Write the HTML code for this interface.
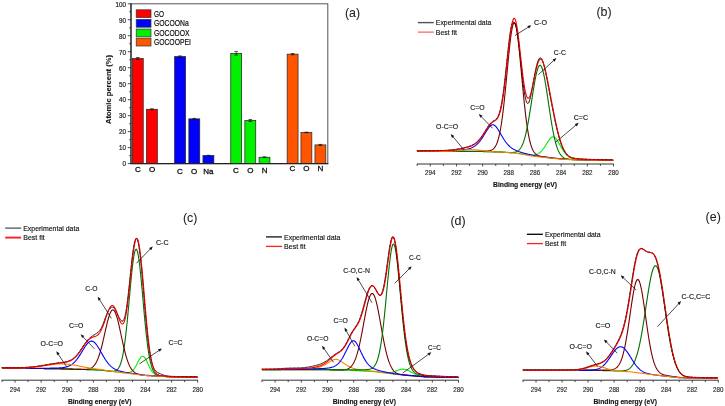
<!DOCTYPE html>
<html><head><meta charset="utf-8"><title>XPS figure</title>
<style>
html,body{margin:0;padding:0;background:#fff;}
body{width:725px;height:406px;overflow:hidden;}
svg{display:block;font-family:"Liberation Sans",sans-serif;will-change:transform;filter:blur(0.3px);}
</style></head>
<body>
<svg width="725" height="406" viewBox="0 0 725 406">
<rect x="0" y="0" width="725" height="406" fill="#fff"/>
<rect x="132.35" y="58.45" width="10.90" height="105.15" fill="#ff0000" stroke="#222" stroke-width="0.7"/>
<line x1="137.80" y1="57.49" x2="137.80" y2="59.41" stroke="#111" stroke-width="0.6"/>
<line x1="136.00" y1="57.49" x2="139.60" y2="57.49" stroke="#111" stroke-width="0.7"/>
<line x1="136.00" y1="59.41" x2="139.60" y2="59.41" stroke="#111" stroke-width="0.7"/>
<rect x="146.45" y="109.27" width="10.90" height="54.33" fill="#ff0000" stroke="#222" stroke-width="0.7"/>
<line x1="151.90" y1="108.79" x2="151.90" y2="109.75" stroke="#111" stroke-width="0.6"/>
<line x1="150.10" y1="108.79" x2="153.70" y2="108.79" stroke="#111" stroke-width="0.7"/>
<line x1="150.10" y1="109.75" x2="153.70" y2="109.75" stroke="#111" stroke-width="0.7"/>
<rect x="174.65" y="56.53" width="10.90" height="107.07" fill="#0000ff" stroke="#222" stroke-width="0.7"/>
<line x1="180.10" y1="55.89" x2="180.10" y2="57.17" stroke="#111" stroke-width="0.6"/>
<line x1="178.30" y1="55.89" x2="181.90" y2="55.89" stroke="#111" stroke-width="0.7"/>
<line x1="178.30" y1="57.17" x2="181.90" y2="57.17" stroke="#111" stroke-width="0.7"/>
<rect x="188.85" y="118.86" width="10.90" height="44.74" fill="#0000ff" stroke="#222" stroke-width="0.7"/>
<line x1="194.30" y1="118.38" x2="194.30" y2="119.34" stroke="#111" stroke-width="0.6"/>
<line x1="192.50" y1="118.38" x2="196.10" y2="118.38" stroke="#111" stroke-width="0.7"/>
<line x1="192.50" y1="119.34" x2="196.10" y2="119.34" stroke="#111" stroke-width="0.7"/>
<rect x="202.95" y="155.61" width="10.90" height="7.99" fill="#0000ff" stroke="#222" stroke-width="0.7"/>
<line x1="208.40" y1="155.29" x2="208.40" y2="155.93" stroke="#111" stroke-width="0.6"/>
<line x1="206.60" y1="155.29" x2="210.20" y2="155.29" stroke="#111" stroke-width="0.7"/>
<line x1="206.60" y1="155.93" x2="210.20" y2="155.93" stroke="#111" stroke-width="0.7"/>
<rect x="230.75" y="53.34" width="10.90" height="110.26" fill="#00f000" stroke="#222" stroke-width="0.7"/>
<line x1="236.20" y1="51.58" x2="236.20" y2="55.10" stroke="#111" stroke-width="0.6"/>
<line x1="234.40" y1="51.58" x2="238.00" y2="51.58" stroke="#111" stroke-width="0.7"/>
<line x1="234.40" y1="55.10" x2="238.00" y2="55.10" stroke="#111" stroke-width="0.7"/>
<rect x="244.85" y="120.45" width="10.90" height="43.15" fill="#00f000" stroke="#222" stroke-width="0.7"/>
<line x1="250.30" y1="119.50" x2="250.30" y2="121.41" stroke="#111" stroke-width="0.6"/>
<line x1="248.50" y1="119.50" x2="252.10" y2="119.50" stroke="#111" stroke-width="0.7"/>
<line x1="248.50" y1="121.41" x2="252.10" y2="121.41" stroke="#111" stroke-width="0.7"/>
<rect x="259.05" y="157.21" width="10.90" height="6.39" fill="#00f000" stroke="#222" stroke-width="0.7"/>
<line x1="264.50" y1="156.89" x2="264.50" y2="157.53" stroke="#111" stroke-width="0.6"/>
<line x1="262.70" y1="156.89" x2="266.30" y2="156.89" stroke="#111" stroke-width="0.7"/>
<line x1="262.70" y1="157.53" x2="266.30" y2="157.53" stroke="#111" stroke-width="0.7"/>
<rect x="287.15" y="54.14" width="10.90" height="109.46" fill="#ff5500" stroke="#222" stroke-width="0.7"/>
<line x1="292.60" y1="53.50" x2="292.60" y2="54.78" stroke="#111" stroke-width="0.6"/>
<line x1="290.80" y1="53.50" x2="294.40" y2="53.50" stroke="#111" stroke-width="0.7"/>
<line x1="290.80" y1="54.78" x2="294.40" y2="54.78" stroke="#111" stroke-width="0.7"/>
<rect x="300.95" y="132.44" width="10.90" height="31.16" fill="#ff5500" stroke="#222" stroke-width="0.7"/>
<line x1="306.40" y1="132.12" x2="306.40" y2="132.76" stroke="#111" stroke-width="0.6"/>
<line x1="304.60" y1="132.12" x2="308.20" y2="132.12" stroke="#111" stroke-width="0.7"/>
<line x1="304.60" y1="132.76" x2="308.20" y2="132.76" stroke="#111" stroke-width="0.7"/>
<rect x="314.95" y="144.90" width="10.90" height="18.70" fill="#ff5500" stroke="#222" stroke-width="0.7"/>
<line x1="320.40" y1="144.42" x2="320.40" y2="145.38" stroke="#111" stroke-width="0.6"/>
<line x1="318.60" y1="144.42" x2="322.20" y2="144.42" stroke="#111" stroke-width="0.7"/>
<line x1="318.60" y1="145.38" x2="322.20" y2="145.38" stroke="#111" stroke-width="0.7"/>
<rect x="131.00" y="3.80" width="196.80" height="159.80" fill="none" stroke="#555" stroke-width="1"/>
<line x1="131.00" y1="3.30" x2="131.00" y2="164.10" stroke="#222" stroke-width="1.2"/>
<line x1="130.50" y1="163.60" x2="328.30" y2="163.60" stroke="#222" stroke-width="1.2"/>
<line x1="127.80" y1="163.60" x2="131.00" y2="163.60" stroke="#222" stroke-width="0.8"/>
<line x1="129.20" y1="155.61" x2="131.00" y2="155.61" stroke="#222" stroke-width="0.8"/>
<line x1="127.80" y1="147.62" x2="131.00" y2="147.62" stroke="#222" stroke-width="0.8"/>
<line x1="129.20" y1="139.63" x2="131.00" y2="139.63" stroke="#222" stroke-width="0.8"/>
<line x1="127.80" y1="131.64" x2="131.00" y2="131.64" stroke="#222" stroke-width="0.8"/>
<line x1="129.20" y1="123.65" x2="131.00" y2="123.65" stroke="#222" stroke-width="0.8"/>
<line x1="127.80" y1="115.66" x2="131.00" y2="115.66" stroke="#222" stroke-width="0.8"/>
<line x1="129.20" y1="107.67" x2="131.00" y2="107.67" stroke="#222" stroke-width="0.8"/>
<line x1="127.80" y1="99.68" x2="131.00" y2="99.68" stroke="#222" stroke-width="0.8"/>
<line x1="129.20" y1="91.69" x2="131.00" y2="91.69" stroke="#222" stroke-width="0.8"/>
<line x1="127.80" y1="83.70" x2="131.00" y2="83.70" stroke="#222" stroke-width="0.8"/>
<line x1="129.20" y1="75.71" x2="131.00" y2="75.71" stroke="#222" stroke-width="0.8"/>
<line x1="127.80" y1="67.72" x2="131.00" y2="67.72" stroke="#222" stroke-width="0.8"/>
<line x1="129.20" y1="59.73" x2="131.00" y2="59.73" stroke="#222" stroke-width="0.8"/>
<line x1="127.80" y1="51.74" x2="131.00" y2="51.74" stroke="#222" stroke-width="0.8"/>
<line x1="129.20" y1="43.75" x2="131.00" y2="43.75" stroke="#222" stroke-width="0.8"/>
<line x1="127.80" y1="35.76" x2="131.00" y2="35.76" stroke="#222" stroke-width="0.8"/>
<line x1="129.20" y1="27.77" x2="131.00" y2="27.77" stroke="#222" stroke-width="0.8"/>
<line x1="127.80" y1="19.78" x2="131.00" y2="19.78" stroke="#222" stroke-width="0.8"/>
<line x1="129.20" y1="11.79" x2="131.00" y2="11.79" stroke="#222" stroke-width="0.8"/>
<line x1="127.80" y1="3.80" x2="131.00" y2="3.80" stroke="#222" stroke-width="0.8"/>
<text x="126.00" y="166.40" font-size="7.8" text-anchor="end" textLength="3.50" lengthAdjust="spacingAndGlyphs" fill="#222" stroke="#222" stroke-width="0.22">0</text>
<text x="126.00" y="150.42" font-size="7.8" text-anchor="end" textLength="7.00" lengthAdjust="spacingAndGlyphs" fill="#222" stroke="#222" stroke-width="0.22">10</text>
<text x="126.00" y="134.44" font-size="7.8" text-anchor="end" textLength="7.00" lengthAdjust="spacingAndGlyphs" fill="#222" stroke="#222" stroke-width="0.22">20</text>
<text x="126.00" y="118.46" font-size="7.8" text-anchor="end" textLength="7.00" lengthAdjust="spacingAndGlyphs" fill="#222" stroke="#222" stroke-width="0.22">30</text>
<text x="126.00" y="102.48" font-size="7.8" text-anchor="end" textLength="7.00" lengthAdjust="spacingAndGlyphs" fill="#222" stroke="#222" stroke-width="0.22">40</text>
<text x="126.00" y="86.50" font-size="7.8" text-anchor="end" textLength="7.00" lengthAdjust="spacingAndGlyphs" fill="#222" stroke="#222" stroke-width="0.22">50</text>
<text x="126.00" y="70.52" font-size="7.8" text-anchor="end" textLength="7.00" lengthAdjust="spacingAndGlyphs" fill="#222" stroke="#222" stroke-width="0.22">60</text>
<text x="126.00" y="54.54" font-size="7.8" text-anchor="end" textLength="7.00" lengthAdjust="spacingAndGlyphs" fill="#222" stroke="#222" stroke-width="0.22">70</text>
<text x="126.00" y="38.56" font-size="7.8" text-anchor="end" textLength="7.00" lengthAdjust="spacingAndGlyphs" fill="#222" stroke="#222" stroke-width="0.22">80</text>
<text x="126.00" y="22.58" font-size="7.8" text-anchor="end" textLength="7.00" lengthAdjust="spacingAndGlyphs" fill="#222" stroke="#222" stroke-width="0.22">90</text>
<text x="126.00" y="6.60" font-size="7.8" text-anchor="end" textLength="10.50" lengthAdjust="spacingAndGlyphs" fill="#222" stroke="#222" stroke-width="0.22">100</text>
<text x="110.80" y="89.50" font-size="7.2" text-anchor="middle" font-weight="bold" textLength="69.00" lengthAdjust="spacingAndGlyphs" transform="rotate(-90 110.80 89.50)" fill="#1a1a1a" stroke="#1a1a1a" stroke-width="0.14">Atomic percent (%)</text>
<rect x="136.20" y="9.80" width="14.80" height="7.80" fill="#ff0000" stroke="#333" stroke-width="0.7"/>
<rect x="136.20" y="19.40" width="14.80" height="7.80" fill="#0000ff" stroke="#333" stroke-width="0.7"/>
<rect x="136.20" y="29.05" width="14.80" height="7.80" fill="#00f000" stroke="#333" stroke-width="0.7"/>
<rect x="136.20" y="38.20" width="14.80" height="7.80" fill="#ff5500" stroke="#333" stroke-width="0.7"/>
<text x="153.90" y="16.80" font-size="8.7" textLength="10.00" lengthAdjust="spacingAndGlyphs" fill="#111" stroke="#111" stroke-width="0.2">GO</text>
<text x="153.90" y="26.40" font-size="8.7" textLength="34.80" lengthAdjust="spacingAndGlyphs" fill="#111" stroke="#111" stroke-width="0.2">GOCOONa</text>
<text x="153.90" y="36.05" font-size="8.7" textLength="35.80" lengthAdjust="spacingAndGlyphs" fill="#111" stroke="#111" stroke-width="0.2">GOCODOX</text>
<text x="153.90" y="45.20" font-size="8.7" textLength="37.00" lengthAdjust="spacingAndGlyphs" fill="#111" stroke="#111" stroke-width="0.2">GOCOOPEI</text>
<text x="137.80" y="172.20" font-size="8.0" text-anchor="middle" fill="#111" stroke="#111" stroke-width="0.3">C</text>
<text x="152.00" y="172.20" font-size="8.0" text-anchor="middle" fill="#111" stroke="#111" stroke-width="0.3">O</text>
<text x="180.00" y="173.50" font-size="8.0" text-anchor="middle" fill="#111" stroke="#111" stroke-width="0.3">C</text>
<text x="194.20" y="173.50" font-size="8.0" text-anchor="middle" fill="#111" stroke="#111" stroke-width="0.3">O</text>
<text x="208.40" y="173.50" font-size="8.0" text-anchor="middle" fill="#111" stroke="#111" stroke-width="0.3">Na</text>
<text x="236.00" y="172.60" font-size="8.0" text-anchor="middle" fill="#111" stroke="#111" stroke-width="0.3">C</text>
<text x="250.30" y="172.60" font-size="8.0" text-anchor="middle" fill="#111" stroke="#111" stroke-width="0.3">O</text>
<text x="264.60" y="172.60" font-size="8.0" text-anchor="middle" fill="#111" stroke="#111" stroke-width="0.3">N</text>
<text x="292.50" y="171.10" font-size="8.0" text-anchor="middle" fill="#111" stroke="#111" stroke-width="0.3">C</text>
<text x="306.40" y="171.10" font-size="8.0" text-anchor="middle" fill="#111" stroke="#111" stroke-width="0.3">O</text>
<text x="320.50" y="171.10" font-size="8.0" text-anchor="middle" fill="#111" stroke="#111" stroke-width="0.3">N</text>
<text x="352.50" y="16.70" font-size="12.4" text-anchor="middle" fill="#222" stroke="#222" stroke-width="0.05">(a)</text>
<line x1="416.90" y1="164.00" x2="613.80" y2="164.00" stroke="#333" stroke-width="1.0"/>
<line x1="417.20" y1="164.00" x2="417.20" y2="165.90" stroke="#333" stroke-width="0.9"/>
<line x1="430.29" y1="164.00" x2="430.29" y2="166.40" stroke="#333" stroke-width="0.9"/>
<line x1="443.37" y1="164.00" x2="443.37" y2="165.90" stroke="#333" stroke-width="0.9"/>
<line x1="456.46" y1="164.00" x2="456.46" y2="166.40" stroke="#333" stroke-width="0.9"/>
<line x1="469.55" y1="164.00" x2="469.55" y2="165.90" stroke="#333" stroke-width="0.9"/>
<line x1="482.63" y1="164.00" x2="482.63" y2="166.40" stroke="#333" stroke-width="0.9"/>
<line x1="495.72" y1="164.00" x2="495.72" y2="165.90" stroke="#333" stroke-width="0.9"/>
<line x1="508.81" y1="164.00" x2="508.81" y2="166.40" stroke="#333" stroke-width="0.9"/>
<line x1="521.89" y1="164.00" x2="521.89" y2="165.90" stroke="#333" stroke-width="0.9"/>
<line x1="534.98" y1="164.00" x2="534.98" y2="166.40" stroke="#333" stroke-width="0.9"/>
<line x1="548.07" y1="164.00" x2="548.07" y2="165.90" stroke="#333" stroke-width="0.9"/>
<line x1="561.15" y1="164.00" x2="561.15" y2="166.40" stroke="#333" stroke-width="0.9"/>
<line x1="574.24" y1="164.00" x2="574.24" y2="165.90" stroke="#333" stroke-width="0.9"/>
<line x1="587.33" y1="164.00" x2="587.33" y2="166.40" stroke="#333" stroke-width="0.9"/>
<line x1="600.41" y1="164.00" x2="600.41" y2="165.90" stroke="#333" stroke-width="0.9"/>
<line x1="613.50" y1="164.00" x2="613.50" y2="166.40" stroke="#333" stroke-width="0.9"/>
<text x="430.29" y="174.80" font-size="7.2" text-anchor="middle" textLength="10.40" lengthAdjust="spacingAndGlyphs" fill="#222" stroke="#222" stroke-width="0.14">294</text>
<text x="456.46" y="174.80" font-size="7.2" text-anchor="middle" textLength="10.40" lengthAdjust="spacingAndGlyphs" fill="#222" stroke="#222" stroke-width="0.14">292</text>
<text x="482.63" y="174.80" font-size="7.2" text-anchor="middle" textLength="10.40" lengthAdjust="spacingAndGlyphs" fill="#222" stroke="#222" stroke-width="0.14">290</text>
<text x="508.81" y="174.80" font-size="7.2" text-anchor="middle" textLength="10.40" lengthAdjust="spacingAndGlyphs" fill="#222" stroke="#222" stroke-width="0.14">288</text>
<text x="534.98" y="174.80" font-size="7.2" text-anchor="middle" textLength="10.40" lengthAdjust="spacingAndGlyphs" fill="#222" stroke="#222" stroke-width="0.14">286</text>
<text x="561.15" y="174.80" font-size="7.2" text-anchor="middle" textLength="10.40" lengthAdjust="spacingAndGlyphs" fill="#222" stroke="#222" stroke-width="0.14">284</text>
<text x="587.33" y="174.80" font-size="7.2" text-anchor="middle" textLength="10.40" lengthAdjust="spacingAndGlyphs" fill="#222" stroke="#222" stroke-width="0.14">282</text>
<text x="613.50" y="174.80" font-size="7.2" text-anchor="middle" textLength="10.40" lengthAdjust="spacingAndGlyphs" fill="#222" stroke="#222" stroke-width="0.14">280</text>
<text x="493.00" y="186.60" font-size="7.4" font-weight="bold" textLength="64.00" lengthAdjust="spacingAndGlyphs" fill="#111" stroke="#111" stroke-width="0.14">Binding energy (eV)</text>
<path d="M417.2,151.38 L417.7,151.38 L418.2,151.38 L418.7,151.38 L419.2,151.38 L419.7,151.38 L420.2,151.38 L420.7,151.38 L421.2,151.38 L421.7,151.38 L422.2,151.39 L422.7,151.39 L423.2,151.39 L423.7,151.39 L424.2,151.39 L424.7,151.39 L425.2,151.39 L425.7,151.39 L426.2,151.39 L426.7,151.39 L427.2,151.39 L427.7,151.39 L428.2,151.39 L428.7,151.39 L429.2,151.39 L429.7,151.39 L430.2,151.40 L430.7,151.40 L431.2,151.40 L431.7,151.40 L432.2,151.40 L432.7,151.40 L433.2,151.40 L433.7,151.40 L434.2,151.40 L434.7,151.40 L435.2,151.40 L435.7,151.40 L436.2,151.40 L436.7,151.40 L437.2,151.40 L437.7,151.40 L438.2,151.40 L438.7,151.40 L439.2,151.41 L439.7,151.41 L440.2,151.41 L440.7,151.41 L441.2,151.41 L441.7,151.41 L442.2,151.41 L442.7,151.41 L443.2,151.41 L443.7,151.41 L444.2,151.41 L444.7,151.41 L445.2,151.41 L445.7,151.41 L446.2,151.41 L446.7,151.41 L447.2,151.41 L447.7,151.41 L448.2,151.41 L448.7,151.41 L449.2,151.42 L449.7,151.42 L450.2,151.42 L450.7,151.42 L451.2,151.42 L451.7,151.42 L452.2,151.42 L452.7,151.42 L453.2,151.42 L453.7,151.42 L454.2,151.42 L454.7,151.42 L455.2,151.42 L455.7,151.42 L456.2,151.42 L456.7,151.42 L457.2,151.42 L457.7,151.42 L458.2,151.42 L458.7,151.42 L459.2,151.42 L459.7,151.42 L460.2,151.42 L460.7,151.42 L461.2,151.42 L461.7,151.42 L462.2,151.42 L462.7,151.43 L463.2,151.43 L463.7,151.43 L464.2,151.43 L464.7,151.43 L465.2,151.43 L465.7,151.43 L466.2,151.43 L466.7,151.43 L467.2,151.43 L467.7,151.43 L468.2,151.43 L468.7,151.43 L469.2,151.43 L469.7,151.43 L470.2,151.43 L470.7,151.43 L471.2,151.43 L471.7,151.43 L472.2,151.43 L472.7,151.43 L473.2,151.43 L473.7,151.43 L474.2,151.43 L474.7,151.43 L475.2,151.43 L475.7,151.43 L476.2,151.43 L476.7,151.43 L477.2,151.43 L477.7,151.43 L478.2,151.43 L478.7,151.43 L479.2,151.43 L479.7,151.43 L480.2,151.43 L480.7,151.44 L481.2,151.46 L481.7,151.47 L482.2,151.48 L482.7,151.49 L483.2,151.50 L483.7,151.51 L484.2,151.52 L484.7,151.54 L485.2,151.55 L485.7,151.56 L486.2,151.57 L486.7,151.58 L487.2,151.59 L487.7,151.60 L488.2,151.61 L488.7,151.62 L489.2,151.64 L489.7,151.65 L490.2,151.66 L490.7,151.67 L491.2,151.68 L491.7,151.69 L492.2,151.70 L492.7,151.71 L493.2,151.72 L493.7,151.73 L494.2,151.74 L494.7,151.76 L495.2,151.77 L495.7,151.78 L496.2,151.79 L496.7,151.80 L497.2,151.81 L497.7,151.82 L498.2,151.83 L498.7,151.84 L499.2,151.85 L499.7,151.86 L500.2,151.88 L500.7,151.91 L501.2,151.95 L501.7,151.98 L502.2,152.01 L502.7,152.05 L503.2,152.08 L503.7,152.12 L504.2,152.15 L504.7,152.18 L505.2,152.22 L505.7,152.25 L506.2,152.28 L506.7,152.32 L507.2,152.35 L507.7,152.38 L508.2,152.41 L508.7,152.45 L509.2,152.48 L509.7,152.51 L510.2,152.54 L510.7,152.58 L511.2,152.61 L511.7,152.64 L512.2,152.67 L512.7,152.70 L513.2,152.73 L513.7,152.76 L514.2,152.80 L514.7,152.83 L515.2,152.88 L515.7,152.95 L516.2,153.03 L516.7,153.11 L517.2,153.19 L517.7,153.27 L518.2,153.34 L518.7,153.42 L519.2,153.50 L519.7,153.57 L520.2,153.65 L520.7,153.72 L521.2,153.80 L521.7,153.87 L522.2,153.94 L522.7,154.02 L523.2,154.09 L523.7,154.16 L524.2,154.23 L524.7,154.30 L525.2,154.37 L525.7,154.44 L526.2,154.50 L526.7,154.57 L527.2,154.63 L527.7,154.69 L528.2,154.74 L528.7,154.80 L529.2,154.85 L529.7,154.90 L530.2,154.94 L530.7,154.97 L531.2,155.00 L531.7,155.02 L532.2,155.03 L532.7,155.04 L533.2,155.03 L533.7,155.01 L534.2,154.97 L534.7,154.92 L535.2,154.83 L535.7,154.71 L536.2,154.56 L536.7,154.39 L537.2,154.19 L537.7,153.96 L538.2,153.70 L538.7,153.40 L539.2,153.07 L539.7,152.70 L540.2,152.30 L540.7,151.85 L541.2,151.36 L541.7,150.83 L542.2,150.26 L542.7,149.65 L543.2,149.00 L543.7,148.32 L544.2,147.60 L544.7,146.85 L545.2,146.08 L545.7,145.29 L546.2,144.49 L546.7,143.67 L547.2,142.87 L547.7,142.07 L548.2,141.29 L548.7,140.54 L549.2,139.83 L549.7,139.17 L550.2,138.57 L550.7,138.05 L551.2,137.61 L551.7,137.27 L552.2,137.03 L552.7,136.89 L553.2,136.87 L553.7,136.97 L554.2,137.17 L554.7,137.49 L555.2,137.91 L555.7,138.41 L556.2,138.99 L556.7,139.66 L557.2,140.39 L557.7,141.17 L558.2,142.00 L558.7,142.86 L559.2,143.74 L559.7,144.64 L560.2,145.54 L560.7,146.44 L561.2,147.32 L561.7,148.19 L562.2,149.03 L562.7,149.84 L563.2,150.63 L563.7,151.37 L564.2,152.08 L564.7,152.75 L565.2,153.38 L565.7,153.97 L566.2,154.51 L566.7,155.02 L567.2,155.49 L567.7,155.92 L568.2,156.31 L568.7,156.67 L569.2,156.98 L569.7,157.26 L570.2,157.50 L570.7,157.72 L571.2,157.92 L571.7,158.09 L572.2,158.25 L572.7,158.39 L573.2,158.51 L573.7,158.62 L574.2,158.72 L574.7,158.81 L575.2,158.88 L575.7,158.96 L576.2,159.02 L576.7,159.08 L577.2,159.13 L577.7,159.18 L578.2,159.22 L578.7,159.26 L579.2,159.30 L579.7,159.34 L580.2,159.37 L580.7,159.40 L581.2,159.44 L581.7,159.46 L582.2,159.49 L582.7,159.52 L583.2,159.55 L583.7,159.57 L584.2,159.60 L584.7,159.62 L585.2,159.64 L585.7,159.66 L586.2,159.68 L586.7,159.69 L587.2,159.71 L587.7,159.72 L588.2,159.74 L588.7,159.76 L589.2,159.77 L589.7,159.78 L590.2,159.80 L590.7,159.81 L591.2,159.83 L591.7,159.84 L592.2,159.85 L592.7,159.86 L593.2,159.88 L593.7,159.89 L594.2,159.90 L594.7,159.91 L595.2,159.93 L595.7,159.94 L596.2,159.95 L596.7,159.96 L597.2,159.97 L597.7,159.98 L598.2,159.99 L598.7,160.01 L599.2,160.02 L599.7,160.03 L600.2,160.04 L600.7,160.05 L601.2,160.06 L601.7,160.07 L602.2,160.08 L602.7,160.09 L603.2,160.10 L603.7,160.11 L604.2,160.12 L604.7,160.13 L605.2,160.14 L605.7,160.15 L606.2,160.16 L606.7,160.17 L607.2,160.17 L607.7,160.18 L608.2,160.19 L608.7,160.20 L609.2,160.21 L609.7,160.22 L610.2,160.23 L610.7,160.24 L611.2,160.25 L611.7,160.26 L612.2,160.26 L612.7,160.27 L613.2,160.28" fill="none" stroke="#00ee00" stroke-width="1.1" stroke-linejoin="round" stroke-opacity="1.0"/>
<path d="M417.2,151.14 L417.7,151.13 L418.2,151.13 L418.7,151.13 L419.2,151.13 L419.7,151.12 L420.2,151.12 L420.7,151.12 L421.2,151.11 L421.7,151.11 L422.2,151.11 L422.7,151.10 L423.2,151.10 L423.7,151.10 L424.2,151.09 L424.7,151.09 L425.2,151.09 L425.7,151.08 L426.2,151.08 L426.7,151.07 L427.2,151.07 L427.7,151.06 L428.2,151.06 L428.7,151.06 L429.2,151.05 L429.7,151.05 L430.2,151.04 L430.7,151.04 L431.2,151.03 L431.7,151.02 L432.2,151.02 L432.7,151.01 L433.2,151.01 L433.7,151.00 L434.2,151.00 L434.7,150.99 L435.2,150.98 L435.7,150.98 L436.2,150.97 L436.7,150.96 L437.2,150.95 L437.7,150.95 L438.2,150.94 L438.7,150.93 L439.2,150.92 L439.7,150.91 L440.2,150.90 L440.7,150.90 L441.2,150.89 L441.7,150.88 L442.2,150.87 L442.7,150.86 L443.2,150.85 L443.7,150.84 L444.2,150.82 L444.7,150.81 L445.2,150.80 L445.7,150.79 L446.2,150.78 L446.7,150.76 L447.2,150.75 L447.7,150.73 L448.2,150.72 L448.7,150.71 L449.2,150.69 L449.7,150.67 L450.2,150.66 L450.7,150.64 L451.2,150.62 L451.7,150.60 L452.2,150.59 L452.7,150.57 L453.2,150.55 L453.7,150.52 L454.2,150.50 L454.7,150.48 L455.2,150.45 L455.7,150.43 L456.2,150.40 L456.7,150.38 L457.2,150.35 L457.7,150.32 L458.2,150.29 L458.7,150.25 L459.2,150.22 L459.7,150.18 L460.2,150.14 L460.7,150.10 L461.2,150.06 L461.7,150.02 L462.2,149.97 L462.7,149.91 L463.2,149.86 L463.7,149.80 L464.2,149.74 L464.7,149.67 L465.2,149.59 L465.7,149.51 L466.2,149.43 L466.7,149.33 L467.2,149.23 L467.7,149.12 L468.2,149.01 L468.7,148.88 L469.2,148.74 L469.7,148.59 L470.2,148.42 L470.7,148.24 L471.2,148.05 L471.7,147.84 L472.2,147.61 L472.7,147.36 L473.2,147.09 L473.7,146.80 L474.2,146.49 L474.7,146.16 L475.2,145.80 L475.7,145.42 L476.2,145.01 L476.7,144.57 L477.2,144.10 L477.7,143.60 L478.2,143.08 L478.7,142.53 L479.2,141.94 L479.7,141.33 L480.2,140.69 L480.7,140.03 L481.2,139.34 L481.7,138.63 L482.2,137.89 L482.7,137.13 L483.2,136.35 L483.7,135.56 L484.2,134.75 L484.7,133.93 L485.2,133.10 L485.7,132.28 L486.2,131.46 L486.7,130.65 L487.2,129.86 L487.7,129.09 L488.2,128.36 L488.7,127.67 L489.2,127.04 L489.7,126.46 L490.2,125.96 L490.7,125.53 L491.2,125.18 L491.7,124.93 L492.2,124.77 L492.7,124.71 L493.2,124.75 L493.7,124.89 L494.2,125.13 L494.7,125.46 L495.2,125.88 L495.7,126.38 L496.2,126.95 L496.7,127.58 L497.2,128.27 L497.7,129.01 L498.2,129.79 L498.7,130.59 L499.2,131.42 L499.7,132.26 L500.2,133.12 L500.7,133.99 L501.2,134.86 L501.7,135.73 L502.2,136.58 L502.7,137.42 L503.2,138.24 L503.7,139.03 L504.2,139.81 L504.7,140.55 L505.2,141.27 L505.7,141.97 L506.2,142.63 L506.7,143.26 L507.2,143.87 L507.7,144.45 L508.2,144.99 L508.7,145.51 L509.2,146.00 L509.7,146.46 L510.2,146.89 L510.7,147.30 L511.2,147.68 L511.7,148.04 L512.2,148.37 L512.7,148.69 L513.2,148.98 L513.7,149.25 L514.2,149.51 L514.7,149.75 L515.2,149.99 L515.7,150.25 L516.2,150.49 L516.7,150.72 L517.2,150.94 L517.7,151.15 L518.2,151.35 L518.7,151.54 L519.2,151.72 L519.7,151.90 L520.2,152.07 L520.7,152.23 L521.2,152.39 L521.7,152.54 L522.2,152.68 L522.7,152.83 L523.2,152.97 L523.7,153.10 L524.2,153.23 L524.7,153.36 L525.2,153.49 L525.7,153.62 L526.2,153.74 L526.7,153.86 L527.2,153.98 L527.7,154.10 L528.2,154.21 L528.7,154.33 L529.2,154.44 L529.7,154.56 L530.2,154.67 L530.7,154.78 L531.2,154.89 L531.7,154.99 L532.2,155.10 L532.7,155.21 L533.2,155.31 L533.7,155.42 L534.2,155.52 L534.7,155.63 L535.2,155.72 L535.7,155.79 L536.2,155.86 L536.7,155.93 L537.2,156.00 L537.7,156.06 L538.2,156.13 L538.7,156.20 L539.2,156.26 L539.7,156.33 L540.2,156.40 L540.7,156.46 L541.2,156.53 L541.7,156.59 L542.2,156.66 L542.7,156.72 L543.2,156.78 L543.7,156.85 L544.2,156.91 L544.7,156.97 L545.2,157.03 L545.7,157.10 L546.2,157.16 L546.7,157.22 L547.2,157.28 L547.7,157.34 L548.2,157.40 L548.7,157.46 L549.2,157.53 L549.7,157.59 L550.2,157.65 L550.7,157.71 L551.2,157.77 L551.7,157.83 L552.2,157.88 L552.7,157.94 L553.2,158.00 L553.7,158.06 L554.2,158.12 L554.7,158.18 L555.2,158.23 L555.7,158.27 L556.2,158.31 L556.7,158.36 L557.2,158.40 L557.7,158.44 L558.2,158.48 L558.7,158.52 L559.2,158.56 L559.7,158.60 L560.2,158.64 L560.7,158.68 L561.2,158.72 L561.7,158.76 L562.2,158.80 L562.7,158.84 L563.2,158.88 L563.7,158.92 L564.2,158.96 L564.7,159.00 L565.2,159.04 L565.7,159.08 L566.2,159.12 L566.7,159.16 L567.2,159.20 L567.7,159.24 L568.2,159.28 L568.7,159.32 L569.2,159.35 L569.7,159.36 L570.2,159.38 L570.7,159.39 L571.2,159.41 L571.7,159.43 L572.2,159.44 L572.7,159.46 L573.2,159.47 L573.7,159.49 L574.2,159.50 L574.7,159.52 L575.2,159.53 L575.7,159.55 L576.2,159.56 L576.7,159.58 L577.2,159.59 L577.7,159.61 L578.2,159.62 L578.7,159.64 L579.2,159.65 L579.7,159.67 L580.2,159.68 L580.7,159.70 L581.2,159.71 L581.7,159.73 L582.2,159.74 L582.7,159.76 L583.2,159.77 L583.7,159.78 L584.2,159.80 L584.7,159.81 L585.2,159.83 L585.7,159.83 L586.2,159.84 L586.7,159.85 L587.2,159.86 L587.7,159.87 L588.2,159.88 L588.7,159.89 L589.2,159.89 L589.7,159.90 L590.2,159.91 L590.7,159.92 L591.2,159.93 L591.7,159.94 L592.2,159.95 L592.7,159.95 L593.2,159.96 L593.7,159.97 L594.2,159.98 L594.7,159.99 L595.2,160.00 L595.7,160.00 L596.2,160.01 L596.7,160.02 L597.2,160.03 L597.7,160.04 L598.2,160.05 L598.7,160.05 L599.2,160.06 L599.7,160.07 L600.2,160.08 L600.7,160.09 L601.2,160.09 L601.7,160.10 L602.2,160.11 L602.7,160.12 L603.2,160.13 L603.7,160.13 L604.2,160.14 L604.7,160.15 L605.2,160.16 L605.7,160.17 L606.2,160.17 L606.7,160.18 L607.2,160.19 L607.7,160.20 L608.2,160.21 L608.7,160.21 L609.2,160.22 L609.7,160.23 L610.2,160.24 L610.7,160.25 L611.2,160.25 L611.7,160.26 L612.2,160.27 L612.7,160.28 L613.2,160.28" fill="none" stroke="#0000ff" stroke-width="1.1" stroke-linejoin="round" stroke-opacity="1.0"/>
<path d="M417.2,151.36 L417.7,151.36 L418.2,151.36 L418.7,151.36 L419.2,151.36 L419.7,151.36 L420.2,151.36 L420.7,151.36 L421.2,151.36 L421.7,151.36 L422.2,151.36 L422.7,151.36 L423.2,151.36 L423.7,151.36 L424.2,151.36 L424.7,151.36 L425.2,151.36 L425.7,151.36 L426.2,151.36 L426.7,151.36 L427.2,151.36 L427.7,151.36 L428.2,151.36 L428.7,151.36 L429.2,151.36 L429.7,151.36 L430.2,151.36 L430.7,151.36 L431.2,151.36 L431.7,151.36 L432.2,151.36 L432.7,151.36 L433.2,151.36 L433.7,151.36 L434.2,151.36 L434.7,151.36 L435.2,151.36 L435.7,151.36 L436.2,151.36 L436.7,151.36 L437.2,151.36 L437.7,151.36 L438.2,151.36 L438.7,151.36 L439.2,151.36 L439.7,151.36 L440.2,151.36 L440.7,151.36 L441.2,151.36 L441.7,151.36 L442.2,151.36 L442.7,151.36 L443.2,151.36 L443.7,151.36 L444.2,151.36 L444.7,151.36 L445.2,151.36 L445.7,151.36 L446.2,151.36 L446.7,151.36 L447.2,151.35 L447.7,151.35 L448.2,151.35 L448.7,151.35 L449.2,151.35 L449.7,151.35 L450.2,151.35 L450.7,151.35 L451.2,151.35 L451.7,151.35 L452.2,151.35 L452.7,151.35 L453.2,151.35 L453.7,151.34 L454.2,151.34 L454.7,151.34 L455.2,151.34 L455.7,151.34 L456.2,151.34 L456.7,151.34 L457.2,151.34 L457.7,151.33 L458.2,151.33 L458.7,151.33 L459.2,151.33 L459.7,151.33 L460.2,151.33 L460.7,151.32 L461.2,151.32 L461.7,151.32 L462.2,151.32 L462.7,151.32 L463.2,151.31 L463.7,151.31 L464.2,151.31 L464.7,151.31 L465.2,151.30 L465.7,151.30 L466.2,151.30 L466.7,151.30 L467.2,151.29 L467.7,151.29 L468.2,151.29 L468.7,151.28 L469.2,151.28 L469.7,151.28 L470.2,151.27 L470.7,151.27 L471.2,151.26 L471.7,151.26 L472.2,151.26 L472.7,151.25 L473.2,151.25 L473.7,151.24 L474.2,151.24 L474.7,151.23 L475.2,151.23 L475.7,151.22 L476.2,151.21 L476.7,151.21 L477.2,151.20 L477.7,151.19 L478.2,151.19 L478.7,151.18 L479.2,151.17 L479.7,151.16 L480.2,151.16 L480.7,151.16 L481.2,151.16 L481.7,151.16 L482.2,151.16 L482.7,151.16 L483.2,151.15 L483.7,151.15 L484.2,151.14 L484.7,151.13 L485.2,151.12 L485.7,151.10 L486.2,151.08 L486.7,151.05 L487.2,151.01 L487.7,150.97 L488.2,150.91 L488.7,150.85 L489.2,150.76 L489.7,150.66 L490.2,150.53 L490.7,150.38 L491.2,150.19 L491.7,149.97 L492.2,149.70 L492.7,149.38 L493.2,149.00 L493.7,148.55 L494.2,148.02 L494.7,147.40 L495.2,146.68 L495.7,145.84 L496.2,144.88 L496.7,143.76 L497.2,142.49 L497.7,141.05 L498.2,139.42 L498.7,137.58 L499.2,135.53 L499.7,133.25 L500.2,130.74 L500.7,127.99 L501.2,124.98 L501.7,121.71 L502.2,118.18 L502.7,114.38 L503.2,110.32 L503.7,106.03 L504.2,101.50 L504.7,96.77 L505.2,91.85 L505.7,86.78 L506.2,81.59 L506.7,76.32 L507.2,71.03 L507.7,65.74 L508.2,60.53 L508.7,55.44 L509.2,50.53 L509.7,45.85 L510.2,41.46 L510.7,37.42 L511.2,33.79 L511.7,30.60 L512.2,27.91 L512.7,25.76 L513.2,24.17 L513.7,23.18 L514.2,22.80 L514.7,23.04 L515.2,23.90 L515.7,25.40 L516.2,27.47 L516.7,30.09 L517.2,33.22 L517.7,36.83 L518.2,40.85 L518.7,45.24 L519.2,49.94 L519.7,54.89 L520.2,60.05 L520.7,65.35 L521.2,70.73 L521.7,76.15 L522.2,81.55 L522.7,86.90 L523.2,92.14 L523.7,97.24 L524.2,102.16 L524.7,106.89 L525.2,111.39 L525.7,115.66 L526.2,119.67 L526.7,123.42 L527.2,126.91 L527.7,130.13 L528.2,133.09 L528.7,135.80 L529.2,138.27 L529.7,140.50 L530.2,142.51 L530.7,144.31 L531.2,145.91 L531.7,147.34 L532.2,148.61 L532.7,149.72 L533.2,150.70 L533.7,151.56 L534.2,152.32 L534.7,152.98 L535.2,153.54 L535.7,154.01 L536.2,154.41 L536.7,154.76 L537.2,155.07 L537.7,155.33 L538.2,155.56 L538.7,155.76 L539.2,155.93 L539.7,156.09 L540.2,156.23 L540.7,156.35 L541.2,156.47 L541.7,156.57 L542.2,156.66 L542.7,156.75 L543.2,156.84 L543.7,156.92 L544.2,156.99 L544.7,157.07 L545.2,157.14 L545.7,157.21 L546.2,157.27 L546.7,157.34 L547.2,157.41 L547.7,157.47 L548.2,157.53 L548.7,157.60 L549.2,157.66 L549.7,157.72 L550.2,157.78 L550.7,157.84 L551.2,157.90 L551.7,157.96 L552.2,158.02 L552.7,158.08 L553.2,158.14 L553.7,158.20 L554.2,158.26 L554.7,158.32 L555.2,158.37 L555.7,158.41 L556.2,158.45 L556.7,158.49 L557.2,158.53 L557.7,158.57 L558.2,158.61 L558.7,158.66 L559.2,158.70 L559.7,158.74 L560.2,158.78 L560.7,158.82 L561.2,158.85 L561.7,158.89 L562.2,158.93 L562.7,158.97 L563.2,159.01 L563.7,159.05 L564.2,159.09 L564.7,159.13 L565.2,159.17 L565.7,159.21 L566.2,159.25 L566.7,159.28 L567.2,159.32 L567.7,159.36 L568.2,159.40 L568.7,159.44 L569.2,159.47 L569.7,159.48 L570.2,159.50 L570.7,159.51 L571.2,159.53 L571.7,159.54 L572.2,159.56 L572.7,159.57 L573.2,159.58 L573.7,159.60 L574.2,159.61 L574.7,159.63 L575.2,159.64 L575.7,159.66 L576.2,159.67 L576.7,159.68 L577.2,159.70 L577.7,159.71 L578.2,159.73 L578.7,159.74 L579.2,159.76 L579.7,159.77 L580.2,159.78 L580.7,159.80 L581.2,159.81 L581.7,159.82 L582.2,159.84 L582.7,159.85 L583.2,159.87 L583.7,159.88 L584.2,159.89 L584.7,159.91 L585.2,159.92 L585.7,159.93 L586.2,159.93 L586.7,159.94 L587.2,159.95 L587.7,159.96 L588.2,159.97 L588.7,159.97 L589.2,159.98 L589.7,159.99 L590.2,160.00 L590.7,160.01 L591.2,160.01 L591.7,160.02 L592.2,160.03 L592.7,160.04 L593.2,160.05 L593.7,160.05 L594.2,160.06 L594.7,160.07 L595.2,160.08 L595.7,160.08 L596.2,160.09 L596.7,160.10 L597.2,160.11 L597.7,160.11 L598.2,160.12 L598.7,160.13 L599.2,160.14 L599.7,160.14 L600.2,160.15 L600.7,160.16 L601.2,160.17 L601.7,160.17 L602.2,160.18 L602.7,160.19 L603.2,160.20 L603.7,160.20 L604.2,160.21 L604.7,160.22 L605.2,160.23 L605.7,160.23 L606.2,160.24 L606.7,160.25 L607.2,160.26 L607.7,160.26 L608.2,160.27 L608.7,160.28 L609.2,160.29 L609.7,160.29 L610.2,160.30 L610.7,160.31 L611.2,160.32 L611.7,160.32 L612.2,160.33 L612.7,160.34 L613.2,160.35" fill="none" stroke="#750000" stroke-width="1.1" stroke-linejoin="round" stroke-opacity="1.0"/>
<path d="M417.2,151.40 L417.7,151.40 L418.2,151.40 L418.7,151.40 L419.2,151.40 L419.7,151.40 L420.2,151.41 L420.7,151.41 L421.2,151.41 L421.7,151.41 L422.2,151.41 L422.7,151.41 L423.2,151.41 L423.7,151.41 L424.2,151.41 L424.7,151.41 L425.2,151.41 L425.7,151.41 L426.2,151.41 L426.7,151.42 L427.2,151.42 L427.7,151.42 L428.2,151.42 L428.7,151.42 L429.2,151.42 L429.7,151.42 L430.2,151.42 L430.7,151.42 L431.2,151.42 L431.7,151.42 L432.2,151.42 L432.7,151.42 L433.2,151.43 L433.7,151.43 L434.2,151.43 L434.7,151.43 L435.2,151.43 L435.7,151.43 L436.2,151.43 L436.7,151.43 L437.2,151.43 L437.7,151.43 L438.2,151.43 L438.7,151.43 L439.2,151.44 L439.7,151.44 L440.2,151.44 L440.7,151.44 L441.2,151.44 L441.7,151.44 L442.2,151.44 L442.7,151.44 L443.2,151.44 L443.7,151.44 L444.2,151.44 L444.7,151.44 L445.2,151.44 L445.7,151.45 L446.2,151.45 L446.7,151.45 L447.2,151.45 L447.7,151.45 L448.2,151.45 L448.7,151.45 L449.2,151.45 L449.7,151.45 L450.2,151.45 L450.7,151.45 L451.2,151.45 L451.7,151.46 L452.2,151.46 L452.7,151.46 L453.2,151.46 L453.7,151.46 L454.2,151.46 L454.7,151.46 L455.2,151.46 L455.7,151.46 L456.2,151.46 L456.7,151.46 L457.2,151.46 L457.7,151.46 L458.2,151.47 L458.7,151.47 L459.2,151.47 L459.7,151.47 L460.2,151.47 L460.7,151.47 L461.2,151.47 L461.7,151.47 L462.2,151.47 L462.7,151.47 L463.2,151.47 L463.7,151.47 L464.2,151.47 L464.7,151.48 L465.2,151.48 L465.7,151.48 L466.2,151.48 L466.7,151.48 L467.2,151.48 L467.7,151.48 L468.2,151.48 L468.7,151.48 L469.2,151.48 L469.7,151.48 L470.2,151.48 L470.7,151.49 L471.2,151.49 L471.7,151.49 L472.2,151.49 L472.7,151.49 L473.2,151.49 L473.7,151.49 L474.2,151.49 L474.7,151.49 L475.2,151.49 L475.7,151.49 L476.2,151.49 L476.7,151.49 L477.2,151.50 L477.7,151.50 L478.2,151.50 L478.7,151.50 L479.2,151.50 L479.7,151.50 L480.2,151.50 L480.7,151.52 L481.2,151.53 L481.7,151.54 L482.2,151.55 L482.7,151.57 L483.2,151.58 L483.7,151.59 L484.2,151.60 L484.7,151.62 L485.2,151.63 L485.7,151.64 L486.2,151.65 L486.7,151.67 L487.2,151.68 L487.7,151.69 L488.2,151.70 L488.7,151.72 L489.2,151.73 L489.7,151.74 L490.2,151.75 L490.7,151.77 L491.2,151.78 L491.7,151.79 L492.2,151.80 L492.7,151.82 L493.2,151.83 L493.7,151.84 L494.2,151.85 L494.7,151.87 L495.2,151.88 L495.7,151.89 L496.2,151.90 L496.7,151.92 L497.2,151.93 L497.7,151.94 L498.2,151.95 L498.7,151.97 L499.2,151.98 L499.7,151.99 L500.2,152.01 L500.7,152.05 L501.2,152.09 L501.7,152.12 L502.2,152.16 L502.7,152.19 L503.2,152.23 L503.7,152.26 L504.2,152.30 L504.7,152.33 L505.2,152.37 L505.7,152.40 L506.2,152.43 L506.7,152.46 L507.2,152.49 L507.7,152.52 L508.2,152.54 L508.7,152.56 L509.2,152.58 L509.7,152.60 L510.2,152.60 L510.7,152.61 L511.2,152.60 L511.7,152.59 L512.2,152.56 L512.7,152.52 L513.2,152.47 L513.7,152.40 L514.2,152.32 L514.7,152.21 L515.2,152.09 L515.7,151.97 L516.2,151.82 L516.7,151.62 L517.2,151.39 L517.7,151.10 L518.2,150.76 L518.7,150.36 L519.2,149.88 L519.7,149.34 L520.2,148.71 L520.7,147.99 L521.2,147.17 L521.7,146.25 L522.2,145.21 L522.7,144.06 L523.2,142.78 L523.7,141.37 L524.2,139.82 L524.7,138.12 L525.2,136.29 L525.7,134.30 L526.2,132.17 L526.7,129.89 L527.2,127.47 L527.7,124.91 L528.2,122.21 L528.7,119.39 L529.2,116.46 L529.7,113.42 L530.2,110.31 L530.7,107.12 L531.2,103.89 L531.7,100.63 L532.2,97.37 L532.7,94.14 L533.2,90.95 L533.7,87.83 L534.2,84.82 L534.7,81.94 L535.2,79.21 L535.7,76.64 L536.2,74.28 L536.7,72.15 L537.2,70.28 L537.7,68.68 L538.2,67.37 L538.7,66.38 L539.2,65.70 L539.7,65.35 L540.2,65.33 L540.7,65.64 L541.2,66.28 L541.7,67.24 L542.2,68.52 L542.7,70.09 L543.2,71.95 L543.7,74.07 L544.2,76.44 L544.7,79.03 L545.2,81.81 L545.7,84.76 L546.2,87.86 L546.7,91.06 L547.2,94.36 L547.7,97.72 L548.2,101.11 L548.7,104.50 L549.2,107.89 L549.7,111.23 L550.2,114.52 L550.7,117.73 L551.2,120.85 L551.7,123.86 L552.2,126.74 L552.7,129.51 L553.2,132.13 L553.7,134.61 L554.2,136.94 L554.7,139.13 L555.2,141.16 L555.7,143.04 L556.2,144.77 L556.7,146.36 L557.2,147.82 L557.7,149.15 L558.2,150.36 L558.7,151.45 L559.2,152.43 L559.7,153.32 L560.2,154.10 L560.7,154.81 L561.2,155.43 L561.7,155.99 L562.2,156.48 L562.7,156.91 L563.2,157.28 L563.7,157.62 L564.2,157.91 L564.7,158.16 L565.2,158.38 L565.7,158.58 L566.2,158.75 L566.7,158.90 L567.2,159.03 L567.7,159.14 L568.2,159.25 L568.7,159.34 L569.2,159.41 L569.7,159.46 L570.2,159.50 L570.7,159.54 L571.2,159.57 L571.7,159.60 L572.2,159.63 L572.7,159.65 L573.2,159.67 L573.7,159.69 L574.2,159.71 L574.7,159.73 L575.2,159.74 L575.7,159.76 L576.2,159.77 L576.7,159.79 L577.2,159.80 L577.7,159.81 L578.2,159.83 L578.7,159.84 L579.2,159.85 L579.7,159.87 L580.2,159.88 L580.7,159.89 L581.2,159.90 L581.7,159.92 L582.2,159.93 L582.7,159.94 L583.2,159.95 L583.7,159.97 L584.2,159.98 L584.7,159.99 L585.2,160.00 L585.7,160.01 L586.2,160.02 L586.7,160.02 L587.2,160.03 L587.7,160.04 L588.2,160.04 L588.7,160.05 L589.2,160.06 L589.7,160.06 L590.2,160.07 L590.7,160.08 L591.2,160.09 L591.7,160.09 L592.2,160.10 L592.7,160.11 L593.2,160.11 L593.7,160.12 L594.2,160.13 L594.7,160.13 L595.2,160.14 L595.7,160.15 L596.2,160.15 L596.7,160.16 L597.2,160.17 L597.7,160.18 L598.2,160.18 L598.7,160.19 L599.2,160.20 L599.7,160.20 L600.2,160.21 L600.7,160.22 L601.2,160.22 L601.7,160.23 L602.2,160.24 L602.7,160.24 L603.2,160.25 L603.7,160.26 L604.2,160.26 L604.7,160.27 L605.2,160.28 L605.7,160.29 L606.2,160.29 L606.7,160.30 L607.2,160.31 L607.7,160.31 L608.2,160.32 L608.7,160.33 L609.2,160.33 L609.7,160.34 L610.2,160.35 L610.7,160.35 L611.2,160.36 L611.7,160.37 L612.2,160.38 L612.7,160.38 L613.2,160.39" fill="none" stroke="#007000" stroke-width="1.1" stroke-linejoin="round" stroke-opacity="1.0"/>
<path d="M417.2,151.40 L417.7,151.40 L418.2,151.40 L418.7,151.40 L419.2,151.40 L419.7,151.40 L420.2,151.41 L420.7,151.41 L421.2,151.41 L421.7,151.41 L422.2,151.41 L422.7,151.41 L423.2,151.41 L423.7,151.41 L424.2,151.41 L424.7,151.41 L425.2,151.41 L425.7,151.41 L426.2,151.41 L426.7,151.42 L427.2,151.42 L427.7,151.42 L428.2,151.42 L428.7,151.42 L429.2,151.42 L429.7,151.42 L430.2,151.42 L430.7,151.42 L431.2,151.42 L431.7,151.42 L432.2,151.42 L432.7,151.42 L433.2,151.42 L433.7,151.42 L434.2,151.42 L434.7,151.42 L435.2,151.42 L435.7,151.42 L436.2,151.42 L436.7,151.42 L437.2,151.42 L437.7,151.42 L438.2,151.42 L438.7,151.42 L439.2,151.42 L439.7,151.42 L440.2,151.42 L440.7,151.41 L441.2,151.41 L441.7,151.41 L442.2,151.40 L442.7,151.40 L443.2,151.39 L443.7,151.39 L444.2,151.38 L444.7,151.37 L445.2,151.36 L445.7,151.35 L446.2,151.34 L446.7,151.33 L447.2,151.32 L447.7,151.30 L448.2,151.29 L448.7,151.27 L449.2,151.25 L449.7,151.23 L450.2,151.21 L450.7,151.19 L451.2,151.16 L451.7,151.13 L452.2,151.10 L452.7,151.07 L453.2,151.04 L453.7,151.01 L454.2,150.97 L454.7,150.93 L455.2,150.89 L455.7,150.85 L456.2,150.80 L456.7,150.76 L457.2,150.71 L457.7,150.66 L458.2,150.61 L458.7,150.56 L459.2,150.51 L459.7,150.46 L460.2,150.41 L460.7,150.35 L461.2,150.30 L461.7,150.25 L462.2,150.20 L462.7,150.15 L463.2,150.10 L463.7,150.05 L464.2,150.00 L464.7,149.96 L465.2,149.92 L465.7,149.88 L466.2,149.84 L466.7,149.80 L467.2,149.77 L467.7,149.75 L468.2,149.72 L468.7,149.70 L469.2,149.69 L469.7,149.68 L470.2,149.67 L470.7,149.67 L471.2,149.67 L471.7,149.67 L472.2,149.68 L472.7,149.70 L473.2,149.71 L473.7,149.74 L474.2,149.76 L474.7,149.79 L475.2,149.82 L475.7,149.86 L476.2,149.90 L476.7,149.94 L477.2,149.98 L477.7,150.03 L478.2,150.08 L478.7,150.13 L479.2,150.18 L479.7,150.23 L480.2,150.29 L480.7,150.36 L481.2,150.42 L481.7,150.49 L482.2,150.56 L482.7,150.62 L483.2,150.69 L483.7,150.75 L484.2,150.81 L484.7,150.87 L485.2,150.93 L485.7,150.99 L486.2,151.05 L486.7,151.10 L487.2,151.16 L487.7,151.21 L488.2,151.26 L488.7,151.31 L489.2,151.35 L489.7,151.40 L490.2,151.44 L490.7,151.48 L491.2,151.52 L491.7,151.55 L492.2,151.59 L492.7,151.62 L493.2,151.65 L493.7,151.68 L494.2,151.71 L494.7,151.74 L495.2,151.77 L495.7,151.79 L496.2,151.81 L496.7,151.84 L497.2,151.86 L497.7,151.88 L498.2,151.90 L498.7,151.92 L499.2,151.94 L499.7,151.96 L500.2,151.98 L500.7,152.02 L501.2,152.06 L501.7,152.10 L502.2,152.14 L502.7,152.18 L503.2,152.22 L503.7,152.26 L504.2,152.30 L504.7,152.34 L505.2,152.37 L505.7,152.41 L506.2,152.45 L506.7,152.49 L507.2,152.52 L507.7,152.56 L508.2,152.60 L508.7,152.64 L509.2,152.67 L509.7,152.71 L510.2,152.75 L510.7,152.78 L511.2,152.82 L511.7,152.86 L512.2,152.89 L512.7,152.93 L513.2,152.97 L513.7,153.00 L514.2,153.04 L514.7,153.08 L515.2,153.13 L515.7,153.22 L516.2,153.30 L516.7,153.39 L517.2,153.47 L517.7,153.56 L518.2,153.64 L518.7,153.73 L519.2,153.81 L519.7,153.90 L520.2,153.98 L520.7,154.07 L521.2,154.15 L521.7,154.24 L522.2,154.32 L522.7,154.41 L523.2,154.49 L523.7,154.58 L524.2,154.66 L524.7,154.75 L525.2,154.83 L525.7,154.92 L526.2,155.00 L526.7,155.09 L527.2,155.17 L527.7,155.26 L528.2,155.34 L528.7,155.43 L529.2,155.51 L529.7,155.60 L530.2,155.68 L530.7,155.77 L531.2,155.85 L531.7,155.94 L532.2,156.02 L532.7,156.11 L533.2,156.19 L533.7,156.28 L534.2,156.36 L534.7,156.45 L535.2,156.52 L535.7,156.57 L536.2,156.63 L536.7,156.68 L537.2,156.73 L537.7,156.78 L538.2,156.84 L538.7,156.89 L539.2,156.94 L539.7,156.99 L540.2,157.05 L540.7,157.10 L541.2,157.15 L541.7,157.20 L542.2,157.26 L542.7,157.31 L543.2,157.36 L543.7,157.41 L544.2,157.47 L544.7,157.52 L545.2,157.57 L545.7,157.62 L546.2,157.68 L546.7,157.73 L547.2,157.78 L547.7,157.83 L548.2,157.89 L548.7,157.94 L549.2,157.99 L549.7,158.04 L550.2,158.10 L550.7,158.15 L551.2,158.20 L551.7,158.25 L552.2,158.31 L552.7,158.36 L553.2,158.41 L553.7,158.46 L554.2,158.52 L554.7,158.57 L555.2,158.61 L555.7,158.65 L556.2,158.69 L556.7,158.72 L557.2,158.76 L557.7,158.79 L558.2,158.83 L558.7,158.86 L559.2,158.90 L559.7,158.94 L560.2,158.97 L560.7,159.01 L561.2,159.04 L561.7,159.08 L562.2,159.11 L562.7,159.15 L563.2,159.19 L563.7,159.22 L564.2,159.26 L564.7,159.29 L565.2,159.33 L565.7,159.36 L566.2,159.40 L566.7,159.44 L567.2,159.47 L567.7,159.51 L568.2,159.54 L568.7,159.58 L569.2,159.60 L569.7,159.62 L570.2,159.63 L570.7,159.64 L571.2,159.66 L571.7,159.67 L572.2,159.68 L572.7,159.69 L573.2,159.70 L573.7,159.72 L574.2,159.73 L574.7,159.74 L575.2,159.75 L575.7,159.77 L576.2,159.78 L576.7,159.79 L577.2,159.81 L577.7,159.82 L578.2,159.83 L578.7,159.84 L579.2,159.85 L579.7,159.87 L580.2,159.88 L580.7,159.89 L581.2,159.91 L581.7,159.92 L582.2,159.93 L582.7,159.94 L583.2,159.96 L583.7,159.97 L584.2,159.98 L584.7,159.99 L585.2,160.00 L585.7,160.01 L586.2,160.02 L586.7,160.02 L587.2,160.03 L587.7,160.04 L588.2,160.04 L588.7,160.05 L589.2,160.06 L589.7,160.06 L590.2,160.07 L590.7,160.08 L591.2,160.09 L591.7,160.09 L592.2,160.10 L592.7,160.11 L593.2,160.11 L593.7,160.12 L594.2,160.13 L594.7,160.13 L595.2,160.14 L595.7,160.15 L596.2,160.15 L596.7,160.16 L597.2,160.17 L597.7,160.18 L598.2,160.18 L598.7,160.19 L599.2,160.20 L599.7,160.20 L600.2,160.21 L600.7,160.22 L601.2,160.22 L601.7,160.23 L602.2,160.24 L602.7,160.24 L603.2,160.25 L603.7,160.26 L604.2,160.26 L604.7,160.27 L605.2,160.28 L605.7,160.29 L606.2,160.29 L606.7,160.30 L607.2,160.31 L607.7,160.31 L608.2,160.32 L608.7,160.33 L609.2,160.33 L609.7,160.34 L610.2,160.35 L610.7,160.35 L611.2,160.36 L611.7,160.37 L612.2,160.38 L612.7,160.38 L613.2,160.39" fill="none" stroke="#ff8000" stroke-width="1.1" stroke-linejoin="round" stroke-opacity="1.0"/>
<path d="M416.8,150.87 L417.3,150.87 L417.8,150.86 L418.3,150.86 L418.8,150.86 L419.3,150.85 L419.8,150.85 L420.3,150.85 L420.8,150.84 L421.3,150.84 L421.8,150.83 L422.3,150.83 L422.8,150.83 L423.3,150.82 L423.8,150.82 L424.3,150.81 L424.8,150.81 L425.3,150.80 L425.8,150.80 L426.3,150.79 L426.8,150.79 L427.3,150.78 L427.8,150.78 L428.3,150.77 L428.8,150.77 L429.3,150.76 L429.8,150.75 L430.3,150.75 L430.8,150.74 L431.3,150.73 L431.8,150.73 L432.3,150.72 L432.8,150.71 L433.3,150.71 L433.8,150.70 L434.3,150.69 L434.8,150.68 L435.3,150.67 L435.8,150.66 L436.3,150.65 L436.8,150.64 L437.3,150.63 L437.8,150.62 L438.3,150.61 L438.8,150.60 L439.3,150.59 L439.8,150.58 L440.3,150.56 L440.8,150.55 L441.3,150.53 L441.8,150.52 L442.3,150.50 L442.8,150.48 L443.3,150.46 L443.8,150.44 L444.3,150.42 L444.8,150.40 L445.3,150.37 L445.8,150.35 L446.3,150.32 L446.8,150.29 L447.3,150.26 L447.8,150.23 L448.3,150.19 L448.8,150.16 L449.3,150.12 L449.8,150.08 L450.3,150.03 L450.8,149.99 L451.3,149.94 L451.8,149.89 L452.3,149.83 L452.8,149.78 L453.3,149.72 L453.8,149.66 L454.3,149.59 L454.8,149.52 L455.3,149.45 L455.8,149.38 L456.3,149.30 L456.8,149.22 L457.3,149.14 L457.8,149.06 L458.3,148.97 L458.8,148.88 L459.3,148.79 L459.8,148.70 L460.3,148.60 L460.8,148.50 L461.3,148.40 L461.8,148.29 L462.3,148.18 L462.8,148.08 L463.3,147.96 L463.8,147.85 L464.3,147.73 L464.8,147.61 L465.3,147.49 L465.8,147.36 L466.3,147.23 L466.8,147.09 L467.3,146.95 L467.8,146.80 L468.3,146.65 L468.8,146.48 L469.3,146.31 L469.8,146.14 L470.3,145.95 L470.8,145.75 L471.3,145.54 L471.8,145.31 L472.3,145.07 L472.8,144.81 L473.3,144.54 L473.8,144.25 L474.3,143.94 L474.8,143.60 L475.3,143.24 L475.8,142.86 L476.3,142.46 L476.8,142.03 L477.3,141.57 L477.8,141.08 L478.3,140.57 L478.8,140.02 L479.3,139.45 L479.8,138.86 L480.3,138.24 L480.8,137.59 L481.3,136.92 L481.8,136.22 L482.3,135.50 L482.8,134.75 L483.3,133.99 L483.8,133.21 L484.3,132.41 L484.8,131.61 L485.3,130.80 L485.8,129.99 L486.3,129.18 L486.8,128.38 L487.3,127.60 L487.8,126.83 L488.3,126.10 L488.8,125.40 L489.3,124.74 L489.8,124.12 L490.3,123.55 L490.8,123.03 L491.3,122.57 L491.8,122.15 L492.3,121.78 L492.8,121.44 L493.3,121.14 L493.8,120.85 L494.3,120.56 L494.8,120.25 L495.3,119.91 L495.8,119.51 L496.3,119.03 L496.8,118.44 L497.3,117.73 L497.8,116.87 L498.3,115.83 L498.8,114.60 L499.3,113.15 L499.8,111.47 L500.3,109.56 L500.8,107.39 L501.3,104.95 L501.8,102.23 L502.3,99.23 L502.8,95.96 L503.3,92.42 L503.8,88.62 L504.3,84.59 L504.8,80.35 L505.3,75.93 L505.8,71.37 L506.3,66.69 L506.8,61.96 L507.3,57.22 L507.8,52.52 L508.3,47.94 L508.8,43.53 L509.3,39.39 L509.8,35.57 L510.3,32.15 L510.8,29.20 L511.3,26.77 L511.8,24.86 L512.3,23.47 L512.8,22.57 L513.3,22.12 L513.8,22.06 L514.3,22.37 L514.8,23.05 L515.3,24.13 L515.8,25.61 L516.3,27.54 L516.8,29.94 L517.3,32.81 L517.8,36.13 L518.3,39.86 L518.8,43.93 L519.3,48.28 L519.8,52.82 L520.3,57.48 L520.8,62.19 L521.3,66.89 L521.8,71.51 L522.3,76.00 L522.8,80.31 L523.3,84.39 L523.8,88.19 L524.3,91.66 L524.8,94.75 L525.3,97.43 L525.8,99.65 L526.3,101.38 L526.8,102.61 L527.3,103.32 L527.8,103.52 L528.3,103.22 L528.8,102.44 L529.3,101.23 L529.8,99.62 L530.3,97.68 L530.8,95.46 L531.3,93.01 L531.8,90.40 L532.3,87.68 L532.8,84.91 L533.3,82.12 L533.8,79.35 L534.3,76.66 L534.8,74.04 L535.3,71.52 L535.8,69.15 L536.3,66.95 L536.8,64.94 L537.3,63.14 L537.8,61.57 L538.3,60.24 L538.8,59.19 L539.3,58.43 L539.8,57.97 L540.3,57.82 L540.8,57.99 L541.3,58.46 L541.8,59.24 L542.3,60.29 L542.8,61.60 L543.3,63.15 L543.8,64.89 L544.3,66.82 L544.8,68.89 L545.3,71.10 L545.8,73.42 L546.3,75.83 L546.8,78.32 L547.3,80.86 L547.8,83.45 L548.3,86.08 L548.8,88.72 L549.3,91.37 L549.8,94.03 L550.3,96.68 L550.8,99.32 L551.3,101.95 L551.8,104.56 L552.3,107.15 L552.8,109.71 L553.3,112.25 L553.8,114.75 L554.3,117.21 L554.8,119.63 L555.3,121.98 L555.8,124.27 L556.3,126.51 L556.8,128.67 L557.3,130.76 L557.8,132.77 L558.3,134.69 L558.8,136.53 L559.3,138.29 L559.8,139.95 L560.3,141.52 L560.8,143.00 L561.3,144.39 L561.8,145.70 L562.3,146.92 L562.8,148.05 L563.3,149.10 L563.8,150.07 L564.3,150.97 L564.8,151.79 L565.3,152.54 L565.8,153.23 L566.3,153.86 L566.8,154.42 L567.3,154.94 L567.8,155.40 L568.3,155.82 L568.8,156.19 L569.3,156.51 L569.8,156.79 L570.3,157.04 L570.8,157.26 L571.3,157.46 L571.8,157.63 L572.3,157.79 L572.8,157.92 L573.3,158.05 L573.8,158.15 L574.3,158.25 L574.8,158.34 L575.3,158.42 L575.8,158.49 L576.3,158.55 L576.8,158.61 L577.3,158.66 L577.8,158.71 L578.3,158.76 L578.8,158.80 L579.3,158.84 L579.8,158.88 L580.3,158.91 L580.8,158.95 L581.3,158.98 L581.8,159.01 L582.3,159.04 L582.8,159.07 L583.3,159.10 L583.8,159.13 L584.3,159.16 L584.8,159.18 L585.3,159.20 L585.8,159.22 L586.3,159.24 L586.8,159.26 L587.3,159.28 L587.8,159.30 L588.3,159.31 L588.8,159.33 L589.3,159.35 L589.8,159.37 L590.3,159.38 L590.8,159.40 L591.3,159.41 L591.8,159.43 L592.3,159.44 L592.8,159.46 L593.3,159.47 L593.8,159.49 L594.3,159.50 L594.8,159.52 L595.3,159.53 L595.8,159.54 L596.3,159.56 L596.8,159.57 L597.3,159.58 L597.8,159.60 L598.3,159.61 L598.8,159.62 L599.3,159.64 L599.8,159.65 L600.3,159.66 L600.8,159.67 L601.3,159.68 L601.8,159.70 L602.3,159.71 L602.8,159.72 L603.3,159.73 L603.8,159.74 L604.3,159.75 L604.8,159.77 L605.3,159.78 L605.8,159.79 L606.3,159.80 L606.8,159.81 L607.3,159.82 L607.8,159.83 L608.3,159.84 L608.8,159.85 L609.3,159.86 L609.8,159.87 L610.3,159.88 L610.8,159.89 L611.3,159.90 L611.8,159.91 L612.3,159.92 L612.8,159.93" fill="none" stroke="#111" stroke-width="0.9" stroke-linejoin="round" stroke-opacity="1.0"/>
<path d="M417.2,151.07 L417.7,151.07 L418.2,151.06 L418.7,151.06 L419.2,151.06 L419.7,151.05 L420.2,151.05 L420.7,151.05 L421.2,151.04 L421.7,151.04 L422.2,151.03 L422.7,151.03 L423.2,151.03 L423.7,151.02 L424.2,151.02 L424.7,151.01 L425.2,151.01 L425.7,151.00 L426.2,151.00 L426.7,150.99 L427.2,150.99 L427.7,150.98 L428.2,150.98 L428.7,150.97 L429.2,150.97 L429.7,150.96 L430.2,150.95 L430.7,150.95 L431.2,150.94 L431.7,150.93 L432.2,150.93 L432.7,150.92 L433.2,150.91 L433.7,150.91 L434.2,150.90 L434.7,150.89 L435.2,150.88 L435.7,150.87 L436.2,150.86 L436.7,150.85 L437.2,150.84 L437.7,150.83 L438.2,150.82 L438.7,150.81 L439.2,150.80 L439.7,150.79 L440.2,150.78 L440.7,150.76 L441.2,150.75 L441.7,150.73 L442.2,150.72 L442.7,150.70 L443.2,150.68 L443.7,150.66 L444.2,150.64 L444.7,150.62 L445.2,150.60 L445.7,150.57 L446.2,150.55 L446.7,150.52 L447.2,150.49 L447.7,150.46 L448.2,150.43 L448.7,150.39 L449.2,150.36 L449.7,150.32 L450.2,150.28 L450.7,150.23 L451.2,150.19 L451.7,150.14 L452.2,150.09 L452.7,150.03 L453.2,149.98 L453.7,149.92 L454.2,149.86 L454.7,149.79 L455.2,149.72 L455.7,149.65 L456.2,149.58 L456.7,149.50 L457.2,149.42 L457.7,149.34 L458.2,149.26 L458.7,149.17 L459.2,149.08 L459.7,148.99 L460.2,148.90 L460.7,148.80 L461.2,148.70 L461.7,148.60 L462.2,148.49 L462.7,148.38 L463.2,148.28 L463.7,148.16 L464.2,148.05 L464.7,147.93 L465.2,147.81 L465.7,147.69 L466.2,147.56 L466.7,147.43 L467.2,147.29 L467.7,147.15 L468.2,147.00 L468.7,146.85 L469.2,146.68 L469.7,146.51 L470.2,146.34 L470.7,146.15 L471.2,145.95 L471.7,145.74 L472.2,145.51 L472.7,145.27 L473.2,145.01 L473.7,144.74 L474.2,144.45 L474.7,144.14 L475.2,143.80 L475.7,143.44 L476.2,143.06 L476.7,142.66 L477.2,142.23 L477.7,141.77 L478.2,141.28 L478.7,140.77 L479.2,140.22 L479.7,139.65 L480.2,139.06 L480.7,138.44 L481.2,137.79 L481.7,137.12 L482.2,136.42 L482.7,135.70 L483.2,134.95 L483.7,134.19 L484.2,133.41 L484.7,132.61 L485.2,131.81 L485.7,131.00 L486.2,130.19 L486.7,129.38 L487.2,128.58 L487.7,127.80 L488.2,127.03 L488.7,126.30 L489.2,125.60 L489.7,124.94 L490.2,124.32 L490.7,123.75 L491.2,123.23 L491.7,122.77 L492.2,122.35 L492.7,121.98 L493.2,121.64 L493.7,121.34 L494.2,121.05 L494.7,120.76 L495.2,120.45 L495.7,120.11 L496.2,119.71 L496.7,119.23 L497.2,118.64 L497.7,117.93 L498.2,117.07 L498.7,116.03 L499.2,114.80 L499.7,113.35 L500.2,111.67 L500.7,109.76 L501.2,107.59 L501.7,105.15 L502.2,102.43 L502.7,99.43 L503.2,96.16 L503.7,92.62 L504.2,88.82 L504.7,84.79 L505.2,80.55 L505.7,76.13 L506.2,71.56 L506.7,66.89 L507.2,62.15 L507.7,57.39 L508.2,52.67 L508.7,48.04 L509.2,43.56 L509.7,39.28 L510.2,35.25 L510.7,31.55 L511.2,28.21 L511.7,25.29 L512.2,22.83 L512.7,20.88 L513.2,19.46 L513.7,18.59 L514.2,18.30 L514.7,18.58 L515.2,19.45 L515.7,20.91 L516.2,22.90 L516.7,25.38 L517.2,28.32 L517.7,31.67 L518.2,35.37 L518.7,39.36 L519.2,43.60 L519.7,48.00 L520.2,52.52 L520.7,57.08 L521.2,61.62 L521.7,66.09 L522.2,70.42 L522.7,74.57 L523.2,78.49 L523.7,82.13 L524.2,85.45 L524.7,88.43 L525.2,91.04 L525.7,93.26 L526.2,95.07 L526.7,96.47 L527.2,97.46 L527.7,98.05 L528.2,98.23 L528.7,98.04 L529.2,97.48 L529.7,96.58 L530.2,95.36 L530.7,93.87 L531.2,92.13 L531.7,90.17 L532.2,88.04 L532.7,85.78 L533.2,83.41 L533.7,80.99 L534.2,78.54 L534.7,76.12 L535.2,73.73 L535.7,71.42 L536.2,69.23 L536.7,67.19 L537.2,65.33 L537.7,63.68 L538.2,62.25 L538.7,61.07 L539.2,60.15 L539.7,59.49 L540.2,59.11 L540.7,59.01 L541.2,59.18 L541.7,59.62 L542.2,60.33 L542.7,61.29 L543.2,62.49 L543.7,63.92 L544.2,65.55 L544.7,67.37 L545.2,69.35 L545.7,71.49 L546.2,73.75 L546.7,76.11 L547.2,78.57 L547.7,81.10 L548.2,83.67 L548.7,86.29 L549.2,88.93 L549.7,91.58 L550.2,94.23 L550.7,96.88 L551.2,99.52 L551.7,102.15 L552.2,104.76 L552.7,107.35 L553.2,109.91 L553.7,112.45 L554.2,114.95 L554.7,117.41 L555.2,119.83 L555.7,122.18 L556.2,124.47 L556.7,126.71 L557.2,128.87 L557.7,130.96 L558.2,132.97 L558.7,134.89 L559.2,136.73 L559.7,138.49 L560.2,140.15 L560.7,141.72 L561.2,143.20 L561.7,144.59 L562.2,145.90 L562.7,147.12 L563.2,148.25 L563.7,149.30 L564.2,150.27 L564.7,151.17 L565.2,151.99 L565.7,152.74 L566.2,153.43 L566.7,154.06 L567.2,154.62 L567.7,155.14 L568.2,155.60 L568.7,156.02 L569.2,156.39 L569.7,156.71 L570.2,156.99 L570.7,157.24 L571.2,157.46 L571.7,157.66 L572.2,157.83 L572.7,157.99 L573.2,158.12 L573.7,158.25 L574.2,158.35 L574.7,158.45 L575.2,158.54 L575.7,158.62 L576.2,158.69 L576.7,158.75 L577.2,158.81 L577.7,158.86 L578.2,158.91 L578.7,158.96 L579.2,159.00 L579.7,159.04 L580.2,159.08 L580.7,159.11 L581.2,159.15 L581.7,159.18 L582.2,159.21 L582.7,159.24 L583.2,159.27 L583.7,159.30 L584.2,159.33 L584.7,159.36 L585.2,159.38 L585.7,159.40 L586.2,159.42 L586.7,159.44 L587.2,159.46 L587.7,159.48 L588.2,159.50 L588.7,159.51 L589.2,159.53 L589.7,159.55 L590.2,159.57 L590.7,159.58 L591.2,159.60 L591.7,159.61 L592.2,159.63 L592.7,159.64 L593.2,159.66 L593.7,159.67 L594.2,159.69 L594.7,159.70 L595.2,159.72 L595.7,159.73 L596.2,159.74 L596.7,159.76 L597.2,159.77 L597.7,159.78 L598.2,159.80 L598.7,159.81 L599.2,159.82 L599.7,159.84 L600.2,159.85 L600.7,159.86 L601.2,159.87 L601.7,159.88 L602.2,159.90 L602.7,159.91 L603.2,159.92 L603.7,159.93 L604.2,159.94 L604.7,159.95 L605.2,159.97 L605.7,159.98 L606.2,159.99 L606.7,160.00 L607.2,160.01 L607.7,160.02 L608.2,160.03 L608.7,160.04 L609.2,160.05 L609.7,160.06 L610.2,160.07 L610.7,160.08 L611.2,160.09 L611.7,160.10 L612.2,160.11 L612.7,160.12 L613.2,160.13" fill="none" stroke="#ff0000" stroke-width="1.15" stroke-linejoin="round" stroke-opacity="1.0"/>
<path d="M416.8,150.87 L417.3,150.87 L417.8,150.86 L418.3,150.86 L418.8,150.86 L419.3,150.85 L419.8,150.85 L420.3,150.85 L420.8,150.84 L421.3,150.84 L421.8,150.83 L422.3,150.83 L422.8,150.83 L423.3,150.82 L423.8,150.82 L424.3,150.81 L424.8,150.81 L425.3,150.80 L425.8,150.80 L426.3,150.79 L426.8,150.79 L427.3,150.78 L427.8,150.78 L428.3,150.77 L428.8,150.77 L429.3,150.76 L429.8,150.75 L430.3,150.75 L430.8,150.74 L431.3,150.73 L431.8,150.73 L432.3,150.72 L432.8,150.71 L433.3,150.71 L433.8,150.70 L434.3,150.69 L434.8,150.68 L435.3,150.67 L435.8,150.66 L436.3,150.65 L436.8,150.64 L437.3,150.63 L437.8,150.62 L438.3,150.61 L438.8,150.60 L439.3,150.59 L439.8,150.58 L440.3,150.56 L440.8,150.55 L441.3,150.53 L441.8,150.52 L442.3,150.50 L442.8,150.48 L443.3,150.46 L443.8,150.44 L444.3,150.42 L444.8,150.40 L445.3,150.37 L445.8,150.35 L446.3,150.32 L446.8,150.29 L447.3,150.26 L447.8,150.23 L448.3,150.19 L448.8,150.16 L449.3,150.12 L449.8,150.08 L450.3,150.03 L450.8,149.99 L451.3,149.94 L451.8,149.89 L452.3,149.83 L452.8,149.78 L453.3,149.72 L453.8,149.66 L454.3,149.59 L454.8,149.52 L455.3,149.45 L455.8,149.38 L456.3,149.30 L456.8,149.22 L457.3,149.14 L457.8,149.06 L458.3,148.97 L458.8,148.88 L459.3,148.79 L459.8,148.70 L460.3,148.60 L460.8,148.50 L461.3,148.40 L461.8,148.29 L462.3,148.18 L462.8,148.08 L463.3,147.96 L463.8,147.85 L464.3,147.73 L464.8,147.61 L465.3,147.49 L465.8,147.36 L466.3,147.23 L466.8,147.09 L467.3,146.95 L467.8,146.80 L468.3,146.65 L468.8,146.48 L469.3,146.31 L469.8,146.14 L470.3,145.95 L470.8,145.75 L471.3,145.54 L471.8,145.31 L472.3,145.07 L472.8,144.81 L473.3,144.54 L473.8,144.25 L474.3,143.94 L474.8,143.60 L475.3,143.24 L475.8,142.86 L476.3,142.46 L476.8,142.03 L477.3,141.57 L477.8,141.08 L478.3,140.57 L478.8,140.02 L479.3,139.45 L479.8,138.86 L480.3,138.24 L480.8,137.59 L481.3,136.92 L481.8,136.22 L482.3,135.50 L482.8,134.75 L483.3,133.99 L483.8,133.21 L484.3,132.41 L484.8,131.61 L485.3,130.80 L485.8,129.99 L486.3,129.18 L486.8,128.38 L487.3,127.60 L487.8,126.83 L488.3,126.10 L488.8,125.40 L489.3,124.74 L489.8,124.12 L490.3,123.55 L490.8,123.03 L491.3,122.57 L491.8,122.15 L492.3,121.78 L492.8,121.44 L493.3,121.14 L493.8,120.85 L494.3,120.56 L494.8,120.25 L495.3,119.91 L495.8,119.51 L496.3,119.03 L496.8,118.44 L497.3,117.73 L497.8,116.87 L498.3,115.83 L498.8,114.60 L499.3,113.15 L499.8,111.47 L500.3,109.56 L500.8,107.39 L501.3,104.95 L501.8,102.23 L502.3,99.23 L502.8,95.96 L503.3,92.42 L503.8,88.62 L504.3,84.59 L504.8,80.35 L505.3,75.93 L505.8,71.37 L506.3,66.69 L506.8,61.96 L507.3,57.22 L507.8,52.52 L508.3,47.94 L508.8,43.53 L509.3,39.39 L509.8,35.57 L510.3,32.15 L510.8,29.20 L511.3,26.77 L511.8,24.86 L512.3,23.47 L512.8,22.57 L513.3,22.12 L513.8,22.06 L514.3,22.37 L514.8,23.05 L515.3,24.13 L515.8,25.61 L516.3,27.54 L516.8,29.94 L517.3,32.81 L517.8,36.13 L518.3,39.86 L518.8,43.93 L519.3,48.28 L519.8,52.82 L520.3,57.48 L520.8,62.19 L521.3,66.89 L521.8,71.51 L522.3,76.00 L522.8,80.31 L523.3,84.39 L523.8,88.19 L524.3,91.66 L524.8,94.75 L525.3,97.43 L525.8,99.65 L526.3,101.38 L526.8,102.61 L527.3,103.32 L527.8,103.52 L528.3,103.22 L528.8,102.44 L529.3,101.23 L529.8,99.62 L530.3,97.68 L530.8,95.46 L531.3,93.01 L531.8,90.40 L532.3,87.68 L532.8,84.91 L533.3,82.12 L533.8,79.35 L534.3,76.66 L534.8,74.04 L535.3,71.52 L535.8,69.15 L536.3,66.95 L536.8,64.94 L537.3,63.14 L537.8,61.57 L538.3,60.24 L538.8,59.19 L539.3,58.43 L539.8,57.97 L540.3,57.82 L540.8,57.99 L541.3,58.46 L541.8,59.24 L542.3,60.29 L542.8,61.60 L543.3,63.15 L543.8,64.89 L544.3,66.82 L544.8,68.89 L545.3,71.10 L545.8,73.42 L546.3,75.83 L546.8,78.32 L547.3,80.86 L547.8,83.45 L548.3,86.08 L548.8,88.72 L549.3,91.37 L549.8,94.03 L550.3,96.68 L550.8,99.32 L551.3,101.95 L551.8,104.56 L552.3,107.15 L552.8,109.71 L553.3,112.25 L553.8,114.75 L554.3,117.21 L554.8,119.63 L555.3,121.98 L555.8,124.27 L556.3,126.51 L556.8,128.67 L557.3,130.76 L557.8,132.77 L558.3,134.69 L558.8,136.53 L559.3,138.29 L559.8,139.95 L560.3,141.52 L560.8,143.00 L561.3,144.39 L561.8,145.70 L562.3,146.92 L562.8,148.05 L563.3,149.10 L563.8,150.07 L564.3,150.97 L564.8,151.79 L565.3,152.54 L565.8,153.23 L566.3,153.86 L566.8,154.42 L567.3,154.94 L567.8,155.40 L568.3,155.82 L568.8,156.19 L569.3,156.51 L569.8,156.79 L570.3,157.04 L570.8,157.26 L571.3,157.46 L571.8,157.63 L572.3,157.79 L572.8,157.92 L573.3,158.05 L573.8,158.15 L574.3,158.25 L574.8,158.34 L575.3,158.42 L575.8,158.49 L576.3,158.55 L576.8,158.61 L577.3,158.66 L577.8,158.71 L578.3,158.76 L578.8,158.80 L579.3,158.84 L579.8,158.88 L580.3,158.91 L580.8,158.95 L581.3,158.98 L581.8,159.01 L582.3,159.04 L582.8,159.07 L583.3,159.10 L583.8,159.13 L584.3,159.16 L584.8,159.18 L585.3,159.20 L585.8,159.22 L586.3,159.24 L586.8,159.26 L587.3,159.28 L587.8,159.30 L588.3,159.31 L588.8,159.33 L589.3,159.35 L589.8,159.37 L590.3,159.38 L590.8,159.40 L591.3,159.41 L591.8,159.43 L592.3,159.44 L592.8,159.46 L593.3,159.47 L593.8,159.49 L594.3,159.50 L594.8,159.52 L595.3,159.53 L595.8,159.54 L596.3,159.56 L596.8,159.57 L597.3,159.58 L597.8,159.60 L598.3,159.61 L598.8,159.62 L599.3,159.64 L599.8,159.65 L600.3,159.66 L600.8,159.67 L601.3,159.68 L601.8,159.70 L602.3,159.71 L602.8,159.72 L603.3,159.73 L603.8,159.74 L604.3,159.75 L604.8,159.77 L605.3,159.78 L605.8,159.79 L606.3,159.80 L606.8,159.81 L607.3,159.82 L607.8,159.83 L608.3,159.84 L608.8,159.85 L609.3,159.86 L609.8,159.87 L610.3,159.88 L610.8,159.89 L611.3,159.90 L611.8,159.91 L612.3,159.92 L612.8,159.93" fill="none" stroke="#000" stroke-width="0.75" stroke-dasharray="1.6 2.4" stroke-opacity="0.55"/>
<line x1="417.80" y1="22.60" x2="433.80" y2="22.60" stroke="#555" stroke-width="1.4"/>
<line x1="417.80" y1="32.10" x2="433.80" y2="32.10" stroke="#ff2020" stroke-width="0.9"/>
<text x="435.80" y="25.40" font-size="7.5" textLength="55.60" lengthAdjust="spacingAndGlyphs" fill="#111" stroke="#111" stroke-width="0.14">Experimental data</text>
<text x="435.80" y="34.90" font-size="7.5" textLength="21.20" lengthAdjust="spacingAndGlyphs" fill="#111" stroke="#111" stroke-width="0.14">Best fit</text>
<text x="534.00" y="25.40" font-size="7.5" textLength="13.00" lengthAdjust="spacingAndGlyphs" fill="#111" stroke="#111" stroke-width="0.14">C-O</text>
<line x1="515.00" y1="35.50" x2="528.61" y2="26.96" stroke="#111" stroke-width="0.75"/>
<path d="M531.40,25.20 L528.98,28.49 L527.38,25.95 Z" fill="#111"/>
<text x="553.80" y="55.00" font-size="7.5" textLength="12.10" lengthAdjust="spacingAndGlyphs" fill="#111" stroke="#111" stroke-width="0.14">C-C</text>
<line x1="538.30" y1="74.70" x2="553.97" y2="60.24" stroke="#111" stroke-width="0.75"/>
<path d="M556.40,58.00 L554.62,61.68 L552.59,59.47 Z" fill="#111"/>
<text x="573.70" y="119.50" font-size="7.5" textLength="14.30" lengthAdjust="spacingAndGlyphs" fill="#111" stroke="#111" stroke-width="0.14">C=C</text>
<line x1="555.30" y1="142.50" x2="576.18" y2="124.93" stroke="#111" stroke-width="0.75"/>
<path d="M578.70,122.80 L576.76,126.39 L574.83,124.10 Z" fill="#111"/>
<text x="470.20" y="109.50" font-size="7.5" textLength="14.30" lengthAdjust="spacingAndGlyphs" fill="#111" stroke="#111" stroke-width="0.14">C=O</text>
<line x1="492.60" y1="128.30" x2="481.10" y2="116.47" stroke="#111" stroke-width="0.75"/>
<path d="M478.80,114.10 L482.52,115.78 L480.37,117.87 Z" fill="#111"/>
<text x="436.00" y="129.00" font-size="7.5" textLength="22.10" lengthAdjust="spacingAndGlyphs" fill="#111" stroke="#111" stroke-width="0.14">O-C=O</text>
<line x1="464.10" y1="150.00" x2="452.82" y2="136.53" stroke="#111" stroke-width="0.75"/>
<path d="M450.70,134.00 L454.29,135.95 L451.99,137.88 Z" fill="#111"/>
<text x="604.00" y="16.00" font-size="12.4" text-anchor="middle" fill="#222" stroke="#222" stroke-width="0.05">(b)</text>
<line x1="1.70" y1="380.20" x2="198.00" y2="380.20" stroke="#333" stroke-width="1.0"/>
<line x1="2.00" y1="380.20" x2="2.00" y2="382.10" stroke="#333" stroke-width="0.9"/>
<line x1="15.05" y1="380.20" x2="15.05" y2="382.60" stroke="#333" stroke-width="0.9"/>
<line x1="28.09" y1="380.20" x2="28.09" y2="382.10" stroke="#333" stroke-width="0.9"/>
<line x1="41.14" y1="380.20" x2="41.14" y2="382.60" stroke="#333" stroke-width="0.9"/>
<line x1="54.19" y1="380.20" x2="54.19" y2="382.10" stroke="#333" stroke-width="0.9"/>
<line x1="67.23" y1="380.20" x2="67.23" y2="382.60" stroke="#333" stroke-width="0.9"/>
<line x1="80.28" y1="380.20" x2="80.28" y2="382.10" stroke="#333" stroke-width="0.9"/>
<line x1="93.33" y1="380.20" x2="93.33" y2="382.60" stroke="#333" stroke-width="0.9"/>
<line x1="106.37" y1="380.20" x2="106.37" y2="382.10" stroke="#333" stroke-width="0.9"/>
<line x1="119.42" y1="380.20" x2="119.42" y2="382.60" stroke="#333" stroke-width="0.9"/>
<line x1="132.47" y1="380.20" x2="132.47" y2="382.10" stroke="#333" stroke-width="0.9"/>
<line x1="145.51" y1="380.20" x2="145.51" y2="382.60" stroke="#333" stroke-width="0.9"/>
<line x1="158.56" y1="380.20" x2="158.56" y2="382.10" stroke="#333" stroke-width="0.9"/>
<line x1="171.61" y1="380.20" x2="171.61" y2="382.60" stroke="#333" stroke-width="0.9"/>
<line x1="184.65" y1="380.20" x2="184.65" y2="382.10" stroke="#333" stroke-width="0.9"/>
<line x1="197.70" y1="380.20" x2="197.70" y2="382.60" stroke="#333" stroke-width="0.9"/>
<text x="15.05" y="391.70" font-size="7.2" text-anchor="middle" textLength="10.40" lengthAdjust="spacingAndGlyphs" fill="#222" stroke="#222" stroke-width="0.14">294</text>
<text x="41.14" y="391.70" font-size="7.2" text-anchor="middle" textLength="10.40" lengthAdjust="spacingAndGlyphs" fill="#222" stroke="#222" stroke-width="0.14">292</text>
<text x="67.23" y="391.70" font-size="7.2" text-anchor="middle" textLength="10.40" lengthAdjust="spacingAndGlyphs" fill="#222" stroke="#222" stroke-width="0.14">290</text>
<text x="93.33" y="391.70" font-size="7.2" text-anchor="middle" textLength="10.40" lengthAdjust="spacingAndGlyphs" fill="#222" stroke="#222" stroke-width="0.14">288</text>
<text x="119.42" y="391.70" font-size="7.2" text-anchor="middle" textLength="10.40" lengthAdjust="spacingAndGlyphs" fill="#222" stroke="#222" stroke-width="0.14">286</text>
<text x="145.51" y="391.70" font-size="7.2" text-anchor="middle" textLength="10.40" lengthAdjust="spacingAndGlyphs" fill="#222" stroke="#222" stroke-width="0.14">284</text>
<text x="171.61" y="391.70" font-size="7.2" text-anchor="middle" textLength="10.40" lengthAdjust="spacingAndGlyphs" fill="#222" stroke="#222" stroke-width="0.14">282</text>
<text x="197.70" y="391.70" font-size="7.2" text-anchor="middle" textLength="10.40" lengthAdjust="spacingAndGlyphs" fill="#222" stroke="#222" stroke-width="0.14">280</text>
<text x="67.90" y="404.10" font-size="7.4" font-weight="bold" textLength="63.60" lengthAdjust="spacingAndGlyphs" fill="#111" stroke="#111" stroke-width="0.14">Binding energy (eV)</text>
<path d="M2.0,367.99 L2.5,368.00 L3.0,368.01 L3.5,368.02 L4.0,368.02 L4.5,368.03 L5.0,368.04 L5.5,368.04 L6.0,368.05 L6.5,368.06 L7.0,368.06 L7.5,368.07 L8.0,368.08 L8.5,368.08 L9.0,368.09 L9.5,368.10 L10.0,368.10 L10.5,368.11 L11.0,368.12 L11.5,368.12 L12.0,368.13 L12.5,368.14 L13.0,368.15 L13.5,368.15 L14.0,368.16 L14.5,368.17 L15.0,368.17 L15.5,368.18 L16.0,368.19 L16.5,368.19 L17.0,368.20 L17.5,368.21 L18.0,368.21 L18.5,368.22 L19.0,368.23 L19.5,368.23 L20.0,368.24 L20.5,368.25 L21.0,368.25 L21.5,368.26 L22.0,368.27 L22.5,368.28 L23.0,368.28 L23.5,368.29 L24.0,368.30 L24.5,368.30 L25.0,368.31 L25.5,368.32 L26.0,368.32 L26.5,368.33 L27.0,368.34 L27.5,368.34 L28.0,368.35 L28.5,368.36 L29.0,368.36 L29.5,368.37 L30.0,368.38 L30.5,368.38 L31.0,368.39 L31.5,368.40 L32.0,368.41 L32.5,368.41 L33.0,368.42 L33.5,368.43 L34.0,368.43 L34.5,368.44 L35.0,368.45 L35.5,368.45 L36.0,368.46 L36.5,368.47 L37.0,368.47 L37.5,368.48 L38.0,368.49 L38.5,368.49 L39.0,368.50 L39.5,368.51 L40.0,368.51 L40.5,368.52 L41.0,368.53 L41.5,368.53 L42.0,368.54 L42.5,368.55 L43.0,368.55 L43.5,368.56 L44.0,368.57 L44.5,368.58 L45.0,368.58 L45.5,368.59 L46.0,368.60 L46.5,368.60 L47.0,368.61 L47.5,368.62 L48.0,368.62 L48.5,368.63 L49.0,368.64 L49.5,368.64 L50.0,368.65 L50.5,368.66 L51.0,368.66 L51.5,368.67 L52.0,368.68 L52.5,368.68 L53.0,368.69 L53.5,368.70 L54.0,368.70 L54.5,368.71 L55.0,368.72 L55.5,368.72 L56.0,368.73 L56.5,368.74 L57.0,368.74 L57.5,368.75 L58.0,368.76 L58.5,368.76 L59.0,368.77 L59.5,368.78 L60.0,368.78 L60.5,368.80 L61.0,368.81 L61.5,368.83 L62.0,368.84 L62.5,368.86 L63.0,368.87 L63.5,368.89 L64.0,368.90 L64.5,368.92 L65.0,368.93 L65.5,368.95 L66.0,368.96 L66.5,368.98 L67.0,368.99 L67.5,369.01 L68.0,369.02 L68.5,369.04 L69.0,369.05 L69.5,369.07 L70.0,369.08 L70.5,369.09 L71.0,369.11 L71.5,369.12 L72.0,369.14 L72.5,369.15 L73.0,369.17 L73.5,369.18 L74.0,369.20 L74.5,369.21 L75.0,369.23 L75.5,369.24 L76.0,369.26 L76.5,369.27 L77.0,369.29 L77.5,369.30 L78.0,369.32 L78.5,369.33 L79.0,369.34 L79.5,369.36 L80.0,369.37 L80.5,369.39 L81.0,369.40 L81.5,369.42 L82.0,369.43 L82.5,369.45 L83.0,369.46 L83.5,369.48 L84.0,369.49 L84.5,369.50 L85.0,369.52 L85.5,369.53 L86.0,369.55 L86.5,369.56 L87.0,369.58 L87.5,369.59 L88.0,369.61 L88.5,369.62 L89.0,369.63 L89.5,369.65 L90.0,369.66 L90.5,369.68 L91.0,369.69 L91.5,369.71 L92.0,369.72 L92.5,369.73 L93.0,369.75 L93.5,369.76 L94.0,369.78 L94.5,369.79 L95.0,369.80 L95.5,369.82 L96.0,369.83 L96.5,369.85 L97.0,369.86 L97.5,369.87 L98.0,369.89 L98.5,369.90 L99.0,369.92 L99.5,369.93 L100.0,369.94 L100.5,370.00 L101.0,370.06 L101.5,370.12 L102.0,370.18 L102.5,370.24 L103.0,370.30 L103.5,370.36 L104.0,370.42 L104.5,370.48 L105.0,370.54 L105.5,370.60 L106.0,370.66 L106.5,370.72 L107.0,370.78 L107.5,370.83 L108.0,370.89 L108.5,370.95 L109.0,371.01 L109.5,371.07 L110.0,371.13 L110.5,371.19 L111.0,371.24 L111.5,371.30 L112.0,371.36 L112.5,371.42 L113.0,371.47 L113.5,371.53 L114.0,371.59 L114.5,371.65 L115.0,371.70 L115.5,371.76 L116.0,371.82 L116.5,371.87 L117.0,371.93 L117.5,371.98 L118.0,372.04 L118.5,372.09 L119.0,372.15 L119.5,372.20 L120.0,372.25 L120.5,372.31 L121.0,372.36 L121.5,372.41 L122.0,372.46 L122.5,372.50 L123.0,372.55 L123.5,372.59 L124.0,372.63 L124.5,372.67 L125.0,372.70 L125.5,372.72 L126.0,372.73 L126.5,372.74 L127.0,372.73 L127.5,372.71 L128.0,372.67 L128.5,372.60 L129.0,372.51 L129.5,372.39 L130.0,372.23 L130.5,372.03 L131.0,371.78 L131.5,371.48 L132.0,371.13 L132.5,370.71 L133.0,370.23 L133.5,369.68 L134.0,369.05 L134.5,368.36 L135.0,367.60 L135.5,366.78 L136.0,365.90 L136.5,364.98 L137.0,364.01 L137.5,363.03 L138.0,362.03 L138.5,361.05 L139.0,360.11 L139.5,359.21 L140.0,358.40 L140.5,357.68 L141.0,357.08 L141.5,356.62 L142.0,356.32 L142.5,356.19 L143.0,356.24 L143.5,356.46 L144.0,356.86 L144.5,357.41 L145.0,358.11 L145.5,358.90 L146.0,359.79 L146.5,360.76 L147.0,361.79 L147.5,362.85 L148.0,363.93 L148.5,365.01 L149.0,366.06 L149.5,367.08 L150.0,368.06 L150.5,368.98 L151.0,369.83 L151.5,370.62 L152.0,371.34 L152.5,371.99 L153.0,372.57 L153.5,373.09 L154.0,373.54 L154.5,373.93 L155.0,374.27 L155.5,374.57 L156.0,374.82 L156.5,375.04 L157.0,375.22 L157.5,375.37 L158.0,375.51 L158.5,375.62 L159.0,375.72 L159.5,375.80 L160.0,375.88 L160.5,375.94 L161.0,376.00 L161.5,376.05 L162.0,376.10 L162.5,376.15 L163.0,376.19 L163.5,376.23 L164.0,376.27 L164.5,376.30 L165.0,376.34 L165.5,376.37 L166.0,376.41 L166.5,376.44 L167.0,376.47 L167.5,376.51 L168.0,376.54 L168.5,376.57 L169.0,376.60 L169.5,376.63 L170.0,376.66 L170.5,376.68 L171.0,376.69 L171.5,376.70 L172.0,376.71 L172.5,376.72 L173.0,376.73 L173.5,376.74 L174.0,376.75 L174.5,376.76 L175.0,376.77 L175.5,376.78 L176.0,376.79 L176.5,376.80 L177.0,376.81 L177.5,376.82 L178.0,376.83 L178.5,376.84 L179.0,376.85 L179.5,376.86 L180.0,376.87 L180.5,376.88 L181.0,376.89 L181.5,376.90 L182.0,376.90 L182.5,376.91 L183.0,376.92 L183.5,376.93 L184.0,376.94 L184.5,376.95 L185.0,376.96 L185.5,376.96 L186.0,376.97 L186.5,376.98 L187.0,376.99 L187.5,377.00 L188.0,377.01 L188.5,377.01 L189.0,377.02 L189.5,377.03 L190.0,377.04 L190.5,377.05 L191.0,377.06 L191.5,377.06 L192.0,377.07 L192.5,377.08 L193.0,377.09 L193.5,377.10 L194.0,377.10 L194.5,377.11 L195.0,377.12 L195.5,377.13 L196.0,377.13 L196.5,377.14 L197.0,377.15 L197.5,377.16" fill="none" stroke="#00ee00" stroke-width="1.1" stroke-linejoin="round" stroke-opacity="1.0"/>
<path d="M2.0,368.00 L2.5,368.01 L3.0,368.01 L3.5,368.02 L4.0,368.03 L4.5,368.03 L5.0,368.04 L5.5,368.05 L6.0,368.06 L6.5,368.06 L7.0,368.07 L7.5,368.08 L8.0,368.08 L8.5,368.09 L9.0,368.10 L9.5,368.10 L10.0,368.11 L10.5,368.12 L11.0,368.12 L11.5,368.13 L12.0,368.14 L12.5,368.14 L13.0,368.15 L13.5,368.16 L14.0,368.17 L14.5,368.17 L15.0,368.18 L15.5,368.19 L16.0,368.19 L16.5,368.20 L17.0,368.21 L17.5,368.21 L18.0,368.22 L18.5,368.23 L19.0,368.23 L19.5,368.24 L20.0,368.25 L20.5,368.26 L21.0,368.26 L21.5,368.27 L22.0,368.28 L22.5,368.28 L23.0,368.29 L23.5,368.30 L24.0,368.30 L24.5,368.31 L25.0,368.32 L25.5,368.32 L26.0,368.33 L26.5,368.34 L27.0,368.34 L27.5,368.35 L28.0,368.36 L28.5,368.37 L29.0,368.37 L29.5,368.38 L30.0,368.39 L30.5,368.39 L31.0,368.40 L31.5,368.41 L32.0,368.41 L32.5,368.42 L33.0,368.43 L33.5,368.43 L34.0,368.44 L34.5,368.45 L35.0,368.46 L35.5,368.46 L36.0,368.47 L36.5,368.48 L37.0,368.48 L37.5,368.49 L38.0,368.50 L38.5,368.50 L39.0,368.51 L39.5,368.52 L40.0,368.52 L40.5,368.53 L41.0,368.54 L41.5,368.54 L42.0,368.55 L42.5,368.56 L43.0,368.57 L43.5,368.57 L44.0,368.58 L44.5,368.59 L45.0,368.59 L45.5,368.60 L46.0,368.61 L46.5,368.61 L47.0,368.62 L47.5,368.63 L48.0,368.63 L48.5,368.64 L49.0,368.65 L49.5,368.66 L50.0,368.66 L50.5,368.67 L51.0,368.68 L51.5,368.68 L52.0,368.69 L52.5,368.70 L53.0,368.70 L53.5,368.71 L54.0,368.72 L54.5,368.72 L55.0,368.73 L55.5,368.74 L56.0,368.74 L56.5,368.75 L57.0,368.76 L57.5,368.77 L58.0,368.77 L58.5,368.78 L59.0,368.79 L59.5,368.79 L60.0,368.80 L60.5,368.81 L61.0,368.83 L61.5,368.85 L62.0,368.86 L62.5,368.88 L63.0,368.89 L63.5,368.91 L64.0,368.92 L64.5,368.94 L65.0,368.95 L65.5,368.97 L66.0,368.98 L66.5,369.00 L67.0,369.01 L67.5,369.03 L68.0,369.04 L68.5,369.06 L69.0,369.07 L69.5,369.09 L70.0,369.10 L70.5,369.12 L71.0,369.13 L71.5,369.14 L72.0,369.16 L72.5,369.18 L73.0,369.19 L73.5,369.20 L74.0,369.22 L74.5,369.24 L75.0,369.25 L75.5,369.26 L76.0,369.28 L76.5,369.30 L77.0,369.31 L77.5,369.32 L78.0,369.34 L78.5,369.36 L79.0,369.37 L79.5,369.38 L80.0,369.40 L80.5,369.41 L81.0,369.43 L81.5,369.44 L82.0,369.46 L82.5,369.47 L83.0,369.49 L83.5,369.50 L84.0,369.52 L84.5,369.53 L85.0,369.55 L85.5,369.56 L86.0,369.58 L86.5,369.59 L87.0,369.61 L87.5,369.62 L88.0,369.64 L88.5,369.65 L89.0,369.67 L89.5,369.68 L90.0,369.70 L90.5,369.71 L91.0,369.73 L91.5,369.74 L92.0,369.76 L92.5,369.77 L93.0,369.79 L93.5,369.80 L94.0,369.82 L94.5,369.83 L95.0,369.85 L95.5,369.86 L96.0,369.88 L96.5,369.89 L97.0,369.91 L97.5,369.92 L98.0,369.94 L98.5,369.95 L99.0,369.97 L99.5,369.98 L100.0,370.00 L100.5,370.06 L101.0,370.12 L101.5,370.18 L102.0,370.24 L102.5,370.31 L103.0,370.37 L103.5,370.43 L104.0,370.49 L104.5,370.55 L105.0,370.61 L105.5,370.67 L106.0,370.73 L106.5,370.79 L107.0,370.84 L107.5,370.90 L108.0,370.96 L108.5,371.01 L109.0,371.06 L109.5,371.11 L110.0,371.15 L110.5,371.19 L111.0,371.22 L111.5,371.24 L112.0,371.26 L112.5,371.25 L113.0,371.24 L113.5,371.20 L114.0,371.13 L114.5,371.04 L115.0,370.90 L115.5,370.72 L116.0,370.49 L116.5,370.20 L117.0,369.83 L117.5,369.37 L118.0,368.82 L118.5,368.15 L119.0,367.34 L119.5,366.39 L120.0,365.28 L120.5,363.97 L121.0,362.47 L121.5,360.74 L122.0,358.77 L122.5,356.54 L123.0,354.04 L123.5,351.26 L124.0,348.18 L124.5,344.79 L125.0,341.10 L125.5,337.11 L126.0,332.82 L126.5,328.26 L127.0,323.44 L127.5,318.39 L128.0,313.15 L128.5,307.75 L129.0,302.25 L129.5,296.71 L130.0,291.17 L130.5,285.71 L131.0,280.39 L131.5,275.29 L132.0,270.46 L132.5,265.98 L133.0,261.92 L133.5,258.33 L134.0,255.28 L134.5,252.81 L135.0,250.96 L135.5,249.76 L136.0,249.23 L136.5,249.39 L137.0,250.23 L137.5,251.73 L138.0,253.88 L138.5,256.65 L139.0,259.98 L139.5,263.82 L140.0,268.13 L140.5,272.84 L141.0,277.87 L141.5,283.17 L142.0,288.65 L142.5,294.26 L143.0,299.93 L143.5,305.59 L144.0,311.19 L144.5,316.67 L145.0,321.98 L145.5,327.05 L146.0,331.89 L146.5,336.47 L147.0,340.76 L147.5,344.75 L148.0,348.45 L148.5,351.83 L149.0,354.92 L149.5,357.71 L150.0,360.22 L150.5,362.46 L151.0,364.45 L151.5,366.20 L152.0,367.73 L152.5,369.07 L153.0,370.22 L153.5,371.22 L154.0,372.07 L154.5,372.79 L155.0,373.41 L155.5,373.93 L156.0,374.36 L156.5,374.72 L157.0,375.03 L157.5,375.28 L158.0,375.49 L158.5,375.66 L159.0,375.80 L159.5,375.92 L160.0,376.03 L160.5,376.11 L161.0,376.18 L161.5,376.24 L162.0,376.30 L162.5,376.35 L163.0,376.39 L163.5,376.43 L164.0,376.46 L164.5,376.49 L165.0,376.53 L165.5,376.56 L166.0,376.58 L166.5,376.61 L167.0,376.64 L167.5,376.67 L168.0,376.69 L168.5,376.72 L169.0,376.75 L169.5,376.77 L170.0,376.80 L170.5,376.81 L171.0,376.81 L171.5,376.82 L172.0,376.83 L172.5,376.84 L173.0,376.84 L173.5,376.85 L174.0,376.86 L174.5,376.86 L175.0,376.87 L175.5,376.88 L176.0,376.89 L176.5,376.89 L177.0,376.90 L177.5,376.91 L178.0,376.91 L178.5,376.92 L179.0,376.93 L179.5,376.94 L180.0,376.94 L180.5,376.95 L181.0,376.96 L181.5,376.96 L182.0,376.97 L182.5,376.98 L183.0,376.99 L183.5,376.99 L184.0,377.00 L184.5,377.01 L185.0,377.01 L185.5,377.02 L186.0,377.03 L186.5,377.04 L187.0,377.04 L187.5,377.05 L188.0,377.06 L188.5,377.06 L189.0,377.07 L189.5,377.08 L190.0,377.09 L190.5,377.09 L191.0,377.10 L191.5,377.11 L192.0,377.11 L192.5,377.12 L193.0,377.13 L193.5,377.14 L194.0,377.14 L194.5,377.15 L195.0,377.16 L195.5,377.16 L196.0,377.17 L196.5,377.18 L197.0,377.19 L197.5,377.19" fill="none" stroke="#007000" stroke-width="1.1" stroke-linejoin="round" stroke-opacity="1.0"/>
<path d="M2.0,368.00 L2.5,368.01 L3.0,368.01 L3.5,368.02 L4.0,368.03 L4.5,368.03 L5.0,368.04 L5.5,368.05 L6.0,368.06 L6.5,368.06 L7.0,368.07 L7.5,368.08 L8.0,368.08 L8.5,368.09 L9.0,368.10 L9.5,368.10 L10.0,368.11 L10.5,368.12 L11.0,368.12 L11.5,368.13 L12.0,368.14 L12.5,368.14 L13.0,368.15 L13.5,368.16 L14.0,368.17 L14.5,368.17 L15.0,368.18 L15.5,368.19 L16.0,368.19 L16.5,368.20 L17.0,368.21 L17.5,368.21 L18.0,368.22 L18.5,368.23 L19.0,368.23 L19.5,368.24 L20.0,368.25 L20.5,368.26 L21.0,368.26 L21.5,368.27 L22.0,368.28 L22.5,368.28 L23.0,368.29 L23.5,368.30 L24.0,368.30 L24.5,368.31 L25.0,368.32 L25.5,368.32 L26.0,368.33 L26.5,368.34 L27.0,368.34 L27.5,368.35 L28.0,368.36 L28.5,368.37 L29.0,368.37 L29.5,368.38 L30.0,368.39 L30.5,368.39 L31.0,368.40 L31.5,368.41 L32.0,368.41 L32.5,368.42 L33.0,368.43 L33.5,368.43 L34.0,368.44 L34.5,368.45 L35.0,368.46 L35.5,368.46 L36.0,368.47 L36.5,368.48 L37.0,368.48 L37.5,368.49 L38.0,368.50 L38.5,368.50 L39.0,368.51 L39.5,368.52 L40.0,368.52 L40.5,368.53 L41.0,368.54 L41.5,368.54 L42.0,368.55 L42.5,368.56 L43.0,368.57 L43.5,368.57 L44.0,368.58 L44.5,368.59 L45.0,368.59 L45.5,368.60 L46.0,368.61 L46.5,368.61 L47.0,368.62 L47.5,368.63 L48.0,368.63 L48.5,368.64 L49.0,368.65 L49.5,368.66 L50.0,368.66 L50.5,368.67 L51.0,368.68 L51.5,368.68 L52.0,368.69 L52.5,368.70 L53.0,368.70 L53.5,368.71 L54.0,368.72 L54.5,368.72 L55.0,368.73 L55.5,368.74 L56.0,368.74 L56.5,368.75 L57.0,368.76 L57.5,368.77 L58.0,368.77 L58.5,368.78 L59.0,368.79 L59.5,368.79 L60.0,368.80 L60.5,368.81 L61.0,368.83 L61.5,368.84 L62.0,368.86 L62.5,368.87 L63.0,368.89 L63.5,368.90 L64.0,368.92 L64.5,368.93 L65.0,368.95 L65.5,368.96 L66.0,368.98 L66.5,368.99 L67.0,369.01 L67.5,369.02 L68.0,369.04 L68.5,369.05 L69.0,369.07 L69.5,369.08 L70.0,369.10 L70.5,369.11 L71.0,369.13 L71.5,369.14 L72.0,369.16 L72.5,369.17 L73.0,369.19 L73.5,369.20 L74.0,369.22 L74.5,369.23 L75.0,369.25 L75.5,369.26 L76.0,369.28 L76.5,369.29 L77.0,369.31 L77.5,369.32 L78.0,369.33 L78.5,369.35 L79.0,369.36 L79.5,369.37 L80.0,369.38 L80.5,369.39 L81.0,369.40 L81.5,369.41 L82.0,369.41 L82.5,369.42 L83.0,369.42 L83.5,369.41 L84.0,369.41 L84.5,369.39 L85.0,369.38 L85.5,369.35 L86.0,369.32 L86.5,369.28 L87.0,369.22 L87.5,369.15 L88.0,369.07 L88.5,368.97 L89.0,368.85 L89.5,368.70 L90.0,368.53 L90.5,368.33 L91.0,368.09 L91.5,367.81 L92.0,367.49 L92.5,367.13 L93.0,366.71 L93.5,366.23 L94.0,365.69 L94.5,365.08 L95.0,364.40 L95.5,363.64 L96.0,362.79 L96.5,361.86 L97.0,360.83 L97.5,359.71 L98.0,358.49 L98.5,357.17 L99.0,355.74 L99.5,354.21 L100.0,352.58 L100.5,350.89 L101.0,349.11 L101.5,347.24 L102.0,345.28 L102.5,343.25 L103.0,341.15 L103.5,339.00 L104.0,336.81 L104.5,334.59 L105.0,332.36 L105.5,330.14 L106.0,327.94 L106.5,325.78 L107.0,323.69 L107.5,321.68 L108.0,319.77 L108.5,317.98 L109.0,316.32 L109.5,314.83 L110.0,313.51 L110.5,312.38 L111.0,311.44 L111.5,310.72 L112.0,310.22 L112.5,309.94 L113.0,309.90 L113.5,310.09 L114.0,310.50 L114.5,311.14 L115.0,312.00 L115.5,313.08 L116.0,314.35 L116.5,315.80 L117.0,317.43 L117.5,319.22 L118.0,321.14 L118.5,323.18 L119.0,325.32 L119.5,327.54 L120.0,329.83 L120.5,332.15 L121.0,334.50 L121.5,336.85 L122.0,339.19 L122.5,341.50 L123.0,343.77 L123.5,345.99 L124.0,348.14 L124.5,350.21 L125.0,352.20 L125.5,354.09 L126.0,355.89 L126.5,357.59 L127.0,359.19 L127.5,360.68 L128.0,362.08 L128.5,363.37 L129.0,364.56 L129.5,365.65 L130.0,366.65 L130.5,367.57 L131.0,368.40 L131.5,369.15 L132.0,369.83 L132.5,370.44 L133.0,370.99 L133.5,371.48 L134.0,371.92 L134.5,372.31 L135.0,372.66 L135.5,372.97 L136.0,373.24 L136.5,373.49 L137.0,373.71 L137.5,373.91 L138.0,374.08 L138.5,374.24 L139.0,374.38 L139.5,374.51 L140.0,374.63 L140.5,374.74 L141.0,374.84 L141.5,374.93 L142.0,375.02 L142.5,375.11 L143.0,375.18 L143.5,375.26 L144.0,375.33 L144.5,375.40 L145.0,375.47 L145.5,375.50 L146.0,375.53 L146.5,375.56 L147.0,375.59 L147.5,375.62 L148.0,375.65 L148.5,375.68 L149.0,375.70 L149.5,375.73 L150.0,375.76 L150.5,375.78 L151.0,375.81 L151.5,375.84 L152.0,375.86 L152.5,375.89 L153.0,375.92 L153.5,375.94 L154.0,375.97 L154.5,375.99 L155.0,376.02 L155.5,376.05 L156.0,376.07 L156.5,376.10 L157.0,376.12 L157.5,376.15 L158.0,376.18 L158.5,376.20 L159.0,376.23 L159.5,376.25 L160.0,376.28 L160.5,376.31 L161.0,376.33 L161.5,376.36 L162.0,376.38 L162.5,376.41 L163.0,376.44 L163.5,376.46 L164.0,376.49 L164.5,376.51 L165.0,376.54 L165.5,376.57 L166.0,376.59 L166.5,376.62 L167.0,376.64 L167.5,376.67 L168.0,376.70 L168.5,376.72 L169.0,376.75 L169.5,376.77 L170.0,376.80 L170.5,376.81 L171.0,376.81 L171.5,376.82 L172.0,376.83 L172.5,376.84 L173.0,376.84 L173.5,376.85 L174.0,376.86 L174.5,376.86 L175.0,376.87 L175.5,376.88 L176.0,376.89 L176.5,376.89 L177.0,376.90 L177.5,376.91 L178.0,376.91 L178.5,376.92 L179.0,376.93 L179.5,376.94 L180.0,376.94 L180.5,376.95 L181.0,376.96 L181.5,376.96 L182.0,376.97 L182.5,376.98 L183.0,376.99 L183.5,376.99 L184.0,377.00 L184.5,377.01 L185.0,377.01 L185.5,377.02 L186.0,377.03 L186.5,377.04 L187.0,377.04 L187.5,377.05 L188.0,377.06 L188.5,377.06 L189.0,377.07 L189.5,377.08 L190.0,377.09 L190.5,377.09 L191.0,377.10 L191.5,377.11 L192.0,377.11 L192.5,377.12 L193.0,377.13 L193.5,377.14 L194.0,377.14 L194.5,377.15 L195.0,377.16 L195.5,377.16 L196.0,377.17 L196.5,377.18 L197.0,377.19 L197.5,377.19" fill="none" stroke="#750000" stroke-width="1.1" stroke-linejoin="round" stroke-opacity="1.0"/>
<path d="M2.0,367.89 L2.5,367.90 L3.0,367.90 L3.5,367.91 L4.0,367.91 L4.5,367.92 L5.0,367.92 L5.5,367.93 L6.0,367.93 L6.5,367.94 L7.0,367.95 L7.5,367.95 L8.0,367.96 L8.5,367.96 L9.0,367.97 L9.5,367.97 L10.0,367.98 L10.5,367.98 L11.0,367.99 L11.5,367.99 L12.0,368.00 L12.5,368.00 L13.0,368.01 L13.5,368.01 L14.0,368.02 L14.5,368.02 L15.0,368.03 L15.5,368.03 L16.0,368.04 L16.5,368.04 L17.0,368.05 L17.5,368.05 L18.0,368.06 L18.5,368.06 L19.0,368.07 L19.5,368.07 L20.0,368.08 L20.5,368.08 L21.0,368.09 L21.5,368.09 L22.0,368.09 L22.5,368.10 L23.0,368.10 L23.5,368.11 L24.0,368.11 L24.5,368.12 L25.0,368.12 L25.5,368.12 L26.0,368.13 L26.5,368.13 L27.0,368.14 L27.5,368.14 L28.0,368.14 L28.5,368.15 L29.0,368.15 L29.5,368.15 L30.0,368.16 L30.5,368.16 L31.0,368.16 L31.5,368.17 L32.0,368.17 L32.5,368.17 L33.0,368.18 L33.5,368.18 L34.0,368.18 L34.5,368.18 L35.0,368.19 L35.5,368.19 L36.0,368.19 L36.5,368.19 L37.0,368.19 L37.5,368.20 L38.0,368.20 L38.5,368.20 L39.0,368.20 L39.5,368.20 L40.0,368.20 L40.5,368.20 L41.0,368.20 L41.5,368.20 L42.0,368.20 L42.5,368.20 L43.0,368.20 L43.5,368.20 L44.0,368.20 L44.5,368.20 L45.0,368.20 L45.5,368.20 L46.0,368.20 L46.5,368.20 L47.0,368.20 L47.5,368.19 L48.0,368.19 L48.5,368.19 L49.0,368.18 L49.5,368.18 L50.0,368.18 L50.5,368.17 L51.0,368.17 L51.5,368.16 L52.0,368.15 L52.5,368.15 L53.0,368.14 L53.5,368.13 L54.0,368.12 L54.5,368.11 L55.0,368.10 L55.5,368.08 L56.0,368.07 L56.5,368.05 L57.0,368.03 L57.5,368.01 L58.0,367.99 L58.5,367.96 L59.0,367.93 L59.5,367.90 L60.0,367.87 L60.5,367.83 L61.0,367.80 L61.5,367.76 L62.0,367.71 L62.5,367.66 L63.0,367.60 L63.5,367.53 L64.0,367.45 L64.5,367.37 L65.0,367.27 L65.5,367.16 L66.0,367.04 L66.5,366.91 L67.0,366.77 L67.5,366.60 L68.0,366.43 L68.5,366.23 L69.0,366.02 L69.5,365.78 L70.0,365.53 L70.5,365.25 L71.0,364.95 L71.5,364.62 L72.0,364.27 L72.5,363.89 L73.0,363.49 L73.5,363.06 L74.0,362.59 L74.5,362.10 L75.0,361.58 L75.5,361.04 L76.0,360.46 L76.5,359.85 L77.0,359.22 L77.5,358.55 L78.0,357.86 L78.5,357.15 L79.0,356.41 L79.5,355.66 L80.0,354.88 L80.5,354.09 L81.0,353.28 L81.5,352.46 L82.0,351.64 L82.5,350.81 L83.0,349.99 L83.5,349.17 L84.0,348.36 L84.5,347.57 L85.0,346.80 L85.5,346.05 L86.0,345.33 L86.5,344.66 L87.0,344.02 L87.5,343.43 L88.0,342.90 L88.5,342.42 L89.0,342.01 L89.5,341.67 L90.0,341.40 L90.5,341.21 L91.0,341.09 L91.5,341.06 L92.0,341.10 L92.5,341.22 L93.0,341.43 L93.5,341.70 L94.0,342.06 L94.5,342.48 L95.0,342.97 L95.5,343.51 L96.0,344.12 L96.5,344.77 L97.0,345.47 L97.5,346.20 L98.0,346.97 L98.5,347.77 L99.0,348.58 L99.5,349.42 L100.0,350.27 L100.5,351.16 L101.0,352.07 L101.5,352.97 L102.0,353.86 L102.5,354.75 L103.0,355.62 L103.5,356.48 L104.0,357.32 L104.5,358.14 L105.0,358.93 L105.5,359.71 L106.0,360.45 L106.5,361.17 L107.0,361.86 L107.5,362.52 L108.0,363.16 L108.5,363.76 L109.0,364.34 L109.5,364.88 L110.0,365.40 L110.5,365.89 L111.0,366.35 L111.5,366.78 L112.0,367.19 L112.5,367.58 L113.0,367.94 L113.5,368.27 L114.0,368.59 L114.5,368.89 L115.0,369.16 L115.5,369.42 L116.0,369.66 L116.5,369.89 L117.0,370.10 L117.5,370.30 L118.0,370.49 L118.5,370.66 L119.0,370.83 L119.5,370.98 L120.0,371.13 L120.5,371.27 L121.0,371.40 L121.5,371.52 L122.0,371.64 L122.5,371.76 L123.0,371.86 L123.5,371.97 L124.0,372.07 L124.5,372.17 L125.0,372.26 L125.5,372.35 L126.0,372.44 L126.5,372.53 L127.0,372.62 L127.5,372.70 L128.0,372.78 L128.5,372.86 L129.0,372.94 L129.5,373.02 L130.0,373.10 L130.5,373.17 L131.0,373.25 L131.5,373.32 L132.0,373.40 L132.5,373.47 L133.0,373.54 L133.5,373.62 L134.0,373.69 L134.5,373.76 L135.0,373.83 L135.5,373.90 L136.0,373.97 L136.5,374.04 L137.0,374.11 L137.5,374.18 L138.0,374.25 L138.5,374.32 L139.0,374.39 L139.5,374.46 L140.0,374.53 L140.5,374.59 L141.0,374.66 L141.5,374.73 L142.0,374.80 L142.5,374.86 L143.0,374.93 L143.5,375.00 L144.0,375.07 L144.5,375.13 L145.0,375.20 L145.5,375.23 L146.0,375.26 L146.5,375.29 L147.0,375.32 L147.5,375.35 L148.0,375.38 L148.5,375.42 L149.0,375.45 L149.5,375.48 L150.0,375.51 L150.5,375.54 L151.0,375.57 L151.5,375.60 L152.0,375.63 L152.5,375.66 L153.0,375.69 L153.5,375.72 L154.0,375.74 L154.5,375.77 L155.0,375.80 L155.5,375.83 L156.0,375.86 L156.5,375.89 L157.0,375.92 L157.5,375.95 L158.0,375.98 L158.5,376.01 L159.0,376.04 L159.5,376.06 L160.0,376.09 L160.5,376.12 L161.0,376.15 L161.5,376.18 L162.0,376.21 L162.5,376.24 L163.0,376.26 L163.5,376.29 L164.0,376.32 L164.5,376.35 L165.0,376.38 L165.5,376.41 L166.0,376.43 L166.5,376.46 L167.0,376.49 L167.5,376.52 L168.0,376.55 L168.5,376.57 L169.0,376.60 L169.5,376.63 L170.0,376.66 L170.5,376.67 L171.0,376.67 L171.5,376.68 L172.0,376.69 L172.5,376.70 L173.0,376.71 L173.5,376.72 L174.0,376.73 L174.5,376.74 L175.0,376.74 L175.5,376.75 L176.0,376.76 L176.5,376.77 L177.0,376.78 L177.5,376.79 L178.0,376.80 L178.5,376.80 L179.0,376.81 L179.5,376.82 L180.0,376.83 L180.5,376.84 L181.0,376.85 L181.5,376.85 L182.0,376.86 L182.5,376.87 L183.0,376.88 L183.5,376.89 L184.0,376.90 L184.5,376.90 L185.0,376.91 L185.5,376.92 L186.0,376.93 L186.5,376.94 L187.0,376.95 L187.5,376.95 L188.0,376.96 L188.5,376.97 L189.0,376.98 L189.5,376.99 L190.0,376.99 L190.5,377.00 L191.0,377.01 L191.5,377.02 L192.0,377.03 L192.5,377.03 L193.0,377.04 L193.5,377.05 L194.0,377.06 L194.5,377.07 L195.0,377.07 L195.5,377.08 L196.0,377.09 L196.5,377.10 L197.0,377.11 L197.5,377.11" fill="none" stroke="#0000ff" stroke-width="1.1" stroke-linejoin="round" stroke-opacity="1.0"/>
<path d="M2.0,367.99 L2.5,367.99 L3.0,368.00 L3.5,368.00 L4.0,368.01 L4.5,368.01 L5.0,368.02 L5.5,368.02 L6.0,368.03 L6.5,368.03 L7.0,368.04 L7.5,368.04 L8.0,368.05 L8.5,368.05 L9.0,368.05 L9.5,368.06 L10.0,368.06 L10.5,368.06 L11.0,368.06 L11.5,368.06 L12.0,368.06 L12.5,368.07 L13.0,368.07 L13.5,368.06 L14.0,368.06 L14.5,368.06 L15.0,368.06 L15.5,368.06 L16.0,368.05 L16.5,368.05 L17.0,368.05 L17.5,368.04 L18.0,368.03 L18.5,368.03 L19.0,368.02 L19.5,368.01 L20.0,368.00 L20.5,367.99 L21.0,367.98 L21.5,367.97 L22.0,367.95 L22.5,367.94 L23.0,367.92 L23.5,367.90 L24.0,367.88 L24.5,367.86 L25.0,367.84 L25.5,367.82 L26.0,367.80 L26.5,367.77 L27.0,367.74 L27.5,367.71 L28.0,367.68 L28.5,367.65 L29.0,367.62 L29.5,367.58 L30.0,367.55 L30.5,367.51 L31.0,367.47 L31.5,367.42 L32.0,367.38 L32.5,367.33 L33.0,367.29 L33.5,367.24 L34.0,367.19 L34.5,367.13 L35.0,367.08 L35.5,367.02 L36.0,366.96 L36.5,366.90 L37.0,366.84 L37.5,366.78 L38.0,366.72 L38.5,366.65 L39.0,366.58 L39.5,366.51 L40.0,366.44 L40.5,366.37 L41.0,366.30 L41.5,366.23 L42.0,366.15 L42.5,366.08 L43.0,366.00 L43.5,365.92 L44.0,365.85 L44.5,365.77 L45.0,365.69 L45.5,365.61 L46.0,365.53 L46.5,365.45 L47.0,365.38 L47.5,365.30 L48.0,365.22 L48.5,365.14 L49.0,365.07 L49.5,364.99 L50.0,364.92 L50.5,364.85 L51.0,364.78 L51.5,364.71 L52.0,364.64 L52.5,364.57 L53.0,364.51 L53.5,364.45 L54.0,364.39 L54.5,364.33 L55.0,364.28 L55.5,364.23 L56.0,364.18 L56.5,364.13 L57.0,364.09 L57.5,364.05 L58.0,364.02 L58.5,363.99 L59.0,363.96 L59.5,363.93 L60.0,363.91 L60.5,363.90 L61.0,363.89 L61.5,363.89 L62.0,363.90 L62.5,363.90 L63.0,363.91 L63.5,363.93 L64.0,363.94 L64.5,363.96 L65.0,363.99 L65.5,364.02 L66.0,364.05 L66.5,364.09 L67.0,364.13 L67.5,364.18 L68.0,364.23 L68.5,364.28 L69.0,364.33 L69.5,364.39 L70.0,364.46 L70.5,364.52 L71.0,364.59 L71.5,364.66 L72.0,364.74 L72.5,364.81 L73.0,364.89 L73.5,364.98 L74.0,365.06 L74.5,365.15 L75.0,365.24 L75.5,365.33 L76.0,365.42 L76.5,365.51 L77.0,365.61 L77.5,365.70 L78.0,365.80 L78.5,365.90 L79.0,366.00 L79.5,366.10 L80.0,366.20 L80.5,366.30 L81.0,366.40 L81.5,366.50 L82.0,366.60 L82.5,366.70 L83.0,366.80 L83.5,366.90 L84.0,366.99 L84.5,367.09 L85.0,367.19 L85.5,367.29 L86.0,367.38 L86.5,367.47 L87.0,367.57 L87.5,367.66 L88.0,367.75 L88.5,367.84 L89.0,367.92 L89.5,368.01 L90.0,368.09 L90.5,368.18 L91.0,368.26 L91.5,368.34 L92.0,368.41 L92.5,368.49 L93.0,368.56 L93.5,368.64 L94.0,368.71 L94.5,368.77 L95.0,368.84 L95.5,368.91 L96.0,368.97 L96.5,369.03 L97.0,369.09 L97.5,369.15 L98.0,369.21 L98.5,369.26 L99.0,369.31 L99.5,369.36 L100.0,369.41 L100.5,369.51 L101.0,369.60 L101.5,369.69 L102.0,369.78 L102.5,369.87 L103.0,369.96 L103.5,370.05 L104.0,370.13 L104.5,370.22 L105.0,370.30 L105.5,370.38 L106.0,370.46 L106.5,370.54 L107.0,370.62 L107.5,370.69 L108.0,370.77 L108.5,370.85 L109.0,370.92 L109.5,370.99 L110.0,371.07 L110.5,371.14 L111.0,371.21 L111.5,371.28 L112.0,371.35 L112.5,371.42 L113.0,371.49 L113.5,371.56 L114.0,371.63 L114.5,371.70 L115.0,371.76 L115.5,371.83 L116.0,371.90 L116.5,371.96 L117.0,372.03 L117.5,372.09 L118.0,372.16 L118.5,372.22 L119.0,372.29 L119.5,372.35 L120.0,372.41 L120.5,372.48 L121.0,372.54 L121.5,372.61 L122.0,372.67 L122.5,372.73 L123.0,372.79 L123.5,372.86 L124.0,372.92 L124.5,372.98 L125.0,373.04 L125.5,373.11 L126.0,373.17 L126.5,373.23 L127.0,373.29 L127.5,373.35 L128.0,373.42 L128.5,373.48 L129.0,373.54 L129.5,373.60 L130.0,373.66 L130.5,373.72 L131.0,373.79 L131.5,373.85 L132.0,373.91 L132.5,373.97 L133.0,374.03 L133.5,374.09 L134.0,374.15 L134.5,374.22 L135.0,374.28 L135.5,374.34 L136.0,374.40 L136.5,374.46 L137.0,374.52 L137.5,374.58 L138.0,374.64 L138.5,374.70 L139.0,374.77 L139.5,374.83 L140.0,374.89 L140.5,374.95 L141.0,375.01 L141.5,375.07 L142.0,375.13 L142.5,375.19 L143.0,375.26 L143.5,375.32 L144.0,375.38 L144.5,375.44 L145.0,375.50 L145.5,375.53 L146.0,375.55 L146.5,375.58 L147.0,375.60 L147.5,375.63 L148.0,375.66 L148.5,375.68 L149.0,375.71 L149.5,375.73 L150.0,375.76 L150.5,375.79 L151.0,375.81 L151.5,375.84 L152.0,375.86 L152.5,375.89 L153.0,375.92 L153.5,375.94 L154.0,375.97 L154.5,375.99 L155.0,376.02 L155.5,376.05 L156.0,376.07 L156.5,376.10 L157.0,376.12 L157.5,376.15 L158.0,376.18 L158.5,376.20 L159.0,376.23 L159.5,376.25 L160.0,376.28 L160.5,376.31 L161.0,376.33 L161.5,376.36 L162.0,376.38 L162.5,376.41 L163.0,376.44 L163.5,376.46 L164.0,376.49 L164.5,376.51 L165.0,376.54 L165.5,376.57 L166.0,376.59 L166.5,376.62 L167.0,376.64 L167.5,376.67 L168.0,376.70 L168.5,376.72 L169.0,376.75 L169.5,376.77 L170.0,376.80 L170.5,376.81 L171.0,376.81 L171.5,376.82 L172.0,376.83 L172.5,376.84 L173.0,376.84 L173.5,376.85 L174.0,376.86 L174.5,376.86 L175.0,376.87 L175.5,376.88 L176.0,376.89 L176.5,376.89 L177.0,376.90 L177.5,376.91 L178.0,376.91 L178.5,376.92 L179.0,376.93 L179.5,376.94 L180.0,376.94 L180.5,376.95 L181.0,376.96 L181.5,376.96 L182.0,376.97 L182.5,376.98 L183.0,376.99 L183.5,376.99 L184.0,377.00 L184.5,377.01 L185.0,377.01 L185.5,377.02 L186.0,377.03 L186.5,377.04 L187.0,377.04 L187.5,377.05 L188.0,377.06 L188.5,377.06 L189.0,377.07 L189.5,377.08 L190.0,377.09 L190.5,377.09 L191.0,377.10 L191.5,377.11 L192.0,377.11 L192.5,377.12 L193.0,377.13 L193.5,377.14 L194.0,377.14 L194.5,377.15 L195.0,377.16 L195.5,377.16 L196.0,377.17 L196.5,377.18 L197.0,377.19 L197.5,377.19" fill="none" stroke="#ff8000" stroke-width="1.1" stroke-linejoin="round" stroke-opacity="1.0"/>
<path d="M1.6,367.67 L2.1,367.68 L2.6,367.68 L3.1,367.68 L3.6,367.69 L4.1,367.69 L4.6,367.70 L5.1,367.70 L5.6,367.70 L6.1,367.71 L6.6,367.71 L7.1,367.71 L7.6,367.71 L8.1,367.72 L8.6,367.72 L9.1,367.72 L9.6,367.72 L10.1,367.72 L10.6,367.72 L11.1,367.72 L11.6,367.72 L12.1,367.72 L12.6,367.72 L13.1,367.71 L13.6,367.71 L14.1,367.71 L14.6,367.70 L15.1,367.70 L15.6,367.69 L16.1,367.69 L16.6,367.68 L17.1,367.67 L17.6,367.67 L18.1,367.66 L18.6,367.65 L19.1,367.64 L19.6,367.62 L20.1,367.61 L20.6,367.60 L21.1,367.58 L21.6,367.56 L22.1,367.55 L22.6,367.53 L23.1,367.51 L23.6,367.49 L24.1,367.46 L24.6,367.44 L25.1,367.41 L25.6,367.39 L26.1,367.36 L26.6,367.33 L27.1,367.29 L27.6,367.26 L28.1,367.22 L28.6,367.19 L29.1,367.15 L29.6,367.11 L30.1,367.07 L30.6,367.02 L31.1,366.98 L31.6,366.93 L32.1,366.88 L32.6,366.83 L33.1,366.77 L33.6,366.72 L34.1,366.66 L34.6,366.60 L35.1,366.54 L35.6,366.48 L36.1,366.41 L36.6,366.35 L37.1,366.28 L37.6,366.21 L38.1,366.14 L38.6,366.06 L39.1,365.99 L39.6,365.91 L40.1,365.83 L40.6,365.76 L41.1,365.68 L41.6,365.59 L42.1,365.51 L42.6,365.43 L43.1,365.34 L43.6,365.26 L44.1,365.17 L44.6,365.09 L45.1,365.00 L45.6,364.91 L46.1,364.83 L46.6,364.74 L47.1,364.65 L47.6,364.57 L48.1,364.48 L48.6,364.39 L49.1,364.31 L49.6,364.22 L50.1,364.14 L50.6,364.05 L51.1,363.97 L51.6,363.89 L52.1,363.81 L52.6,363.73 L53.1,363.65 L53.6,363.58 L54.1,363.50 L54.6,363.43 L55.1,363.36 L55.6,363.29 L56.1,363.22 L56.6,363.15 L57.1,363.08 L57.6,363.02 L58.1,362.95 L58.6,362.89 L59.1,362.82 L59.6,362.76 L60.1,362.70 L60.6,362.65 L61.1,362.59 L61.6,362.53 L62.1,362.47 L62.6,362.40 L63.1,362.33 L63.6,362.26 L64.1,362.18 L64.6,362.09 L65.1,362.00 L65.6,361.90 L66.1,361.79 L66.6,361.67 L67.1,361.54 L67.6,361.39 L68.1,361.24 L68.6,361.06 L69.1,360.87 L69.6,360.66 L70.1,360.44 L70.6,360.19 L71.1,359.92 L71.6,359.63 L72.1,359.31 L72.6,358.97 L73.1,358.60 L73.6,358.21 L74.1,357.79 L74.6,357.35 L75.1,356.87 L75.6,356.37 L76.1,355.84 L76.6,355.28 L77.1,354.70 L77.6,354.09 L78.1,353.46 L78.6,352.80 L79.1,352.13 L79.6,351.43 L80.1,350.72 L80.6,349.99 L81.1,349.25 L81.6,348.50 L82.1,347.75 L82.6,346.99 L83.1,346.24 L83.6,345.49 L84.1,344.75 L84.6,344.03 L85.1,343.32 L85.6,342.63 L86.1,341.97 L86.6,341.33 L87.1,340.72 L87.6,340.14 L88.1,339.60 L88.6,339.08 L89.1,338.60 L89.6,338.15 L90.1,337.72 L90.6,337.32 L91.1,336.93 L91.6,336.57 L92.1,336.22 L92.6,335.87 L93.1,335.54 L93.6,335.21 L94.1,334.89 L94.6,334.58 L95.1,334.27 L95.6,333.96 L96.1,333.64 L96.6,333.32 L97.1,332.98 L97.6,332.62 L98.1,332.22 L98.6,331.76 L99.1,331.24 L99.6,330.65 L100.1,330.01 L100.6,329.28 L101.1,328.44 L101.6,327.50 L102.1,326.46 L102.6,325.32 L103.1,324.10 L103.6,322.80 L104.1,321.44 L104.6,320.04 L105.1,318.62 L105.6,317.22 L106.1,315.85 L106.6,314.53 L107.1,313.29 L107.6,312.16 L108.1,311.14 L108.6,310.24 L109.1,309.46 L109.6,308.81 L110.1,308.27 L110.6,307.83 L111.1,307.51 L111.6,307.28 L112.1,307.18 L112.6,307.19 L113.1,307.34 L113.6,307.64 L114.1,308.09 L114.6,308.71 L115.1,309.46 L115.6,310.35 L116.1,311.34 L116.6,312.39 L117.1,313.47 L117.6,314.56 L118.1,315.61 L118.6,316.61 L119.1,317.55 L119.6,318.41 L120.1,319.18 L120.6,319.86 L121.1,320.42 L121.6,320.83 L122.1,321.06 L122.6,321.06 L123.1,320.77 L123.6,320.15 L124.1,319.14 L124.6,317.71 L125.1,315.84 L125.6,313.52 L126.1,310.76 L126.6,307.58 L127.1,304.00 L127.6,300.08 L128.1,295.86 L128.6,291.38 L129.1,286.72 L129.6,281.93 L130.1,277.09 L130.6,272.25 L131.1,267.49 L131.6,262.88 L132.1,258.48 L132.6,254.38 L133.1,250.62 L133.6,247.27 L134.1,244.39 L134.6,242.02 L135.1,240.19 L135.6,238.95 L136.1,238.32 L136.6,238.30 L137.1,238.90 L137.6,240.12 L138.1,241.94 L138.6,244.35 L139.1,247.32 L139.6,250.82 L140.1,254.80 L140.6,259.22 L141.1,264.04 L141.6,269.19 L142.1,274.64 L142.6,280.32 L143.1,286.16 L143.6,292.10 L144.1,298.09 L144.6,304.04 L145.1,309.89 L145.6,315.59 L146.1,321.10 L146.6,326.38 L147.1,331.40 L147.6,336.12 L148.1,340.52 L148.6,344.60 L149.1,348.33 L149.6,351.72 L150.1,354.78 L150.6,357.51 L151.1,359.92 L151.6,362.04 L152.1,363.87 L152.6,365.45 L153.1,366.80 L153.6,367.93 L154.1,368.89 L154.6,369.69 L155.1,370.35 L155.6,370.91 L156.1,371.37 L156.6,371.77 L157.1,372.11 L157.6,372.42 L158.1,372.70 L158.6,372.96 L159.1,373.20 L159.6,373.45 L160.1,373.68 L160.6,373.91 L161.1,374.14 L161.6,374.35 L162.1,374.57 L162.6,374.77 L163.1,374.96 L163.6,375.14 L164.1,375.30 L164.6,375.45 L165.1,375.58 L165.6,375.70 L166.1,375.81 L166.6,375.90 L167.1,375.99 L167.6,376.06 L168.1,376.13 L168.6,376.18 L169.1,376.24 L169.6,376.28 L170.1,376.31 L170.6,376.33 L171.1,376.35 L171.6,376.37 L172.1,376.38 L172.6,376.39 L173.1,376.41 L173.6,376.42 L174.1,376.43 L174.6,376.45 L175.1,376.46 L175.6,376.47 L176.1,376.48 L176.6,376.49 L177.1,376.50 L177.6,376.51 L178.1,376.52 L178.6,376.53 L179.1,376.55 L179.6,376.56 L180.1,376.57 L180.6,376.58 L181.1,376.59 L181.6,376.60 L182.1,376.61 L182.6,376.62 L183.1,376.63 L183.6,376.64 L184.1,376.65 L184.6,376.65 L185.1,376.66 L185.6,376.67 L186.1,376.68 L186.6,376.69 L187.1,376.70 L187.6,376.71 L188.1,376.72 L188.6,376.73 L189.1,376.74 L189.6,376.75 L190.1,376.76 L190.6,376.77 L191.1,376.77 L191.6,376.78 L192.1,376.79 L192.6,376.80 L193.1,376.81 L193.6,376.82 L194.1,376.83 L194.6,376.84 L195.1,376.84 L195.6,376.85 L196.1,376.86 L196.6,376.87 L197.1,376.88" fill="none" stroke="#111" stroke-width="0.9" stroke-linejoin="round" stroke-opacity="1.0"/>
<path d="M2.0,367.87 L2.5,367.88 L3.0,367.88 L3.5,367.88 L4.0,367.89 L4.5,367.89 L5.0,367.90 L5.5,367.90 L6.0,367.90 L6.5,367.91 L7.0,367.91 L7.5,367.91 L8.0,367.91 L8.5,367.92 L9.0,367.92 L9.5,367.92 L10.0,367.92 L10.5,367.92 L11.0,367.92 L11.5,367.92 L12.0,367.92 L12.5,367.92 L13.0,367.92 L13.5,367.91 L14.0,367.91 L14.5,367.91 L15.0,367.90 L15.5,367.90 L16.0,367.89 L16.5,367.89 L17.0,367.88 L17.5,367.87 L18.0,367.87 L18.5,367.86 L19.0,367.85 L19.5,367.84 L20.0,367.82 L20.5,367.81 L21.0,367.80 L21.5,367.78 L22.0,367.76 L22.5,367.75 L23.0,367.73 L23.5,367.71 L24.0,367.69 L24.5,367.66 L25.0,367.64 L25.5,367.61 L26.0,367.59 L26.5,367.56 L27.0,367.53 L27.5,367.49 L28.0,367.46 L28.5,367.42 L29.0,367.39 L29.5,367.35 L30.0,367.31 L30.5,367.27 L31.0,367.22 L31.5,367.18 L32.0,367.13 L32.5,367.08 L33.0,367.03 L33.5,366.97 L34.0,366.92 L34.5,366.86 L35.0,366.80 L35.5,366.74 L36.0,366.68 L36.5,366.61 L37.0,366.55 L37.5,366.48 L38.0,366.41 L38.5,366.34 L39.0,366.26 L39.5,366.19 L40.0,366.11 L40.5,366.03 L41.0,365.96 L41.5,365.88 L42.0,365.79 L42.5,365.71 L43.0,365.63 L43.5,365.54 L44.0,365.46 L44.5,365.37 L45.0,365.29 L45.5,365.20 L46.0,365.11 L46.5,365.03 L47.0,364.94 L47.5,364.85 L48.0,364.77 L48.5,364.68 L49.0,364.59 L49.5,364.51 L50.0,364.42 L50.5,364.34 L51.0,364.25 L51.5,364.17 L52.0,364.09 L52.5,364.01 L53.0,363.93 L53.5,363.85 L54.0,363.78 L54.5,363.70 L55.0,363.63 L55.5,363.56 L56.0,363.49 L56.5,363.42 L57.0,363.35 L57.5,363.28 L58.0,363.22 L58.5,363.15 L59.0,363.09 L59.5,363.02 L60.0,362.96 L60.5,362.90 L61.0,362.85 L61.5,362.79 L62.0,362.73 L62.5,362.67 L63.0,362.60 L63.5,362.53 L64.0,362.46 L64.5,362.38 L65.0,362.29 L65.5,362.20 L66.0,362.10 L66.5,361.99 L67.0,361.87 L67.5,361.74 L68.0,361.59 L68.5,361.44 L69.0,361.26 L69.5,361.07 L70.0,360.86 L70.5,360.64 L71.0,360.39 L71.5,360.12 L72.0,359.83 L72.5,359.51 L73.0,359.17 L73.5,358.80 L74.0,358.41 L74.5,357.99 L75.0,357.55 L75.5,357.07 L76.0,356.57 L76.5,356.04 L77.0,355.48 L77.5,354.90 L78.0,354.29 L78.5,353.66 L79.0,353.00 L79.5,352.33 L80.0,351.63 L80.5,350.92 L81.0,350.19 L81.5,349.45 L82.0,348.70 L82.5,347.95 L83.0,347.19 L83.5,346.44 L84.0,345.69 L84.5,344.96 L85.0,344.23 L85.5,343.52 L86.0,342.84 L86.5,342.18 L87.0,341.55 L87.5,340.96 L88.0,340.40 L88.5,339.88 L89.0,339.41 L89.5,338.98 L90.0,338.59 L90.5,338.24 L91.0,337.94 L91.5,337.67 L92.0,337.45 L92.5,337.25 L93.0,337.07 L93.5,336.92 L94.0,336.77 L94.5,336.62 L95.0,336.46 L95.5,336.28 L96.0,336.07 L96.5,335.82 L97.0,335.52 L97.5,335.16 L98.0,334.73 L98.5,334.23 L99.0,333.64 L99.5,332.97 L100.0,332.20 L100.5,331.39 L101.0,330.48 L101.5,329.47 L102.0,328.38 L102.5,327.20 L103.0,325.94 L103.5,324.60 L104.0,323.21 L104.5,321.77 L105.0,320.29 L105.5,318.80 L106.0,317.30 L106.5,315.82 L107.0,314.36 L107.5,312.96 L108.0,311.63 L108.5,310.39 L109.0,309.25 L109.5,308.24 L110.0,307.37 L110.5,306.65 L111.0,306.09 L111.5,305.71 L112.0,305.51 L112.5,305.50 L113.0,305.68 L113.5,306.05 L114.0,306.59 L114.5,307.32 L115.0,308.20 L115.5,309.23 L116.0,310.39 L116.5,311.66 L117.0,313.01 L117.5,314.41 L118.0,315.84 L118.5,317.26 L119.0,318.64 L119.5,319.94 L120.0,321.12 L120.5,322.15 L121.0,323.00 L121.5,323.62 L122.0,323.97 L122.5,324.04 L123.0,323.78 L123.5,323.18 L124.0,322.20 L124.5,320.84 L125.0,319.08 L125.5,316.91 L126.0,314.35 L126.5,311.40 L127.0,308.07 L127.5,304.39 L128.0,300.40 L128.5,296.12 L129.0,291.62 L129.5,286.94 L130.0,282.15 L130.5,277.29 L131.0,272.45 L131.5,267.69 L132.0,263.08 L132.5,258.68 L133.0,254.58 L133.5,250.82 L134.0,247.47 L134.5,244.59 L135.0,242.22 L135.5,240.39 L136.0,239.15 L136.5,238.52 L137.0,238.50 L137.5,239.10 L138.0,240.32 L138.5,242.14 L139.0,244.55 L139.5,247.52 L140.0,251.02 L140.5,255.00 L141.0,259.42 L141.5,264.24 L142.0,269.40 L142.5,274.84 L143.0,280.52 L143.5,286.36 L144.0,292.31 L144.5,298.30 L145.0,304.26 L145.5,310.11 L146.0,315.82 L146.5,321.35 L147.0,326.65 L147.5,331.69 L148.0,336.44 L148.5,340.89 L149.0,345.01 L149.5,348.80 L150.0,352.26 L150.5,355.40 L151.0,358.22 L151.5,360.74 L152.0,362.97 L152.5,364.93 L153.0,366.65 L153.5,368.14 L154.0,369.42 L154.5,370.51 L155.0,371.45 L155.5,372.23 L156.0,372.90 L156.5,373.45 L157.0,373.92 L157.5,374.30 L158.0,374.62 L158.5,374.88 L159.0,375.10 L159.5,375.28 L160.0,375.44 L160.5,375.56 L161.0,375.67 L161.5,375.76 L162.0,375.84 L162.5,375.91 L163.0,375.97 L163.5,376.02 L164.0,376.07 L164.5,376.12 L165.0,376.16 L165.5,376.20 L166.0,376.24 L166.5,376.28 L167.0,376.32 L167.5,376.35 L168.0,376.39 L168.5,376.42 L169.0,376.45 L169.5,376.49 L170.0,376.52 L170.5,376.53 L171.0,376.55 L171.5,376.56 L172.0,376.57 L172.5,376.59 L173.0,376.60 L173.5,376.61 L174.0,376.62 L174.5,376.63 L175.0,376.65 L175.5,376.66 L176.0,376.67 L176.5,376.68 L177.0,376.69 L177.5,376.70 L178.0,376.71 L178.5,376.72 L179.0,376.73 L179.5,376.75 L180.0,376.76 L180.5,376.77 L181.0,376.78 L181.5,376.79 L182.0,376.80 L182.5,376.81 L183.0,376.82 L183.5,376.83 L184.0,376.84 L184.5,376.85 L185.0,376.85 L185.5,376.86 L186.0,376.87 L186.5,376.88 L187.0,376.89 L187.5,376.90 L188.0,376.91 L188.5,376.92 L189.0,376.93 L189.5,376.94 L190.0,376.95 L190.5,376.96 L191.0,376.97 L191.5,376.97 L192.0,376.98 L192.5,376.99 L193.0,377.00 L193.5,377.01 L194.0,377.02 L194.5,377.03 L195.0,377.04 L195.5,377.04 L196.0,377.05 L196.5,377.06 L197.0,377.07 L197.5,377.08" fill="none" stroke="#ff0000" stroke-width="1.15" stroke-linejoin="round" stroke-opacity="1.0"/>
<path d="M1.6,367.67 L2.1,367.68 L2.6,367.68 L3.1,367.68 L3.6,367.69 L4.1,367.69 L4.6,367.70 L5.1,367.70 L5.6,367.70 L6.1,367.71 L6.6,367.71 L7.1,367.71 L7.6,367.71 L8.1,367.72 L8.6,367.72 L9.1,367.72 L9.6,367.72 L10.1,367.72 L10.6,367.72 L11.1,367.72 L11.6,367.72 L12.1,367.72 L12.6,367.72 L13.1,367.71 L13.6,367.71 L14.1,367.71 L14.6,367.70 L15.1,367.70 L15.6,367.69 L16.1,367.69 L16.6,367.68 L17.1,367.67 L17.6,367.67 L18.1,367.66 L18.6,367.65 L19.1,367.64 L19.6,367.62 L20.1,367.61 L20.6,367.60 L21.1,367.58 L21.6,367.56 L22.1,367.55 L22.6,367.53 L23.1,367.51 L23.6,367.49 L24.1,367.46 L24.6,367.44 L25.1,367.41 L25.6,367.39 L26.1,367.36 L26.6,367.33 L27.1,367.29 L27.6,367.26 L28.1,367.22 L28.6,367.19 L29.1,367.15 L29.6,367.11 L30.1,367.07 L30.6,367.02 L31.1,366.98 L31.6,366.93 L32.1,366.88 L32.6,366.83 L33.1,366.77 L33.6,366.72 L34.1,366.66 L34.6,366.60 L35.1,366.54 L35.6,366.48 L36.1,366.41 L36.6,366.35 L37.1,366.28 L37.6,366.21 L38.1,366.14 L38.6,366.06 L39.1,365.99 L39.6,365.91 L40.1,365.83 L40.6,365.76 L41.1,365.68 L41.6,365.59 L42.1,365.51 L42.6,365.43 L43.1,365.34 L43.6,365.26 L44.1,365.17 L44.6,365.09 L45.1,365.00 L45.6,364.91 L46.1,364.83 L46.6,364.74 L47.1,364.65 L47.6,364.57 L48.1,364.48 L48.6,364.39 L49.1,364.31 L49.6,364.22 L50.1,364.14 L50.6,364.05 L51.1,363.97 L51.6,363.89 L52.1,363.81 L52.6,363.73 L53.1,363.65 L53.6,363.58 L54.1,363.50 L54.6,363.43 L55.1,363.36 L55.6,363.29 L56.1,363.22 L56.6,363.15 L57.1,363.08 L57.6,363.02 L58.1,362.95 L58.6,362.89 L59.1,362.82 L59.6,362.76 L60.1,362.70 L60.6,362.65 L61.1,362.59 L61.6,362.53 L62.1,362.47 L62.6,362.40 L63.1,362.33 L63.6,362.26 L64.1,362.18 L64.6,362.09 L65.1,362.00 L65.6,361.90 L66.1,361.79 L66.6,361.67 L67.1,361.54 L67.6,361.39 L68.1,361.24 L68.6,361.06 L69.1,360.87 L69.6,360.66 L70.1,360.44 L70.6,360.19 L71.1,359.92 L71.6,359.63 L72.1,359.31 L72.6,358.97 L73.1,358.60 L73.6,358.21 L74.1,357.79 L74.6,357.35 L75.1,356.87 L75.6,356.37 L76.1,355.84 L76.6,355.28 L77.1,354.70 L77.6,354.09 L78.1,353.46 L78.6,352.80 L79.1,352.13 L79.6,351.43 L80.1,350.72 L80.6,349.99 L81.1,349.25 L81.6,348.50 L82.1,347.75 L82.6,346.99 L83.1,346.24 L83.6,345.49 L84.1,344.75 L84.6,344.03 L85.1,343.32 L85.6,342.63 L86.1,341.97 L86.6,341.33 L87.1,340.72 L87.6,340.14 L88.1,339.60 L88.6,339.08 L89.1,338.60 L89.6,338.15 L90.1,337.72 L90.6,337.32 L91.1,336.93 L91.6,336.57 L92.1,336.22 L92.6,335.87 L93.1,335.54 L93.6,335.21 L94.1,334.89 L94.6,334.58 L95.1,334.27 L95.6,333.96 L96.1,333.64 L96.6,333.32 L97.1,332.98 L97.6,332.62 L98.1,332.22 L98.6,331.76 L99.1,331.24 L99.6,330.65 L100.1,330.01 L100.6,329.28 L101.1,328.44 L101.6,327.50 L102.1,326.46 L102.6,325.32 L103.1,324.10 L103.6,322.80 L104.1,321.44 L104.6,320.04 L105.1,318.62 L105.6,317.22 L106.1,315.85 L106.6,314.53 L107.1,313.29 L107.6,312.16 L108.1,311.14 L108.6,310.24 L109.1,309.46 L109.6,308.81 L110.1,308.27 L110.6,307.83 L111.1,307.51 L111.6,307.28 L112.1,307.18 L112.6,307.19 L113.1,307.34 L113.6,307.64 L114.1,308.09 L114.6,308.71 L115.1,309.46 L115.6,310.35 L116.1,311.34 L116.6,312.39 L117.1,313.47 L117.6,314.56 L118.1,315.61 L118.6,316.61 L119.1,317.55 L119.6,318.41 L120.1,319.18 L120.6,319.86 L121.1,320.42 L121.6,320.83 L122.1,321.06 L122.6,321.06 L123.1,320.77 L123.6,320.15 L124.1,319.14 L124.6,317.71 L125.1,315.84 L125.6,313.52 L126.1,310.76 L126.6,307.58 L127.1,304.00 L127.6,300.08 L128.1,295.86 L128.6,291.38 L129.1,286.72 L129.6,281.93 L130.1,277.09 L130.6,272.25 L131.1,267.49 L131.6,262.88 L132.1,258.48 L132.6,254.38 L133.1,250.62 L133.6,247.27 L134.1,244.39 L134.6,242.02 L135.1,240.19 L135.6,238.95 L136.1,238.32 L136.6,238.30 L137.1,238.90 L137.6,240.12 L138.1,241.94 L138.6,244.35 L139.1,247.32 L139.6,250.82 L140.1,254.80 L140.6,259.22 L141.1,264.04 L141.6,269.19 L142.1,274.64 L142.6,280.32 L143.1,286.16 L143.6,292.10 L144.1,298.09 L144.6,304.04 L145.1,309.89 L145.6,315.59 L146.1,321.10 L146.6,326.38 L147.1,331.40 L147.6,336.12 L148.1,340.52 L148.6,344.60 L149.1,348.33 L149.6,351.72 L150.1,354.78 L150.6,357.51 L151.1,359.92 L151.6,362.04 L152.1,363.87 L152.6,365.45 L153.1,366.80 L153.6,367.93 L154.1,368.89 L154.6,369.69 L155.1,370.35 L155.6,370.91 L156.1,371.37 L156.6,371.77 L157.1,372.11 L157.6,372.42 L158.1,372.70 L158.6,372.96 L159.1,373.20 L159.6,373.45 L160.1,373.68 L160.6,373.91 L161.1,374.14 L161.6,374.35 L162.1,374.57 L162.6,374.77 L163.1,374.96 L163.6,375.14 L164.1,375.30 L164.6,375.45 L165.1,375.58 L165.6,375.70 L166.1,375.81 L166.6,375.90 L167.1,375.99 L167.6,376.06 L168.1,376.13 L168.6,376.18 L169.1,376.24 L169.6,376.28 L170.1,376.31 L170.6,376.33 L171.1,376.35 L171.6,376.37 L172.1,376.38 L172.6,376.39 L173.1,376.41 L173.6,376.42 L174.1,376.43 L174.6,376.45 L175.1,376.46 L175.6,376.47 L176.1,376.48 L176.6,376.49 L177.1,376.50 L177.6,376.51 L178.1,376.52 L178.6,376.53 L179.1,376.55 L179.6,376.56 L180.1,376.57 L180.6,376.58 L181.1,376.59 L181.6,376.60 L182.1,376.61 L182.6,376.62 L183.1,376.63 L183.6,376.64 L184.1,376.65 L184.6,376.65 L185.1,376.66 L185.6,376.67 L186.1,376.68 L186.6,376.69 L187.1,376.70 L187.6,376.71 L188.1,376.72 L188.6,376.73 L189.1,376.74 L189.6,376.75 L190.1,376.76 L190.6,376.77 L191.1,376.77 L191.6,376.78 L192.1,376.79 L192.6,376.80 L193.1,376.81 L193.6,376.82 L194.1,376.83 L194.6,376.84 L195.1,376.84 L195.6,376.85 L196.1,376.86 L196.6,376.87 L197.1,376.88" fill="none" stroke="#000" stroke-width="0.75" stroke-dasharray="1.6 2.4" stroke-opacity="0.55"/>
<line x1="5.20" y1="228.10" x2="21.20" y2="228.10" stroke="#222" stroke-width="1.0"/>
<line x1="5.20" y1="237.60" x2="21.20" y2="237.60" stroke="#ff2020" stroke-width="1.9"/>
<text x="23.20" y="230.90" font-size="7.5" textLength="56.10" lengthAdjust="spacingAndGlyphs" fill="#111" stroke="#111" stroke-width="0.14">Experimental data</text>
<text x="23.20" y="240.40" font-size="7.5" textLength="21.60" lengthAdjust="spacingAndGlyphs" fill="#111" stroke="#111" stroke-width="0.14">Best fit</text>
<text x="155.90" y="244.80" font-size="7.5" textLength="12.70" lengthAdjust="spacingAndGlyphs" fill="#111" stroke="#111" stroke-width="0.14">C-C</text>
<line x1="136.40" y1="263.30" x2="150.50" y2="248.77" stroke="#111" stroke-width="0.75"/>
<path d="M152.80,246.40 L151.23,250.17 L149.08,248.08 Z" fill="#111"/>
<text x="85.20" y="291.10" font-size="7.5" textLength="12.40" lengthAdjust="spacingAndGlyphs" fill="#111" stroke="#111" stroke-width="0.14">C-O</text>
<line x1="111.40" y1="318.40" x2="99.46" y2="299.49" stroke="#111" stroke-width="0.75"/>
<path d="M97.70,296.70 L101.00,299.11 L98.46,300.71 Z" fill="#111"/>
<text x="68.90" y="327.80" font-size="7.5" textLength="14.40" lengthAdjust="spacingAndGlyphs" fill="#111" stroke="#111" stroke-width="0.14">C=O</text>
<line x1="94.40" y1="348.80" x2="82.88" y2="336.69" stroke="#111" stroke-width="0.75"/>
<path d="M80.60,334.30 L84.31,336.02 L82.13,338.09 Z" fill="#111"/>
<text x="40.60" y="345.80" font-size="7.5" textLength="22.30" lengthAdjust="spacingAndGlyphs" fill="#111" stroke="#111" stroke-width="0.14">O-C=O</text>
<line x1="67.00" y1="367.30" x2="58.13" y2="354.04" stroke="#111" stroke-width="0.75"/>
<path d="M56.30,351.30 L59.66,353.62 L57.17,355.29 Z" fill="#111"/>
<text x="168.50" y="345.30" font-size="7.5" textLength="14.00" lengthAdjust="spacingAndGlyphs" fill="#111" stroke="#111" stroke-width="0.14">C=C</text>
<line x1="139.40" y1="363.90" x2="159.28" y2="350.27" stroke="#111" stroke-width="0.75"/>
<path d="M162.00,348.40 L159.71,351.79 L158.02,349.31 Z" fill="#111"/>
<text x="190.20" y="222.20" font-size="12.4" text-anchor="middle" fill="#222" stroke="#222" stroke-width="0.05">(c)</text>
<line x1="261.70" y1="380.20" x2="458.80" y2="380.20" stroke="#333" stroke-width="1.0"/>
<line x1="262.00" y1="380.20" x2="262.00" y2="382.10" stroke="#333" stroke-width="0.9"/>
<line x1="275.10" y1="380.20" x2="275.10" y2="382.60" stroke="#333" stroke-width="0.9"/>
<line x1="288.20" y1="380.20" x2="288.20" y2="382.10" stroke="#333" stroke-width="0.9"/>
<line x1="301.30" y1="380.20" x2="301.30" y2="382.60" stroke="#333" stroke-width="0.9"/>
<line x1="314.40" y1="380.20" x2="314.40" y2="382.10" stroke="#333" stroke-width="0.9"/>
<line x1="327.50" y1="380.20" x2="327.50" y2="382.60" stroke="#333" stroke-width="0.9"/>
<line x1="340.60" y1="380.20" x2="340.60" y2="382.10" stroke="#333" stroke-width="0.9"/>
<line x1="353.70" y1="380.20" x2="353.70" y2="382.60" stroke="#333" stroke-width="0.9"/>
<line x1="366.80" y1="380.20" x2="366.80" y2="382.10" stroke="#333" stroke-width="0.9"/>
<line x1="379.90" y1="380.20" x2="379.90" y2="382.60" stroke="#333" stroke-width="0.9"/>
<line x1="393.00" y1="380.20" x2="393.00" y2="382.10" stroke="#333" stroke-width="0.9"/>
<line x1="406.10" y1="380.20" x2="406.10" y2="382.60" stroke="#333" stroke-width="0.9"/>
<line x1="419.20" y1="380.20" x2="419.20" y2="382.10" stroke="#333" stroke-width="0.9"/>
<line x1="432.30" y1="380.20" x2="432.30" y2="382.60" stroke="#333" stroke-width="0.9"/>
<line x1="445.40" y1="380.20" x2="445.40" y2="382.10" stroke="#333" stroke-width="0.9"/>
<line x1="458.50" y1="380.20" x2="458.50" y2="382.60" stroke="#333" stroke-width="0.9"/>
<text x="275.10" y="392.40" font-size="7.2" text-anchor="middle" textLength="10.40" lengthAdjust="spacingAndGlyphs" fill="#222" stroke="#222" stroke-width="0.14">294</text>
<text x="301.30" y="392.40" font-size="7.2" text-anchor="middle" textLength="10.40" lengthAdjust="spacingAndGlyphs" fill="#222" stroke="#222" stroke-width="0.14">292</text>
<text x="327.50" y="392.40" font-size="7.2" text-anchor="middle" textLength="10.40" lengthAdjust="spacingAndGlyphs" fill="#222" stroke="#222" stroke-width="0.14">290</text>
<text x="353.70" y="392.40" font-size="7.2" text-anchor="middle" textLength="10.40" lengthAdjust="spacingAndGlyphs" fill="#222" stroke="#222" stroke-width="0.14">288</text>
<text x="379.90" y="392.40" font-size="7.2" text-anchor="middle" textLength="10.40" lengthAdjust="spacingAndGlyphs" fill="#222" stroke="#222" stroke-width="0.14">286</text>
<text x="406.10" y="392.40" font-size="7.2" text-anchor="middle" textLength="10.40" lengthAdjust="spacingAndGlyphs" fill="#222" stroke="#222" stroke-width="0.14">284</text>
<text x="432.30" y="392.40" font-size="7.2" text-anchor="middle" textLength="10.40" lengthAdjust="spacingAndGlyphs" fill="#222" stroke="#222" stroke-width="0.14">282</text>
<text x="458.50" y="392.40" font-size="7.2" text-anchor="middle" textLength="10.40" lengthAdjust="spacingAndGlyphs" fill="#222" stroke="#222" stroke-width="0.14">280</text>
<text x="332.70" y="403.60" font-size="7.4" font-weight="bold" textLength="63.30" lengthAdjust="spacingAndGlyphs" fill="#111" stroke="#111" stroke-width="0.14">Binding energy (eV)</text>
<path d="M262.0,369.70 L262.5,369.70 L263.0,369.70 L263.5,369.70 L264.0,369.70 L264.5,369.70 L265.0,369.69 L265.5,369.69 L266.0,369.69 L266.5,369.69 L267.0,369.69 L267.5,369.69 L268.0,369.69 L268.5,369.69 L269.0,369.69 L269.5,369.69 L270.0,369.69 L270.5,369.69 L271.0,369.68 L271.5,369.68 L272.0,369.68 L272.5,369.68 L273.0,369.68 L273.5,369.68 L274.0,369.68 L274.5,369.68 L275.0,369.68 L275.5,369.68 L276.0,369.68 L276.5,369.68 L277.0,369.67 L277.5,369.67 L278.0,369.67 L278.5,369.67 L279.0,369.67 L279.5,369.67 L280.0,369.67 L280.5,369.67 L281.0,369.67 L281.5,369.67 L282.0,369.67 L282.5,369.66 L283.0,369.66 L283.5,369.66 L284.0,369.66 L284.5,369.66 L285.0,369.66 L285.5,369.66 L286.0,369.66 L286.5,369.66 L287.0,369.66 L287.5,369.66 L288.0,369.66 L288.5,369.65 L289.0,369.65 L289.5,369.65 L290.0,369.65 L290.5,369.65 L291.0,369.65 L291.5,369.65 L292.0,369.65 L292.5,369.65 L293.0,369.65 L293.5,369.65 L294.0,369.64 L294.5,369.64 L295.0,369.64 L295.5,369.64 L296.0,369.64 L296.5,369.64 L297.0,369.64 L297.5,369.64 L298.0,369.64 L298.5,369.64 L299.0,369.64 L299.5,369.64 L300.0,369.63 L300.5,369.63 L301.0,369.63 L301.5,369.63 L302.0,369.63 L302.5,369.63 L303.0,369.63 L303.5,369.63 L304.0,369.63 L304.5,369.63 L305.0,369.63 L305.5,369.62 L306.0,369.62 L306.5,369.62 L307.0,369.62 L307.5,369.62 L308.0,369.62 L308.5,369.62 L309.0,369.62 L309.5,369.62 L310.0,369.62 L310.5,369.62 L311.0,369.62 L311.5,369.61 L312.0,369.61 L312.5,369.61 L313.0,369.61 L313.5,369.61 L314.0,369.61 L314.5,369.61 L315.0,369.61 L315.5,369.61 L316.0,369.61 L316.5,369.61 L317.0,369.61 L317.5,369.60 L318.0,369.60 L318.5,369.60 L319.0,369.60 L319.5,369.60 L320.0,369.60 L320.5,369.61 L321.0,369.62 L321.5,369.64 L322.0,369.65 L322.5,369.66 L323.0,369.67 L323.5,369.68 L324.0,369.69 L324.5,369.71 L325.0,369.72 L325.5,369.73 L326.0,369.74 L326.5,369.75 L327.0,369.76 L327.5,369.78 L328.0,369.79 L328.5,369.80 L329.0,369.81 L329.5,369.82 L330.0,369.83 L330.5,369.85 L331.0,369.86 L331.5,369.87 L332.0,369.88 L332.5,369.89 L333.0,369.90 L333.5,369.92 L334.0,369.93 L334.5,369.94 L335.0,369.95 L335.5,369.96 L336.0,369.97 L336.5,369.99 L337.0,370.00 L337.5,370.01 L338.0,370.02 L338.5,370.03 L339.0,370.04 L339.5,370.06 L340.0,370.07 L340.5,370.08 L341.0,370.09 L341.5,370.10 L342.0,370.11 L342.5,370.12 L343.0,370.14 L343.5,370.15 L344.0,370.16 L344.5,370.17 L345.0,370.18 L345.5,370.19 L346.0,370.21 L346.5,370.22 L347.0,370.23 L347.5,370.24 L348.0,370.25 L348.5,370.26 L349.0,370.28 L349.5,370.29 L350.0,370.30 L350.5,370.33 L351.0,370.36 L351.5,370.38 L352.0,370.41 L352.5,370.44 L353.0,370.47 L353.5,370.50 L354.0,370.52 L354.5,370.55 L355.0,370.58 L355.5,370.61 L356.0,370.64 L356.5,370.66 L357.0,370.69 L357.5,370.72 L358.0,370.75 L358.5,370.78 L359.0,370.80 L359.5,370.83 L360.0,370.86 L360.5,370.89 L361.0,370.92 L361.5,370.94 L362.0,370.97 L362.5,371.00 L363.0,371.03 L363.5,371.06 L364.0,371.08 L364.5,371.11 L365.0,371.14 L365.5,371.17 L366.0,371.20 L366.5,371.22 L367.0,371.25 L367.5,371.28 L368.0,371.31 L368.5,371.34 L369.0,371.36 L369.5,371.39 L370.0,371.42 L370.5,371.45 L371.0,371.48 L371.5,371.50 L372.0,371.53 L372.5,371.56 L373.0,371.59 L373.5,371.61 L374.0,371.64 L374.5,371.67 L375.0,371.70 L375.5,371.77 L376.0,371.83 L376.5,371.90 L377.0,371.97 L377.5,372.04 L378.0,372.11 L378.5,372.17 L379.0,372.24 L379.5,372.30 L380.0,372.36 L380.5,372.42 L381.0,372.48 L381.5,372.54 L382.0,372.60 L382.5,372.65 L383.0,372.70 L383.5,372.74 L384.0,372.78 L384.5,372.82 L385.0,372.85 L385.5,372.88 L386.0,372.89 L386.5,372.90 L387.0,372.91 L387.5,372.90 L388.0,372.88 L388.5,372.86 L389.0,372.82 L389.5,372.78 L390.0,372.72 L390.5,372.65 L391.0,372.56 L391.5,372.47 L392.0,372.36 L392.5,372.24 L393.0,372.11 L393.5,371.97 L394.0,371.82 L394.5,371.66 L395.0,371.49 L395.5,371.29 L396.0,371.09 L396.5,370.88 L397.0,370.67 L397.5,370.47 L398.0,370.27 L398.5,370.08 L399.0,369.90 L399.5,369.74 L400.0,369.59 L400.5,369.45 L401.0,369.34 L401.5,369.25 L402.0,369.18 L402.5,369.13 L403.0,369.12 L403.5,369.13 L404.0,369.16 L404.5,369.23 L405.0,369.32 L405.5,369.43 L406.0,369.57 L406.5,369.74 L407.0,369.93 L407.5,370.14 L408.0,370.36 L408.5,370.61 L409.0,370.86 L409.5,371.13 L410.0,371.40 L410.5,371.69 L411.0,371.97 L411.5,372.26 L412.0,372.54 L412.5,372.83 L413.0,373.10 L413.5,373.38 L414.0,373.64 L414.5,373.89 L415.0,374.14 L415.5,374.37 L416.0,374.59 L416.5,374.80 L417.0,374.99 L417.5,375.18 L418.0,375.35 L418.5,375.51 L419.0,375.66 L419.5,375.80 L420.0,375.93 L420.5,376.05 L421.0,376.16 L421.5,376.26 L422.0,376.35 L422.5,376.44 L423.0,376.52 L423.5,376.60 L424.0,376.67 L424.5,376.73 L425.0,376.79 L425.5,376.82 L426.0,376.85 L426.5,376.87 L427.0,376.89 L427.5,376.91 L428.0,376.92 L428.5,376.94 L429.0,376.95 L429.5,376.96 L430.0,376.98 L430.5,376.99 L431.0,377.00 L431.5,377.01 L432.0,377.02 L432.5,377.03 L433.0,377.04 L433.5,377.05 L434.0,377.06 L434.5,377.07 L435.0,377.08 L435.5,377.08 L436.0,377.09 L436.5,377.10 L437.0,377.11 L437.5,377.12 L438.0,377.13 L438.5,377.14 L439.0,377.15 L439.5,377.16 L440.0,377.16 L440.5,377.17 L441.0,377.18 L441.5,377.19 L442.0,377.20 L442.5,377.21 L443.0,377.22 L443.5,377.23 L444.0,377.24 L444.5,377.24 L445.0,377.25 L445.5,377.26 L446.0,377.27 L446.5,377.28 L447.0,377.29 L447.5,377.30 L448.0,377.31 L448.5,377.31 L449.0,377.32 L449.5,377.33 L450.0,377.34 L450.5,377.35 L451.0,377.36 L451.5,377.37 L452.0,377.38 L452.5,377.39 L453.0,377.39 L453.5,377.40 L454.0,377.41 L454.5,377.42 L455.0,377.43 L455.5,377.44 L456.0,377.45 L456.5,377.46 L457.0,377.46 L457.5,377.47 L458.0,377.48 L458.5,377.49" fill="none" stroke="#00ee00" stroke-width="1.1" stroke-linejoin="round" stroke-opacity="1.0"/>
<path d="M262.0,369.59 L262.5,369.58 L263.0,369.58 L263.5,369.58 L264.0,369.58 L264.5,369.57 L265.0,369.57 L265.5,369.57 L266.0,369.56 L266.5,369.56 L267.0,369.56 L267.5,369.56 L268.0,369.55 L268.5,369.55 L269.0,369.55 L269.5,369.55 L270.0,369.54 L270.5,369.54 L271.0,369.54 L271.5,369.53 L272.0,369.53 L272.5,369.53 L273.0,369.52 L273.5,369.52 L274.0,369.52 L274.5,369.51 L275.0,369.51 L275.5,369.51 L276.0,369.50 L276.5,369.50 L277.0,369.50 L277.5,369.49 L278.0,369.49 L278.5,369.48 L279.0,369.48 L279.5,369.48 L280.0,369.47 L280.5,369.47 L281.0,369.46 L281.5,369.46 L282.0,369.45 L282.5,369.45 L283.0,369.44 L283.5,369.44 L284.0,369.43 L284.5,369.43 L285.0,369.42 L285.5,369.42 L286.0,369.41 L286.5,369.41 L287.0,369.40 L287.5,369.39 L288.0,369.39 L288.5,369.38 L289.0,369.38 L289.5,369.37 L290.0,369.36 L290.5,369.36 L291.0,369.35 L291.5,369.34 L292.0,369.33 L292.5,369.33 L293.0,369.32 L293.5,369.31 L294.0,369.30 L294.5,369.29 L295.0,369.28 L295.5,369.27 L296.0,369.26 L296.5,369.25 L297.0,369.24 L297.5,369.23 L298.0,369.22 L298.5,369.21 L299.0,369.20 L299.5,369.19 L300.0,369.18 L300.5,369.16 L301.0,369.15 L301.5,369.13 L302.0,369.12 L302.5,369.10 L303.0,369.09 L303.5,369.07 L304.0,369.05 L304.5,369.03 L305.0,369.02 L305.5,368.99 L306.0,368.97 L306.5,368.95 L307.0,368.93 L307.5,368.90 L308.0,368.87 L308.5,368.84 L309.0,368.81 L309.5,368.78 L310.0,368.74 L310.5,368.70 L311.0,368.66 L311.5,368.62 L312.0,368.57 L312.5,368.51 L313.0,368.46 L313.5,368.40 L314.0,368.33 L314.5,368.26 L315.0,368.18 L315.5,368.10 L316.0,368.01 L316.5,367.91 L317.0,367.80 L317.5,367.69 L318.0,367.56 L318.5,367.43 L319.0,367.29 L319.5,367.13 L320.0,366.97 L320.5,366.81 L321.0,366.63 L321.5,366.45 L322.0,366.25 L322.5,366.04 L323.0,365.82 L323.5,365.58 L324.0,365.34 L324.5,365.08 L325.0,364.81 L325.5,364.52 L326.0,364.23 L326.5,363.93 L327.0,363.62 L327.5,363.30 L328.0,362.98 L328.5,362.65 L329.0,362.32 L329.5,361.99 L330.0,361.66 L330.5,361.34 L331.0,361.03 L331.5,360.73 L332.0,360.45 L332.5,360.19 L333.0,359.96 L333.5,359.75 L334.0,359.58 L334.5,359.45 L335.0,359.35 L335.5,359.30 L336.0,359.29 L336.5,359.33 L337.0,359.41 L337.5,359.53 L338.0,359.69 L338.5,359.89 L339.0,360.12 L339.5,360.38 L340.0,360.67 L340.5,360.98 L341.0,361.30 L341.5,361.64 L342.0,361.98 L342.5,362.33 L343.0,362.69 L343.5,363.04 L344.0,363.39 L344.5,363.74 L345.0,364.08 L345.5,364.41 L346.0,364.74 L346.5,365.05 L347.0,365.35 L347.5,365.65 L348.0,365.93 L348.5,366.20 L349.0,366.45 L349.5,366.70 L350.0,366.93 L350.5,367.17 L351.0,367.39 L351.5,367.60 L352.0,367.80 L352.5,367.99 L353.0,368.17 L353.5,368.34 L354.0,368.50 L354.5,368.65 L355.0,368.79 L355.5,368.92 L356.0,369.05 L356.5,369.16 L357.0,369.27 L357.5,369.38 L358.0,369.48 L358.5,369.57 L359.0,369.66 L359.5,369.74 L360.0,369.82 L360.5,369.89 L361.0,369.97 L361.5,370.03 L362.0,370.10 L362.5,370.16 L363.0,370.22 L363.5,370.28 L364.0,370.34 L364.5,370.39 L365.0,370.45 L365.5,370.50 L366.0,370.55 L366.5,370.60 L367.0,370.64 L367.5,370.69 L368.0,370.74 L368.5,370.78 L369.0,370.82 L369.5,370.87 L370.0,370.91 L370.5,370.95 L371.0,370.99 L371.5,371.03 L372.0,371.07 L372.5,371.11 L373.0,371.15 L373.5,371.19 L374.0,371.23 L374.5,371.27 L375.0,371.31 L375.5,371.39 L376.0,371.46 L376.5,371.54 L377.0,371.62 L377.5,371.70 L378.0,371.78 L378.5,371.85 L379.0,371.93 L379.5,372.01 L380.0,372.09 L380.5,372.16 L381.0,372.24 L381.5,372.32 L382.0,372.39 L382.5,372.47 L383.0,372.54 L383.5,372.62 L384.0,372.69 L384.5,372.77 L385.0,372.84 L385.5,372.92 L386.0,372.99 L386.5,373.07 L387.0,373.14 L387.5,373.22 L388.0,373.29 L388.5,373.37 L389.0,373.44 L389.5,373.51 L390.0,373.59 L390.5,373.66 L391.0,373.74 L391.5,373.81 L392.0,373.88 L392.5,373.96 L393.0,374.03 L393.5,374.10 L394.0,374.18 L394.5,374.25 L395.0,374.32 L395.5,374.36 L396.0,374.41 L396.5,374.45 L397.0,374.49 L397.5,374.54 L398.0,374.58 L398.5,374.62 L399.0,374.66 L399.5,374.71 L400.0,374.75 L400.5,374.79 L401.0,374.83 L401.5,374.87 L402.0,374.92 L402.5,374.96 L403.0,375.00 L403.5,375.04 L404.0,375.08 L404.5,375.13 L405.0,375.17 L405.5,375.21 L406.0,375.25 L406.5,375.29 L407.0,375.34 L407.5,375.38 L408.0,375.42 L408.5,375.46 L409.0,375.50 L409.5,375.54 L410.0,375.59 L410.5,375.63 L411.0,375.67 L411.5,375.71 L412.0,375.75 L412.5,375.79 L413.0,375.83 L413.5,375.88 L414.0,375.92 L414.5,375.96 L415.0,376.00 L415.5,376.04 L416.0,376.08 L416.5,376.12 L417.0,376.16 L417.5,376.21 L418.0,376.25 L418.5,376.29 L419.0,376.33 L419.5,376.37 L420.0,376.41 L420.5,376.45 L421.0,376.49 L421.5,376.53 L422.0,376.57 L422.5,376.62 L423.0,376.66 L423.5,376.70 L424.0,376.74 L424.5,376.78 L425.0,376.82 L425.5,376.83 L426.0,376.84 L426.5,376.85 L427.0,376.86 L427.5,376.87 L428.0,376.88 L428.5,376.89 L429.0,376.90 L429.5,376.91 L430.0,376.92 L430.5,376.93 L431.0,376.94 L431.5,376.95 L432.0,376.95 L432.5,376.96 L433.0,376.97 L433.5,376.98 L434.0,376.99 L434.5,377.00 L435.0,377.01 L435.5,377.02 L436.0,377.03 L436.5,377.04 L437.0,377.05 L437.5,377.06 L438.0,377.07 L438.5,377.08 L439.0,377.09 L439.5,377.10 L440.0,377.11 L440.5,377.12 L441.0,377.12 L441.5,377.13 L442.0,377.14 L442.5,377.15 L443.0,377.16 L443.5,377.17 L444.0,377.18 L444.5,377.19 L445.0,377.20 L445.5,377.21 L446.0,377.22 L446.5,377.23 L447.0,377.24 L447.5,377.25 L448.0,377.26 L448.5,377.26 L449.0,377.27 L449.5,377.28 L450.0,377.29 L450.5,377.30 L451.0,377.31 L451.5,377.32 L452.0,377.33 L452.5,377.34 L453.0,377.35 L453.5,377.36 L454.0,377.37 L454.5,377.38 L455.0,377.38 L455.5,377.39 L456.0,377.40 L456.5,377.41 L457.0,377.42 L457.5,377.43 L458.0,377.44 L458.5,377.45" fill="none" stroke="#ff8000" stroke-width="1.1" stroke-linejoin="round" stroke-opacity="1.0"/>
<path d="M262.0,369.70 L262.5,369.70 L263.0,369.70 L263.5,369.70 L264.0,369.70 L264.5,369.70 L265.0,369.69 L265.5,369.69 L266.0,369.69 L266.5,369.69 L267.0,369.69 L267.5,369.69 L268.0,369.69 L268.5,369.69 L269.0,369.69 L269.5,369.69 L270.0,369.69 L270.5,369.69 L271.0,369.68 L271.5,369.68 L272.0,369.68 L272.5,369.68 L273.0,369.68 L273.5,369.68 L274.0,369.68 L274.5,369.68 L275.0,369.68 L275.5,369.68 L276.0,369.68 L276.5,369.68 L277.0,369.67 L277.5,369.67 L278.0,369.67 L278.5,369.67 L279.0,369.67 L279.5,369.67 L280.0,369.67 L280.5,369.67 L281.0,369.67 L281.5,369.67 L282.0,369.67 L282.5,369.66 L283.0,369.66 L283.5,369.66 L284.0,369.66 L284.5,369.66 L285.0,369.66 L285.5,369.66 L286.0,369.66 L286.5,369.66 L287.0,369.66 L287.5,369.66 L288.0,369.66 L288.5,369.65 L289.0,369.65 L289.5,369.65 L290.0,369.65 L290.5,369.65 L291.0,369.65 L291.5,369.65 L292.0,369.65 L292.5,369.65 L293.0,369.65 L293.5,369.65 L294.0,369.64 L294.5,369.64 L295.0,369.64 L295.5,369.64 L296.0,369.64 L296.5,369.64 L297.0,369.64 L297.5,369.64 L298.0,369.64 L298.5,369.64 L299.0,369.64 L299.5,369.64 L300.0,369.63 L300.5,369.63 L301.0,369.63 L301.5,369.63 L302.0,369.63 L302.5,369.63 L303.0,369.63 L303.5,369.63 L304.0,369.63 L304.5,369.63 L305.0,369.63 L305.5,369.62 L306.0,369.62 L306.5,369.62 L307.0,369.62 L307.5,369.62 L308.0,369.62 L308.5,369.62 L309.0,369.62 L309.5,369.62 L310.0,369.62 L310.5,369.62 L311.0,369.62 L311.5,369.61 L312.0,369.61 L312.5,369.61 L313.0,369.61 L313.5,369.61 L314.0,369.61 L314.5,369.61 L315.0,369.61 L315.5,369.61 L316.0,369.61 L316.5,369.61 L317.0,369.61 L317.5,369.60 L318.0,369.60 L318.5,369.60 L319.0,369.60 L319.5,369.60 L320.0,369.60 L320.5,369.61 L321.0,369.62 L321.5,369.63 L322.0,369.65 L322.5,369.66 L323.0,369.67 L323.5,369.68 L324.0,369.69 L324.5,369.70 L325.0,369.72 L325.5,369.73 L326.0,369.74 L326.5,369.75 L327.0,369.76 L327.5,369.77 L328.0,369.79 L328.5,369.80 L329.0,369.81 L329.5,369.82 L330.0,369.83 L330.5,369.84 L331.0,369.86 L331.5,369.87 L332.0,369.88 L332.5,369.89 L333.0,369.90 L333.5,369.91 L334.0,369.92 L334.5,369.93 L335.0,369.94 L335.5,369.95 L336.0,369.96 L336.5,369.97 L337.0,369.98 L337.5,369.98 L338.0,369.99 L338.5,369.99 L339.0,370.00 L339.5,370.00 L340.0,369.99 L340.5,369.99 L341.0,369.98 L341.5,369.97 L342.0,369.95 L342.5,369.92 L343.0,369.89 L343.5,369.84 L344.0,369.79 L344.5,369.73 L345.0,369.65 L345.5,369.56 L346.0,369.44 L346.5,369.31 L347.0,369.15 L347.5,368.97 L348.0,368.75 L348.5,368.50 L349.0,368.21 L349.5,367.87 L350.0,367.49 L350.5,367.07 L351.0,366.59 L351.5,366.05 L352.0,365.44 L352.5,364.75 L353.0,363.99 L353.5,363.13 L354.0,362.19 L354.5,361.14 L355.0,360.00 L355.5,358.74 L356.0,357.38 L356.5,355.91 L357.0,354.32 L357.5,352.61 L358.0,350.79 L358.5,348.85 L359.0,346.79 L359.5,344.63 L360.0,342.37 L360.5,340.00 L361.0,337.55 L361.5,335.02 L362.0,332.42 L362.5,329.78 L363.0,327.09 L363.5,324.38 L364.0,321.67 L364.5,318.97 L365.0,316.30 L365.5,313.69 L366.0,311.15 L366.5,308.71 L367.0,306.39 L367.5,304.20 L368.0,302.17 L368.5,300.32 L369.0,298.66 L369.5,297.21 L370.0,295.98 L370.5,294.99 L371.0,294.24 L371.5,293.75 L372.0,293.51 L372.5,293.54 L373.0,293.83 L373.5,294.38 L374.0,295.18 L374.5,296.23 L375.0,297.51 L375.5,299.06 L376.0,300.82 L376.5,302.77 L377.0,304.90 L377.5,307.19 L378.0,309.61 L378.5,312.15 L379.0,314.78 L379.5,317.49 L380.0,320.25 L380.5,323.05 L381.0,325.86 L381.5,328.67 L382.0,331.46 L382.5,334.20 L383.0,336.90 L383.5,339.52 L384.0,342.07 L384.5,344.54 L385.0,346.90 L385.5,349.16 L386.0,351.31 L386.5,353.35 L387.0,355.27 L387.5,357.08 L388.0,358.76 L388.5,360.34 L389.0,361.80 L389.5,363.15 L390.0,364.39 L390.5,365.53 L391.0,366.58 L391.5,367.53 L392.0,368.39 L392.5,369.18 L393.0,369.89 L393.5,370.53 L394.0,371.10 L394.5,371.62 L395.0,372.08 L395.5,372.47 L396.0,372.81 L396.5,373.12 L397.0,373.38 L397.5,373.62 L398.0,373.83 L398.5,374.02 L399.0,374.18 L399.5,374.33 L400.0,374.46 L400.5,374.57 L401.0,374.68 L401.5,374.77 L402.0,374.86 L402.5,374.93 L403.0,375.00 L403.5,375.07 L404.0,375.13 L404.5,375.19 L405.0,375.24 L405.5,375.29 L406.0,375.34 L406.5,375.39 L407.0,375.44 L407.5,375.48 L408.0,375.53 L408.5,375.57 L409.0,375.61 L409.5,375.65 L410.0,375.69 L410.5,375.74 L411.0,375.78 L411.5,375.82 L412.0,375.86 L412.5,375.90 L413.0,375.94 L413.5,375.98 L414.0,376.02 L414.5,376.06 L415.0,376.10 L415.5,376.14 L416.0,376.18 L416.5,376.22 L417.0,376.26 L417.5,376.30 L418.0,376.34 L418.5,376.38 L419.0,376.42 L419.5,376.46 L420.0,376.50 L420.5,376.54 L421.0,376.58 L421.5,376.62 L422.0,376.66 L422.5,376.70 L423.0,376.74 L423.5,376.78 L424.0,376.82 L424.5,376.86 L425.0,376.90 L425.5,376.91 L426.0,376.92 L426.5,376.93 L427.0,376.94 L427.5,376.94 L428.0,376.95 L428.5,376.96 L429.0,376.97 L429.5,376.98 L430.0,376.99 L430.5,377.00 L431.0,377.01 L431.5,377.01 L432.0,377.02 L432.5,377.03 L433.0,377.04 L433.5,377.05 L434.0,377.06 L434.5,377.07 L435.0,377.08 L435.5,377.09 L436.0,377.09 L436.5,377.10 L437.0,377.11 L437.5,377.12 L438.0,377.13 L438.5,377.14 L439.0,377.15 L439.5,377.16 L440.0,377.16 L440.5,377.17 L441.0,377.18 L441.5,377.19 L442.0,377.20 L442.5,377.21 L443.0,377.22 L443.5,377.23 L444.0,377.24 L444.5,377.24 L445.0,377.25 L445.5,377.26 L446.0,377.27 L446.5,377.28 L447.0,377.29 L447.5,377.30 L448.0,377.31 L448.5,377.31 L449.0,377.32 L449.5,377.33 L450.0,377.34 L450.5,377.35 L451.0,377.36 L451.5,377.37 L452.0,377.38 L452.5,377.39 L453.0,377.39 L453.5,377.40 L454.0,377.41 L454.5,377.42 L455.0,377.43 L455.5,377.44 L456.0,377.45 L456.5,377.46 L457.0,377.46 L457.5,377.47 L458.0,377.48 L458.5,377.49" fill="none" stroke="#750000" stroke-width="1.1" stroke-linejoin="round" stroke-opacity="1.0"/>
<path d="M262.0,369.63 L262.5,369.63 L263.0,369.63 L263.5,369.63 L264.0,369.63 L264.5,369.63 L265.0,369.62 L265.5,369.62 L266.0,369.62 L266.5,369.62 L267.0,369.62 L267.5,369.62 L268.0,369.62 L268.5,369.61 L269.0,369.61 L269.5,369.61 L270.0,369.61 L270.5,369.61 L271.0,369.61 L271.5,369.60 L272.0,369.60 L272.5,369.60 L273.0,369.60 L273.5,369.60 L274.0,369.60 L274.5,369.60 L275.0,369.59 L275.5,369.59 L276.0,369.59 L276.5,369.59 L277.0,369.59 L277.5,369.59 L278.0,369.58 L278.5,369.58 L279.0,369.58 L279.5,369.58 L280.0,369.58 L280.5,369.58 L281.0,369.57 L281.5,369.57 L282.0,369.57 L282.5,369.57 L283.0,369.57 L283.5,369.57 L284.0,369.56 L284.5,369.56 L285.0,369.56 L285.5,369.56 L286.0,369.56 L286.5,369.56 L287.0,369.55 L287.5,369.55 L288.0,369.55 L288.5,369.55 L289.0,369.55 L289.5,369.54 L290.0,369.54 L290.5,369.54 L291.0,369.54 L291.5,369.54 L292.0,369.53 L292.5,369.53 L293.0,369.53 L293.5,369.53 L294.0,369.53 L294.5,369.52 L295.0,369.52 L295.5,369.52 L296.0,369.52 L296.5,369.52 L297.0,369.51 L297.5,369.51 L298.0,369.51 L298.5,369.51 L299.0,369.51 L299.5,369.50 L300.0,369.50 L300.5,369.50 L301.0,369.50 L301.5,369.49 L302.0,369.49 L302.5,369.49 L303.0,369.49 L303.5,369.48 L304.0,369.48 L304.5,369.48 L305.0,369.48 L305.5,369.47 L306.0,369.47 L306.5,369.47 L307.0,369.47 L307.5,369.46 L308.0,369.46 L308.5,369.46 L309.0,369.46 L309.5,369.45 L310.0,369.45 L310.5,369.45 L311.0,369.44 L311.5,369.44 L312.0,369.44 L312.5,369.43 L313.0,369.43 L313.5,369.43 L314.0,369.43 L314.5,369.42 L315.0,369.42 L315.5,369.42 L316.0,369.41 L316.5,369.41 L317.0,369.41 L317.5,369.40 L318.0,369.40 L318.5,369.40 L319.0,369.39 L319.5,369.39 L320.0,369.38 L320.5,369.39 L321.0,369.40 L321.5,369.41 L322.0,369.42 L322.5,369.43 L323.0,369.44 L323.5,369.44 L324.0,369.45 L324.5,369.46 L325.0,369.47 L325.5,369.48 L326.0,369.48 L326.5,369.49 L327.0,369.50 L327.5,369.51 L328.0,369.52 L328.5,369.52 L329.0,369.53 L329.5,369.54 L330.0,369.55 L330.5,369.55 L331.0,369.56 L331.5,369.57 L332.0,369.57 L332.5,369.58 L333.0,369.59 L333.5,369.59 L334.0,369.60 L334.5,369.61 L335.0,369.61 L335.5,369.62 L336.0,369.62 L336.5,369.63 L337.0,369.63 L337.5,369.64 L338.0,369.65 L338.5,369.65 L339.0,369.65 L339.5,369.66 L340.0,369.66 L340.5,369.67 L341.0,369.67 L341.5,369.68 L342.0,369.68 L342.5,369.68 L343.0,369.69 L343.5,369.69 L344.0,369.69 L344.5,369.69 L345.0,369.70 L345.5,369.70 L346.0,369.70 L346.5,369.70 L347.0,369.70 L347.5,369.70 L348.0,369.70 L348.5,369.70 L349.0,369.70 L349.5,369.70 L350.0,369.70 L350.5,369.71 L351.0,369.73 L351.5,369.74 L352.0,369.75 L352.5,369.77 L353.0,369.78 L353.5,369.79 L354.0,369.80 L354.5,369.81 L355.0,369.82 L355.5,369.83 L356.0,369.84 L356.5,369.84 L357.0,369.85 L357.5,369.85 L358.0,369.86 L358.5,369.86 L359.0,369.87 L359.5,369.87 L360.0,369.87 L360.5,369.87 L361.0,369.86 L361.5,369.86 L362.0,369.85 L362.5,369.85 L363.0,369.84 L363.5,369.82 L364.0,369.81 L364.5,369.79 L365.0,369.77 L365.5,369.74 L366.0,369.71 L366.5,369.67 L367.0,369.62 L367.5,369.57 L368.0,369.50 L368.5,369.42 L369.0,369.32 L369.5,369.21 L370.0,369.07 L370.5,368.91 L371.0,368.71 L371.5,368.48 L372.0,368.20 L372.5,367.88 L373.0,367.49 L373.5,367.04 L374.0,366.50 L374.5,365.88 L375.0,365.15 L375.5,364.35 L376.0,363.42 L376.5,362.35 L377.0,361.11 L377.5,359.70 L378.0,358.10 L378.5,356.29 L379.0,354.25 L379.5,351.98 L380.0,349.46 L380.5,346.68 L381.0,343.63 L381.5,340.31 L382.0,336.72 L382.5,332.85 L383.0,328.72 L383.5,324.34 L384.0,319.72 L384.5,314.89 L385.0,309.87 L385.5,304.69 L386.0,299.40 L386.5,294.05 L387.0,288.67 L387.5,283.32 L388.0,278.07 L388.5,272.96 L389.0,268.08 L389.5,263.47 L390.0,259.22 L390.5,255.37 L391.0,252.01 L391.5,249.17 L392.0,246.93 L392.5,245.31 L393.0,244.35 L393.5,244.08 L394.0,244.49 L394.5,245.59 L395.0,247.35 L395.5,249.70 L396.0,252.65 L396.5,256.12 L397.0,260.08 L397.5,264.44 L398.0,269.16 L398.5,274.15 L399.0,279.37 L399.5,284.73 L400.0,290.19 L400.5,295.68 L401.0,301.14 L401.5,306.54 L402.0,311.83 L402.5,316.96 L403.0,321.90 L403.5,326.63 L404.0,331.12 L404.5,335.36 L405.0,339.34 L405.5,343.04 L406.0,346.47 L406.5,349.63 L407.0,352.52 L407.5,355.15 L408.0,357.53 L408.5,359.68 L409.0,361.60 L409.5,363.31 L410.0,364.83 L410.5,366.18 L411.0,367.36 L411.5,368.40 L412.0,369.31 L412.5,370.11 L413.0,370.80 L413.5,371.40 L414.0,371.92 L414.5,372.38 L415.0,372.77 L415.5,373.12 L416.0,373.42 L416.5,373.68 L417.0,373.91 L417.5,374.12 L418.0,374.30 L418.5,374.46 L419.0,374.61 L419.5,374.75 L420.0,374.87 L420.5,374.98 L421.0,375.09 L421.5,375.19 L422.0,375.29 L422.5,375.38 L423.0,375.46 L423.5,375.55 L424.0,375.63 L424.5,375.71 L425.0,375.78 L425.5,375.82 L426.0,375.87 L426.5,375.90 L427.0,375.94 L427.5,375.98 L428.0,376.01 L428.5,376.05 L429.0,376.08 L429.5,376.11 L430.0,376.15 L430.5,376.18 L431.0,376.21 L431.5,376.23 L432.0,376.26 L432.5,376.29 L433.0,376.32 L433.5,376.34 L434.0,376.37 L434.5,376.39 L435.0,376.42 L435.5,376.44 L436.0,376.46 L436.5,376.49 L437.0,376.51 L437.5,376.53 L438.0,376.55 L438.5,376.57 L439.0,376.60 L439.5,376.62 L440.0,376.64 L440.5,376.66 L441.0,376.67 L441.5,376.69 L442.0,376.71 L442.5,376.73 L443.0,376.75 L443.5,376.77 L444.0,376.78 L444.5,376.80 L445.0,376.82 L445.5,376.84 L446.0,376.85 L446.5,376.87 L447.0,376.89 L447.5,376.90 L448.0,376.92 L448.5,376.93 L449.0,376.95 L449.5,376.96 L450.0,376.98 L450.5,376.99 L451.0,377.01 L451.5,377.02 L452.0,377.04 L452.5,377.05 L453.0,377.07 L453.5,377.08 L454.0,377.10 L454.5,377.11 L455.0,377.12 L455.5,377.14 L456.0,377.15 L456.5,377.16 L457.0,377.18 L457.5,377.19 L458.0,377.20 L458.5,377.22" fill="none" stroke="#007000" stroke-width="1.1" stroke-linejoin="round" stroke-opacity="1.0"/>
<path d="M262.0,369.56 L262.5,369.56 L263.0,369.55 L263.5,369.55 L264.0,369.55 L264.5,369.55 L265.0,369.54 L265.5,369.54 L266.0,369.54 L266.5,369.54 L267.0,369.53 L267.5,369.53 L268.0,369.53 L268.5,369.53 L269.0,369.52 L269.5,369.52 L270.0,369.52 L270.5,369.52 L271.0,369.51 L271.5,369.51 L272.0,369.51 L272.5,369.50 L273.0,369.50 L273.5,369.50 L274.0,369.49 L274.5,369.49 L275.0,369.49 L275.5,369.48 L276.0,369.48 L276.5,369.48 L277.0,369.47 L277.5,369.47 L278.0,369.47 L278.5,369.46 L279.0,369.46 L279.5,369.46 L280.0,369.45 L280.5,369.45 L281.0,369.45 L281.5,369.44 L282.0,369.44 L282.5,369.43 L283.0,369.43 L283.5,369.42 L284.0,369.42 L284.5,369.42 L285.0,369.41 L285.5,369.41 L286.0,369.40 L286.5,369.40 L287.0,369.39 L287.5,369.39 L288.0,369.38 L288.5,369.38 L289.0,369.37 L289.5,369.37 L290.0,369.36 L290.5,369.36 L291.0,369.35 L291.5,369.35 L292.0,369.34 L292.5,369.34 L293.0,369.33 L293.5,369.32 L294.0,369.32 L294.5,369.31 L295.0,369.30 L295.5,369.30 L296.0,369.29 L296.5,369.28 L297.0,369.28 L297.5,369.27 L298.0,369.26 L298.5,369.26 L299.0,369.25 L299.5,369.24 L300.0,369.23 L300.5,369.22 L301.0,369.22 L301.5,369.21 L302.0,369.20 L302.5,369.19 L303.0,369.18 L303.5,369.17 L304.0,369.16 L304.5,369.15 L305.0,369.14 L305.5,369.13 L306.0,369.12 L306.5,369.11 L307.0,369.09 L307.5,369.08 L308.0,369.07 L308.5,369.06 L309.0,369.05 L309.5,369.03 L310.0,369.02 L310.5,369.00 L311.0,368.99 L311.5,368.97 L312.0,368.96 L312.5,368.94 L313.0,368.93 L313.5,368.91 L314.0,368.89 L314.5,368.87 L315.0,368.85 L315.5,368.83 L316.0,368.81 L316.5,368.79 L317.0,368.77 L317.5,368.75 L318.0,368.72 L318.5,368.70 L319.0,368.67 L319.5,368.64 L320.0,368.62 L320.5,368.60 L321.0,368.58 L321.5,368.56 L322.0,368.54 L322.5,368.52 L323.0,368.49 L323.5,368.46 L324.0,368.44 L324.5,368.40 L325.0,368.37 L325.5,368.33 L326.0,368.29 L326.5,368.24 L327.0,368.19 L327.5,368.13 L328.0,368.07 L328.5,368.00 L329.0,367.92 L329.5,367.84 L330.0,367.75 L330.5,367.64 L331.0,367.53 L331.5,367.40 L332.0,367.26 L332.5,367.10 L333.0,366.92 L333.5,366.73 L334.0,366.51 L334.5,366.27 L335.0,366.01 L335.5,365.72 L336.0,365.40 L336.5,365.06 L337.0,364.68 L337.5,364.26 L338.0,363.81 L338.5,363.32 L339.0,362.80 L339.5,362.23 L340.0,361.62 L340.5,360.97 L341.0,360.28 L341.5,359.55 L342.0,358.77 L342.5,357.96 L343.0,357.10 L343.5,356.21 L344.0,355.28 L344.5,354.33 L345.0,353.35 L345.5,352.34 L346.0,351.32 L346.5,350.29 L347.0,349.26 L347.5,348.24 L348.0,347.23 L348.5,346.25 L349.0,345.31 L349.5,344.42 L350.0,343.59 L350.5,342.86 L351.0,342.22 L351.5,341.68 L352.0,341.25 L352.5,340.95 L353.0,340.78 L353.5,340.75 L354.0,340.85 L354.5,341.09 L355.0,341.45 L355.5,341.94 L356.0,342.55 L356.5,343.25 L357.0,344.05 L357.5,344.92 L358.0,345.86 L358.5,346.84 L359.0,347.86 L359.5,348.91 L360.0,349.98 L360.5,351.05 L361.0,352.11 L361.5,353.17 L362.0,354.22 L362.5,355.24 L363.0,356.23 L363.5,357.19 L364.0,358.12 L364.5,359.01 L365.0,359.86 L365.5,360.67 L366.0,361.44 L366.5,362.17 L367.0,362.86 L367.5,363.50 L368.0,364.11 L368.5,364.67 L369.0,365.19 L369.5,365.68 L370.0,366.13 L370.5,366.55 L371.0,366.93 L371.5,367.29 L372.0,367.62 L372.5,367.92 L373.0,368.19 L373.5,368.44 L374.0,368.68 L374.5,368.89 L375.0,369.09 L375.5,369.31 L376.0,369.52 L376.5,369.72 L377.0,369.90 L377.5,370.08 L378.0,370.24 L378.5,370.40 L379.0,370.55 L379.5,370.69 L380.0,370.83 L380.5,370.96 L381.0,371.09 L381.5,371.21 L382.0,371.33 L382.5,371.45 L383.0,371.57 L383.5,371.68 L384.0,371.79 L384.5,371.89 L385.0,372.00 L385.5,372.10 L386.0,372.20 L386.5,372.30 L387.0,372.40 L387.5,372.50 L388.0,372.59 L388.5,372.69 L389.0,372.78 L389.5,372.87 L390.0,372.97 L390.5,373.06 L391.0,373.15 L391.5,373.24 L392.0,373.33 L392.5,373.41 L393.0,373.50 L393.5,373.59 L394.0,373.67 L394.5,373.76 L395.0,373.85 L395.5,373.90 L396.0,373.95 L396.5,374.01 L397.0,374.06 L397.5,374.11 L398.0,374.17 L398.5,374.22 L399.0,374.27 L399.5,374.32 L400.0,374.37 L400.5,374.42 L401.0,374.47 L401.5,374.52 L402.0,374.57 L402.5,374.62 L403.0,374.67 L403.5,374.72 L404.0,374.77 L404.5,374.82 L405.0,374.87 L405.5,374.92 L406.0,374.96 L406.5,375.01 L407.0,375.06 L407.5,375.11 L408.0,375.15 L408.5,375.20 L409.0,375.25 L409.5,375.29 L410.0,375.34 L410.5,375.38 L411.0,375.43 L411.5,375.48 L412.0,375.52 L412.5,375.57 L413.0,375.61 L413.5,375.66 L414.0,375.70 L414.5,375.75 L415.0,375.79 L415.5,375.84 L416.0,375.88 L416.5,375.93 L417.0,375.97 L417.5,376.02 L418.0,376.06 L418.5,376.11 L419.0,376.15 L419.5,376.19 L420.0,376.24 L420.5,376.28 L421.0,376.32 L421.5,376.37 L422.0,376.41 L422.5,376.46 L423.0,376.50 L423.5,376.54 L424.0,376.59 L424.5,376.63 L425.0,376.67 L425.5,376.68 L426.0,376.70 L426.5,376.71 L427.0,376.72 L427.5,376.73 L428.0,376.74 L428.5,376.75 L429.0,376.77 L429.5,376.78 L430.0,376.79 L430.5,376.80 L431.0,376.81 L431.5,376.82 L432.0,376.83 L432.5,376.84 L433.0,376.86 L433.5,376.87 L434.0,376.88 L434.5,376.89 L435.0,376.90 L435.5,376.91 L436.0,376.92 L436.5,376.93 L437.0,376.94 L437.5,376.95 L438.0,376.97 L438.5,376.98 L439.0,376.99 L439.5,377.00 L440.0,377.01 L440.5,377.02 L441.0,377.03 L441.5,377.04 L442.0,377.05 L442.5,377.06 L443.0,377.07 L443.5,377.08 L444.0,377.09 L444.5,377.10 L445.0,377.11 L445.5,377.12 L446.0,377.13 L446.5,377.14 L447.0,377.15 L447.5,377.16 L448.0,377.17 L448.5,377.18 L449.0,377.19 L449.5,377.20 L450.0,377.21 L450.5,377.23 L451.0,377.24 L451.5,377.25 L452.0,377.26 L452.5,377.27 L453.0,377.28 L453.5,377.29 L454.0,377.30 L454.5,377.31 L455.0,377.32 L455.5,377.33 L456.0,377.34 L456.5,377.34 L457.0,377.35 L457.5,377.36 L458.0,377.37 L458.5,377.38" fill="none" stroke="#0000ff" stroke-width="1.1" stroke-linejoin="round" stroke-opacity="1.0"/>
<path d="M261.6,369.17 L262.1,369.17 L262.6,369.16 L263.1,369.16 L263.6,369.15 L264.1,369.15 L264.6,369.14 L265.1,369.13 L265.6,369.13 L266.1,369.12 L266.6,369.11 L267.1,369.11 L267.6,369.10 L268.1,369.09 L268.6,369.08 L269.1,369.07 L269.6,369.06 L270.1,369.05 L270.6,369.04 L271.1,369.02 L271.6,369.01 L272.1,369.00 L272.6,368.98 L273.1,368.96 L273.6,368.95 L274.1,368.93 L274.6,368.91 L275.1,368.89 L275.6,368.87 L276.1,368.85 L276.6,368.82 L277.1,368.80 L277.6,368.77 L278.1,368.75 L278.6,368.72 L279.1,368.69 L279.6,368.66 L280.1,368.63 L280.6,368.60 L281.1,368.57 L281.6,368.54 L282.1,368.51 L282.6,368.48 L283.1,368.45 L283.6,368.42 L284.1,368.40 L284.6,368.37 L285.1,368.34 L285.6,368.31 L286.1,368.29 L286.6,368.27 L287.1,368.24 L287.6,368.22 L288.1,368.20 L288.6,368.18 L289.1,368.17 L289.6,368.15 L290.1,368.14 L290.6,368.12 L291.1,368.11 L291.6,368.10 L292.1,368.09 L292.6,368.09 L293.1,368.08 L293.6,368.07 L294.1,368.06 L294.6,368.06 L295.1,368.05 L295.6,368.04 L296.1,368.03 L296.6,368.03 L297.1,368.02 L297.6,368.00 L298.1,367.99 L298.6,367.97 L299.1,367.96 L299.6,367.94 L300.1,367.91 L300.6,367.89 L301.1,367.86 L301.6,367.83 L302.1,367.79 L302.6,367.75 L303.1,367.71 L303.6,367.66 L304.1,367.61 L304.6,367.56 L305.1,367.50 L305.6,367.44 L306.1,367.38 L306.6,367.31 L307.1,367.24 L307.6,367.17 L308.1,367.09 L308.6,367.01 L309.1,366.92 L309.6,366.84 L310.1,366.75 L310.6,366.65 L311.1,366.56 L311.6,366.46 L312.1,366.35 L312.6,366.25 L313.1,366.14 L313.6,366.03 L314.1,365.91 L314.6,365.79 L315.1,365.67 L315.6,365.54 L316.1,365.41 L316.6,365.27 L317.1,365.13 L317.6,364.97 L318.1,364.82 L318.6,364.65 L319.1,364.48 L319.6,364.30 L320.1,364.12 L320.6,363.94 L321.1,363.74 L321.6,363.53 L322.1,363.31 L322.6,363.08 L323.1,362.84 L323.6,362.58 L324.1,362.31 L324.6,362.03 L325.1,361.73 L325.6,361.42 L326.1,361.10 L326.6,360.76 L327.1,360.42 L327.6,360.06 L328.1,359.68 L328.6,359.30 L329.1,358.91 L329.6,358.52 L330.1,358.11 L330.6,357.71 L331.1,357.30 L331.6,356.89 L332.1,356.49 L332.6,356.10 L333.1,355.71 L333.6,355.33 L334.1,354.97 L334.6,354.62 L335.1,354.28 L335.6,353.96 L336.1,353.65 L336.6,353.34 L337.1,353.05 L337.6,352.75 L338.1,352.45 L338.6,352.14 L339.1,351.81 L339.6,351.47 L340.1,351.10 L340.6,350.70 L341.1,350.26 L341.6,349.79 L342.1,349.27 L342.6,348.71 L343.1,348.11 L343.6,347.45 L344.1,346.75 L344.6,346.00 L345.1,345.20 L345.6,344.36 L346.1,343.48 L346.6,342.57 L347.1,341.62 L347.6,340.64 L348.1,339.64 L348.6,338.64 L349.1,337.62 L349.6,336.61 L350.1,335.62 L350.6,334.66 L351.1,333.72 L351.6,332.81 L352.1,331.94 L352.6,331.11 L353.1,330.32 L353.6,329.56 L354.1,328.83 L354.6,328.12 L355.1,327.41 L355.6,326.70 L356.1,325.98 L356.6,325.21 L357.1,324.40 L357.6,323.53 L358.1,322.59 L358.6,321.57 L359.1,320.45 L359.6,319.25 L360.1,317.95 L360.6,316.55 L361.1,315.06 L361.6,313.48 L362.1,311.82 L362.6,310.09 L363.1,308.31 L363.6,306.48 L364.1,304.62 L364.6,302.76 L365.1,300.90 L365.6,299.06 L366.1,297.28 L366.6,295.56 L367.1,293.92 L367.6,292.39 L368.1,290.98 L368.6,289.71 L369.1,288.59 L369.6,287.63 L370.1,286.85 L370.6,286.25 L371.1,285.84 L371.6,285.61 L372.1,285.57 L372.6,285.70 L373.1,286.01 L373.6,286.46 L374.1,287.05 L374.6,287.76 L375.1,288.60 L375.6,289.51 L376.1,290.45 L376.6,291.39 L377.1,292.30 L377.6,293.15 L378.1,293.90 L378.6,294.51 L379.1,294.95 L379.6,295.19 L380.1,295.20 L380.6,294.95 L381.1,294.42 L381.6,293.58 L382.1,292.43 L382.6,290.95 L383.1,289.14 L383.6,287.02 L384.1,284.58 L384.6,281.86 L385.1,278.87 L385.6,275.64 L386.1,272.23 L386.6,268.67 L387.1,265.01 L387.6,261.32 L388.1,257.65 L388.6,254.08 L389.1,250.66 L389.6,247.48 L390.1,244.59 L390.6,242.07 L391.1,239.97 L391.6,238.37 L392.1,237.30 L392.6,236.80 L393.1,236.91 L393.6,237.63 L394.1,238.96 L394.6,240.89 L395.1,243.37 L395.6,246.39 L396.1,249.90 L396.6,253.85 L397.1,258.19 L397.6,262.85 L398.1,267.77 L398.6,272.91 L399.1,278.18 L399.6,283.55 L400.1,288.96 L400.6,294.35 L401.1,299.68 L401.6,304.91 L402.1,310.01 L402.6,314.93 L403.1,319.67 L403.6,324.19 L404.1,328.48 L404.6,332.53 L405.1,336.34 L405.6,339.89 L406.1,343.19 L406.6,346.24 L407.1,349.05 L407.6,351.63 L408.1,353.99 L408.6,356.14 L409.1,358.09 L409.6,359.86 L410.1,361.45 L410.6,362.89 L411.1,364.19 L411.6,365.35 L412.1,366.39 L412.6,367.33 L413.1,368.17 L413.6,368.92 L414.1,369.60 L414.6,370.20 L415.1,370.74 L415.6,371.23 L416.1,371.67 L416.6,372.06 L417.1,372.42 L417.6,372.74 L418.1,373.03 L418.6,373.29 L419.1,373.53 L419.6,373.74 L420.1,373.94 L420.6,374.12 L421.1,374.29 L421.6,374.45 L422.1,374.59 L422.6,374.72 L423.1,374.84 L423.6,374.96 L424.1,375.07 L424.6,375.17 L425.1,375.23 L425.6,375.29 L426.1,375.35 L426.6,375.40 L427.1,375.45 L427.6,375.50 L428.1,375.54 L428.6,375.58 L429.1,375.62 L429.6,375.66 L430.1,375.70 L430.6,375.73 L431.1,375.77 L431.6,375.80 L432.1,375.83 L432.6,375.86 L433.1,375.89 L433.6,375.92 L434.1,375.95 L434.6,375.98 L435.1,376.00 L435.6,376.03 L436.1,376.05 L436.6,376.08 L437.1,376.10 L437.6,376.13 L438.1,376.15 L438.6,376.17 L439.1,376.20 L439.6,376.22 L440.1,376.24 L440.6,376.26 L441.1,376.29 L441.6,376.31 L442.1,376.33 L442.6,376.35 L443.1,376.37 L443.6,376.39 L444.1,376.41 L444.6,376.43 L445.1,376.44 L445.6,376.46 L446.1,376.48 L446.6,376.50 L447.1,376.52 L447.6,376.54 L448.1,376.55 L448.6,376.57 L449.1,376.59 L449.6,376.60 L450.1,376.62 L450.6,376.64 L451.1,376.65 L451.6,376.67 L452.1,376.69 L452.6,376.70 L453.1,376.72 L453.6,376.73 L454.1,376.75 L454.6,376.76 L455.1,376.78 L455.6,376.79 L456.1,376.81 L456.6,376.82 L457.1,376.84 L457.6,376.85 L458.1,376.87" fill="none" stroke="#111" stroke-width="0.9" stroke-linejoin="round" stroke-opacity="1.0"/>
<path d="M262.0,369.38 L262.5,369.37 L263.0,369.37 L263.5,369.36 L264.0,369.36 L264.5,369.35 L265.0,369.35 L265.5,369.34 L266.0,369.34 L266.5,369.33 L267.0,369.33 L267.5,369.32 L268.0,369.32 L268.5,369.31 L269.0,369.31 L269.5,369.30 L270.0,369.30 L270.5,369.29 L271.0,369.29 L271.5,369.28 L272.0,369.27 L272.5,369.27 L273.0,369.26 L273.5,369.26 L274.0,369.25 L274.5,369.24 L275.0,369.24 L275.5,369.23 L276.0,369.22 L276.5,369.22 L277.0,369.21 L277.5,369.20 L278.0,369.19 L278.5,369.19 L279.0,369.18 L279.5,369.17 L280.0,369.16 L280.5,369.16 L281.0,369.15 L281.5,369.14 L282.0,369.13 L282.5,369.12 L283.0,369.11 L283.5,369.10 L284.0,369.09 L284.5,369.08 L285.0,369.08 L285.5,369.07 L286.0,369.05 L286.5,369.04 L287.0,369.03 L287.5,369.02 L288.0,369.01 L288.5,369.00 L289.0,368.99 L289.5,368.98 L290.0,368.96 L290.5,368.95 L291.0,368.94 L291.5,368.93 L292.0,368.91 L292.5,368.90 L293.0,368.89 L293.5,368.87 L294.0,368.86 L294.5,368.84 L295.0,368.82 L295.5,368.81 L296.0,368.79 L296.5,368.77 L297.0,368.76 L297.5,368.74 L298.0,368.72 L298.5,368.70 L299.0,368.68 L299.5,368.66 L300.0,368.64 L300.5,368.62 L301.0,368.59 L301.5,368.57 L302.0,368.55 L302.5,368.52 L303.0,368.49 L303.5,368.47 L304.0,368.44 L304.5,368.41 L305.0,368.38 L305.5,368.35 L306.0,368.31 L306.5,368.28 L307.0,368.24 L307.5,368.20 L308.0,368.16 L308.5,368.12 L309.0,368.07 L309.5,368.03 L310.0,367.97 L310.5,367.92 L311.0,367.86 L311.5,367.80 L312.0,367.74 L312.5,367.67 L313.0,367.59 L313.5,367.51 L314.0,367.43 L314.5,367.33 L315.0,367.24 L315.5,367.13 L316.0,367.02 L316.5,366.90 L317.0,366.77 L317.5,366.63 L318.0,366.48 L318.5,366.32 L319.0,366.15 L319.5,365.97 L320.0,365.77 L320.5,365.58 L321.0,365.37 L321.5,365.15 L322.0,364.92 L322.5,364.67 L323.0,364.41 L323.5,364.13 L324.0,363.84 L324.5,363.53 L325.0,363.21 L325.5,362.87 L326.0,362.52 L326.5,362.16 L327.0,361.78 L327.5,361.39 L328.0,360.99 L328.5,360.58 L329.0,360.15 L329.5,359.72 L330.0,359.29 L330.5,358.84 L331.0,358.40 L331.5,357.96 L332.0,357.52 L332.5,357.08 L333.0,356.65 L333.5,356.24 L334.0,355.83 L334.5,355.44 L335.0,355.07 L335.5,354.71 L336.0,354.36 L336.5,354.03 L337.0,353.71 L337.5,353.39 L338.0,353.08 L338.5,352.77 L339.0,352.44 L339.5,352.11 L340.0,351.75 L340.5,351.37 L341.0,350.96 L341.5,350.52 L342.0,350.04 L342.5,349.52 L343.0,348.95 L343.5,348.34 L344.0,347.68 L344.5,346.97 L345.0,346.22 L345.5,345.42 L346.0,344.58 L346.5,343.70 L347.0,342.78 L347.5,341.83 L348.0,340.85 L348.5,339.85 L349.0,338.84 L349.5,337.82 L350.0,336.81 L350.5,335.83 L351.0,334.86 L351.5,333.92 L352.0,333.01 L352.5,332.14 L353.0,331.31 L353.5,330.52 L354.0,329.76 L354.5,329.03 L355.0,328.32 L355.5,327.61 L356.0,326.91 L356.5,326.18 L357.0,325.41 L357.5,324.60 L358.0,323.73 L358.5,322.79 L359.0,321.77 L359.5,320.65 L360.0,319.45 L360.5,318.15 L361.0,316.75 L361.5,315.26 L362.0,313.68 L362.5,312.02 L363.0,310.29 L363.5,308.51 L364.0,306.68 L364.5,304.82 L365.0,302.96 L365.5,301.10 L366.0,299.26 L366.5,297.48 L367.0,295.76 L367.5,294.12 L368.0,292.59 L368.5,291.18 L369.0,289.91 L369.5,288.79 L370.0,287.83 L370.5,287.05 L371.0,286.45 L371.5,286.04 L372.0,285.81 L372.5,285.77 L373.0,285.90 L373.5,286.21 L374.0,286.66 L374.5,287.25 L375.0,287.96 L375.5,288.80 L376.0,289.71 L376.5,290.65 L377.0,291.59 L377.5,292.50 L378.0,293.35 L378.5,294.10 L379.0,294.71 L379.5,295.15 L380.0,295.39 L380.5,295.40 L381.0,295.15 L381.5,294.62 L382.0,293.78 L382.5,292.63 L383.0,291.15 L383.5,289.34 L384.0,287.22 L384.5,284.78 L385.0,282.06 L385.5,279.07 L386.0,275.84 L386.5,272.43 L387.0,268.87 L387.5,265.21 L388.0,261.52 L388.5,257.85 L389.0,254.28 L389.5,250.86 L390.0,247.68 L390.5,244.79 L391.0,242.27 L391.5,240.17 L392.0,238.57 L392.5,237.50 L393.0,237.00 L393.5,237.11 L394.0,237.83 L394.5,239.16 L395.0,241.09 L395.5,243.57 L396.0,246.59 L396.5,250.10 L397.0,254.05 L397.5,258.39 L398.0,263.05 L398.5,267.97 L399.0,273.11 L399.5,278.38 L400.0,283.75 L400.5,289.16 L401.0,294.55 L401.5,299.88 L402.0,305.11 L402.5,310.21 L403.0,315.13 L403.5,319.87 L404.0,324.39 L404.5,328.68 L405.0,332.73 L405.5,336.54 L406.0,340.09 L406.5,343.39 L407.0,346.44 L407.5,349.25 L408.0,351.83 L408.5,354.19 L409.0,356.34 L409.5,358.29 L410.0,360.06 L410.5,361.65 L411.0,363.09 L411.5,364.39 L412.0,365.55 L412.5,366.59 L413.0,367.53 L413.5,368.37 L414.0,369.12 L414.5,369.80 L415.0,370.40 L415.5,370.94 L416.0,371.43 L416.5,371.87 L417.0,372.26 L417.5,372.62 L418.0,372.94 L418.5,373.23 L419.0,373.49 L419.5,373.73 L420.0,373.94 L420.5,374.14 L421.0,374.32 L421.5,374.49 L422.0,374.65 L422.5,374.79 L423.0,374.92 L423.5,375.04 L424.0,375.16 L424.5,375.27 L425.0,375.37 L425.5,375.43 L426.0,375.49 L426.5,375.55 L427.0,375.60 L427.5,375.65 L428.0,375.70 L428.5,375.74 L429.0,375.78 L429.5,375.82 L430.0,375.86 L430.5,375.90 L431.0,375.93 L431.5,375.97 L432.0,376.00 L432.5,376.03 L433.0,376.06 L433.5,376.09 L434.0,376.12 L434.5,376.15 L435.0,376.18 L435.5,376.20 L436.0,376.23 L436.5,376.25 L437.0,376.28 L437.5,376.30 L438.0,376.33 L438.5,376.35 L439.0,376.37 L439.5,376.40 L440.0,376.42 L440.5,376.44 L441.0,376.46 L441.5,376.49 L442.0,376.51 L442.5,376.53 L443.0,376.55 L443.5,376.57 L444.0,376.59 L444.5,376.61 L445.0,376.63 L445.5,376.64 L446.0,376.66 L446.5,376.68 L447.0,376.70 L447.5,376.72 L448.0,376.74 L448.5,376.75 L449.0,376.77 L449.5,376.79 L450.0,376.80 L450.5,376.82 L451.0,376.84 L451.5,376.85 L452.0,376.87 L452.5,376.89 L453.0,376.90 L453.5,376.92 L454.0,376.93 L454.5,376.95 L455.0,376.96 L455.5,376.98 L456.0,376.99 L456.5,377.01 L457.0,377.02 L457.5,377.04 L458.0,377.05 L458.5,377.07" fill="none" stroke="#ff0000" stroke-width="1.15" stroke-linejoin="round" stroke-opacity="1.0"/>
<path d="M261.6,369.17 L262.1,369.17 L262.6,369.16 L263.1,369.16 L263.6,369.15 L264.1,369.15 L264.6,369.14 L265.1,369.13 L265.6,369.13 L266.1,369.12 L266.6,369.11 L267.1,369.11 L267.6,369.10 L268.1,369.09 L268.6,369.08 L269.1,369.07 L269.6,369.06 L270.1,369.05 L270.6,369.04 L271.1,369.02 L271.6,369.01 L272.1,369.00 L272.6,368.98 L273.1,368.96 L273.6,368.95 L274.1,368.93 L274.6,368.91 L275.1,368.89 L275.6,368.87 L276.1,368.85 L276.6,368.82 L277.1,368.80 L277.6,368.77 L278.1,368.75 L278.6,368.72 L279.1,368.69 L279.6,368.66 L280.1,368.63 L280.6,368.60 L281.1,368.57 L281.6,368.54 L282.1,368.51 L282.6,368.48 L283.1,368.45 L283.6,368.42 L284.1,368.40 L284.6,368.37 L285.1,368.34 L285.6,368.31 L286.1,368.29 L286.6,368.27 L287.1,368.24 L287.6,368.22 L288.1,368.20 L288.6,368.18 L289.1,368.17 L289.6,368.15 L290.1,368.14 L290.6,368.12 L291.1,368.11 L291.6,368.10 L292.1,368.09 L292.6,368.09 L293.1,368.08 L293.6,368.07 L294.1,368.06 L294.6,368.06 L295.1,368.05 L295.6,368.04 L296.1,368.03 L296.6,368.03 L297.1,368.02 L297.6,368.00 L298.1,367.99 L298.6,367.97 L299.1,367.96 L299.6,367.94 L300.1,367.91 L300.6,367.89 L301.1,367.86 L301.6,367.83 L302.1,367.79 L302.6,367.75 L303.1,367.71 L303.6,367.66 L304.1,367.61 L304.6,367.56 L305.1,367.50 L305.6,367.44 L306.1,367.38 L306.6,367.31 L307.1,367.24 L307.6,367.17 L308.1,367.09 L308.6,367.01 L309.1,366.92 L309.6,366.84 L310.1,366.75 L310.6,366.65 L311.1,366.56 L311.6,366.46 L312.1,366.35 L312.6,366.25 L313.1,366.14 L313.6,366.03 L314.1,365.91 L314.6,365.79 L315.1,365.67 L315.6,365.54 L316.1,365.41 L316.6,365.27 L317.1,365.13 L317.6,364.97 L318.1,364.82 L318.6,364.65 L319.1,364.48 L319.6,364.30 L320.1,364.12 L320.6,363.94 L321.1,363.74 L321.6,363.53 L322.1,363.31 L322.6,363.08 L323.1,362.84 L323.6,362.58 L324.1,362.31 L324.6,362.03 L325.1,361.73 L325.6,361.42 L326.1,361.10 L326.6,360.76 L327.1,360.42 L327.6,360.06 L328.1,359.68 L328.6,359.30 L329.1,358.91 L329.6,358.52 L330.1,358.11 L330.6,357.71 L331.1,357.30 L331.6,356.89 L332.1,356.49 L332.6,356.10 L333.1,355.71 L333.6,355.33 L334.1,354.97 L334.6,354.62 L335.1,354.28 L335.6,353.96 L336.1,353.65 L336.6,353.34 L337.1,353.05 L337.6,352.75 L338.1,352.45 L338.6,352.14 L339.1,351.81 L339.6,351.47 L340.1,351.10 L340.6,350.70 L341.1,350.26 L341.6,349.79 L342.1,349.27 L342.6,348.71 L343.1,348.11 L343.6,347.45 L344.1,346.75 L344.6,346.00 L345.1,345.20 L345.6,344.36 L346.1,343.48 L346.6,342.57 L347.1,341.62 L347.6,340.64 L348.1,339.64 L348.6,338.64 L349.1,337.62 L349.6,336.61 L350.1,335.62 L350.6,334.66 L351.1,333.72 L351.6,332.81 L352.1,331.94 L352.6,331.11 L353.1,330.32 L353.6,329.56 L354.1,328.83 L354.6,328.12 L355.1,327.41 L355.6,326.70 L356.1,325.98 L356.6,325.21 L357.1,324.40 L357.6,323.53 L358.1,322.59 L358.6,321.57 L359.1,320.45 L359.6,319.25 L360.1,317.95 L360.6,316.55 L361.1,315.06 L361.6,313.48 L362.1,311.82 L362.6,310.09 L363.1,308.31 L363.6,306.48 L364.1,304.62 L364.6,302.76 L365.1,300.90 L365.6,299.06 L366.1,297.28 L366.6,295.56 L367.1,293.92 L367.6,292.39 L368.1,290.98 L368.6,289.71 L369.1,288.59 L369.6,287.63 L370.1,286.85 L370.6,286.25 L371.1,285.84 L371.6,285.61 L372.1,285.57 L372.6,285.70 L373.1,286.01 L373.6,286.46 L374.1,287.05 L374.6,287.76 L375.1,288.60 L375.6,289.51 L376.1,290.45 L376.6,291.39 L377.1,292.30 L377.6,293.15 L378.1,293.90 L378.6,294.51 L379.1,294.95 L379.6,295.19 L380.1,295.20 L380.6,294.95 L381.1,294.42 L381.6,293.58 L382.1,292.43 L382.6,290.95 L383.1,289.14 L383.6,287.02 L384.1,284.58 L384.6,281.86 L385.1,278.87 L385.6,275.64 L386.1,272.23 L386.6,268.67 L387.1,265.01 L387.6,261.32 L388.1,257.65 L388.6,254.08 L389.1,250.66 L389.6,247.48 L390.1,244.59 L390.6,242.07 L391.1,239.97 L391.6,238.37 L392.1,237.30 L392.6,236.80 L393.1,236.91 L393.6,237.63 L394.1,238.96 L394.6,240.89 L395.1,243.37 L395.6,246.39 L396.1,249.90 L396.6,253.85 L397.1,258.19 L397.6,262.85 L398.1,267.77 L398.6,272.91 L399.1,278.18 L399.6,283.55 L400.1,288.96 L400.6,294.35 L401.1,299.68 L401.6,304.91 L402.1,310.01 L402.6,314.93 L403.1,319.67 L403.6,324.19 L404.1,328.48 L404.6,332.53 L405.1,336.34 L405.6,339.89 L406.1,343.19 L406.6,346.24 L407.1,349.05 L407.6,351.63 L408.1,353.99 L408.6,356.14 L409.1,358.09 L409.6,359.86 L410.1,361.45 L410.6,362.89 L411.1,364.19 L411.6,365.35 L412.1,366.39 L412.6,367.33 L413.1,368.17 L413.6,368.92 L414.1,369.60 L414.6,370.20 L415.1,370.74 L415.6,371.23 L416.1,371.67 L416.6,372.06 L417.1,372.42 L417.6,372.74 L418.1,373.03 L418.6,373.29 L419.1,373.53 L419.6,373.74 L420.1,373.94 L420.6,374.12 L421.1,374.29 L421.6,374.45 L422.1,374.59 L422.6,374.72 L423.1,374.84 L423.6,374.96 L424.1,375.07 L424.6,375.17 L425.1,375.23 L425.6,375.29 L426.1,375.35 L426.6,375.40 L427.1,375.45 L427.6,375.50 L428.1,375.54 L428.6,375.58 L429.1,375.62 L429.6,375.66 L430.1,375.70 L430.6,375.73 L431.1,375.77 L431.6,375.80 L432.1,375.83 L432.6,375.86 L433.1,375.89 L433.6,375.92 L434.1,375.95 L434.6,375.98 L435.1,376.00 L435.6,376.03 L436.1,376.05 L436.6,376.08 L437.1,376.10 L437.6,376.13 L438.1,376.15 L438.6,376.17 L439.1,376.20 L439.6,376.22 L440.1,376.24 L440.6,376.26 L441.1,376.29 L441.6,376.31 L442.1,376.33 L442.6,376.35 L443.1,376.37 L443.6,376.39 L444.1,376.41 L444.6,376.43 L445.1,376.44 L445.6,376.46 L446.1,376.48 L446.6,376.50 L447.1,376.52 L447.6,376.54 L448.1,376.55 L448.6,376.57 L449.1,376.59 L449.6,376.60 L450.1,376.62 L450.6,376.64 L451.1,376.65 L451.6,376.67 L452.1,376.69 L452.6,376.70 L453.1,376.72 L453.6,376.73 L454.1,376.75 L454.6,376.76 L455.1,376.78 L455.6,376.79 L456.1,376.81 L456.6,376.82 L457.1,376.84 L457.6,376.85 L458.1,376.87" fill="none" stroke="#000" stroke-width="0.75" stroke-dasharray="1.6 2.4" stroke-opacity="0.55"/>
<line x1="266.00" y1="236.90" x2="282.00" y2="236.90" stroke="#222" stroke-width="1.4"/>
<line x1="266.00" y1="246.40" x2="282.00" y2="246.40" stroke="#ff2020" stroke-width="1.3"/>
<text x="284.00" y="239.70" font-size="7.5" textLength="56.40" lengthAdjust="spacingAndGlyphs" fill="#111" stroke="#111" stroke-width="0.14">Experimental data</text>
<text x="284.00" y="249.20" font-size="7.5" textLength="21.60" lengthAdjust="spacingAndGlyphs" fill="#111" stroke="#111" stroke-width="0.14">Best fit</text>
<text x="343.30" y="272.80" font-size="7.5" textLength="26.60" lengthAdjust="spacingAndGlyphs" fill="#111" stroke="#111" stroke-width="0.14">C-O,C-N</text>
<line x1="372.10" y1="302.80" x2="358.30" y2="279.83" stroke="#111" stroke-width="0.75"/>
<path d="M356.60,277.00 L359.84,279.48 L357.27,281.03 Z" fill="#111"/>
<text x="409.00" y="259.60" font-size="7.5" textLength="11.80" lengthAdjust="spacingAndGlyphs" fill="#111" stroke="#111" stroke-width="0.14">C-C</text>
<line x1="394.60" y1="283.40" x2="409.37" y2="268.63" stroke="#111" stroke-width="0.75"/>
<path d="M411.70,266.30 L410.07,270.05 L407.95,267.93 Z" fill="#111"/>
<text x="333.60" y="322.60" font-size="7.5" textLength="14.30" lengthAdjust="spacingAndGlyphs" fill="#111" stroke="#111" stroke-width="0.14">C=O</text>
<line x1="354.80" y1="346.20" x2="346.10" y2="330.49" stroke="#111" stroke-width="0.75"/>
<path d="M344.50,327.60 L347.65,330.20 L345.03,331.65 Z" fill="#111"/>
<text x="306.90" y="341.10" font-size="7.5" textLength="21.50" lengthAdjust="spacingAndGlyphs" fill="#111" stroke="#111" stroke-width="0.14">O-C=O</text>
<line x1="333.60" y1="362.40" x2="323.88" y2="348.41" stroke="#111" stroke-width="0.75"/>
<path d="M322.00,345.70 L325.40,347.97 L322.94,349.68 Z" fill="#111"/>
<text x="428.00" y="349.80" font-size="7.5" textLength="13.00" lengthAdjust="spacingAndGlyphs" fill="#111" stroke="#111" stroke-width="0.14">C=C</text>
<line x1="402.60" y1="373.10" x2="428.73" y2="354.14" stroke="#111" stroke-width="0.75"/>
<path d="M431.40,352.20 L429.21,355.65 L427.44,353.22 Z" fill="#111"/>
<text x="458.00" y="224.70" font-size="12.4" text-anchor="middle" fill="#222" stroke="#222" stroke-width="0.05">(d)</text>
<line x1="522.70" y1="380.20" x2="718.60" y2="380.20" stroke="#333" stroke-width="1.0"/>
<line x1="523.00" y1="380.20" x2="523.00" y2="382.10" stroke="#333" stroke-width="0.9"/>
<line x1="536.02" y1="380.20" x2="536.02" y2="382.60" stroke="#333" stroke-width="0.9"/>
<line x1="549.04" y1="380.20" x2="549.04" y2="382.10" stroke="#333" stroke-width="0.9"/>
<line x1="562.06" y1="380.20" x2="562.06" y2="382.60" stroke="#333" stroke-width="0.9"/>
<line x1="575.08" y1="380.20" x2="575.08" y2="382.10" stroke="#333" stroke-width="0.9"/>
<line x1="588.10" y1="380.20" x2="588.10" y2="382.60" stroke="#333" stroke-width="0.9"/>
<line x1="601.12" y1="380.20" x2="601.12" y2="382.10" stroke="#333" stroke-width="0.9"/>
<line x1="614.14" y1="380.20" x2="614.14" y2="382.60" stroke="#333" stroke-width="0.9"/>
<line x1="627.16" y1="380.20" x2="627.16" y2="382.10" stroke="#333" stroke-width="0.9"/>
<line x1="640.18" y1="380.20" x2="640.18" y2="382.60" stroke="#333" stroke-width="0.9"/>
<line x1="653.20" y1="380.20" x2="653.20" y2="382.10" stroke="#333" stroke-width="0.9"/>
<line x1="666.22" y1="380.20" x2="666.22" y2="382.60" stroke="#333" stroke-width="0.9"/>
<line x1="679.24" y1="380.20" x2="679.24" y2="382.10" stroke="#333" stroke-width="0.9"/>
<line x1="692.26" y1="380.20" x2="692.26" y2="382.60" stroke="#333" stroke-width="0.9"/>
<line x1="705.28" y1="380.20" x2="705.28" y2="382.10" stroke="#333" stroke-width="0.9"/>
<line x1="718.30" y1="380.20" x2="718.30" y2="382.60" stroke="#333" stroke-width="0.9"/>
<text x="536.02" y="391.60" font-size="7.2" text-anchor="middle" textLength="10.40" lengthAdjust="spacingAndGlyphs" fill="#222" stroke="#222" stroke-width="0.14">294</text>
<text x="562.06" y="391.60" font-size="7.2" text-anchor="middle" textLength="10.40" lengthAdjust="spacingAndGlyphs" fill="#222" stroke="#222" stroke-width="0.14">292</text>
<text x="588.10" y="391.60" font-size="7.2" text-anchor="middle" textLength="10.40" lengthAdjust="spacingAndGlyphs" fill="#222" stroke="#222" stroke-width="0.14">290</text>
<text x="614.14" y="391.60" font-size="7.2" text-anchor="middle" textLength="10.40" lengthAdjust="spacingAndGlyphs" fill="#222" stroke="#222" stroke-width="0.14">288</text>
<text x="640.18" y="391.60" font-size="7.2" text-anchor="middle" textLength="10.40" lengthAdjust="spacingAndGlyphs" fill="#222" stroke="#222" stroke-width="0.14">286</text>
<text x="666.22" y="391.60" font-size="7.2" text-anchor="middle" textLength="10.40" lengthAdjust="spacingAndGlyphs" fill="#222" stroke="#222" stroke-width="0.14">284</text>
<text x="692.26" y="391.60" font-size="7.2" text-anchor="middle" textLength="10.40" lengthAdjust="spacingAndGlyphs" fill="#222" stroke="#222" stroke-width="0.14">282</text>
<text x="718.30" y="391.60" font-size="7.2" text-anchor="middle" textLength="10.40" lengthAdjust="spacingAndGlyphs" fill="#222" stroke="#222" stroke-width="0.14">280</text>
<text x="593.50" y="404.40" font-size="7.4" font-weight="bold" textLength="63.50" lengthAdjust="spacingAndGlyphs" fill="#111" stroke="#111" stroke-width="0.14">Binding energy (eV)</text>
<path d="M523.0,370.29 L523.5,370.29 L524.0,370.29 L524.5,370.29 L525.0,370.29 L525.5,370.29 L526.0,370.29 L526.5,370.29 L527.0,370.29 L527.5,370.29 L528.0,370.29 L528.5,370.29 L529.0,370.29 L529.5,370.29 L530.0,370.30 L530.5,370.30 L531.0,370.30 L531.5,370.30 L532.0,370.30 L532.5,370.30 L533.0,370.30 L533.5,370.30 L534.0,370.30 L534.5,370.30 L535.0,370.30 L535.5,370.30 L536.0,370.30 L536.5,370.30 L537.0,370.30 L537.5,370.30 L538.0,370.30 L538.5,370.31 L539.0,370.31 L539.5,370.31 L540.0,370.31 L540.5,370.31 L541.0,370.31 L541.5,370.31 L542.0,370.31 L542.5,370.31 L543.0,370.31 L543.5,370.31 L544.0,370.31 L544.5,370.31 L545.0,370.31 L545.5,370.31 L546.0,370.31 L546.5,370.31 L547.0,370.32 L547.5,370.32 L548.0,370.32 L548.5,370.32 L549.0,370.32 L549.5,370.32 L550.0,370.32 L550.5,370.32 L551.0,370.32 L551.5,370.32 L552.0,370.32 L552.5,370.32 L553.0,370.32 L553.5,370.32 L554.0,370.32 L554.5,370.32 L555.0,370.32 L555.5,370.32 L556.0,370.32 L556.5,370.33 L557.0,370.33 L557.5,370.33 L558.0,370.33 L558.5,370.33 L559.0,370.33 L559.5,370.33 L560.0,370.33 L560.5,370.33 L561.0,370.33 L561.5,370.33 L562.0,370.33 L562.5,370.33 L563.0,370.33 L563.5,370.33 L564.0,370.33 L564.5,370.33 L565.0,370.33 L565.5,370.33 L566.0,370.33 L566.5,370.33 L567.0,370.33 L567.5,370.34 L568.0,370.34 L568.5,370.34 L569.0,370.34 L569.5,370.34 L570.0,370.34 L570.5,370.34 L571.0,370.34 L571.5,370.34 L572.0,370.34 L572.5,370.34 L573.0,370.34 L573.5,370.34 L574.0,370.34 L574.5,370.34 L575.0,370.34 L575.5,370.34 L576.0,370.34 L576.5,370.34 L577.0,370.34 L577.5,370.34 L578.0,370.34 L578.5,370.34 L579.0,370.34 L579.5,370.34 L580.0,370.34 L580.5,370.34 L581.0,370.34 L581.5,370.34 L582.0,370.34 L582.5,370.34 L583.0,370.34 L583.5,370.34 L584.0,370.34 L584.5,370.34 L585.0,370.34 L585.5,370.34 L586.0,370.34 L586.5,370.34 L587.0,370.34 L587.5,370.34 L588.0,370.34 L588.5,370.34 L589.0,370.34 L589.5,370.34 L590.0,370.34 L590.5,370.35 L591.0,370.36 L591.5,370.37 L592.0,370.38 L592.5,370.39 L593.0,370.40 L593.5,370.41 L594.0,370.42 L594.5,370.43 L595.0,370.44 L595.5,370.44 L596.0,370.45 L596.5,370.46 L597.0,370.47 L597.5,370.48 L598.0,370.49 L598.5,370.50 L599.0,370.51 L599.5,370.52 L600.0,370.52 L600.5,370.53 L601.0,370.54 L601.5,370.55 L602.0,370.56 L602.5,370.57 L603.0,370.58 L603.5,370.58 L604.0,370.59 L604.5,370.60 L605.0,370.61 L605.5,370.62 L606.0,370.63 L606.5,370.63 L607.0,370.64 L607.5,370.65 L608.0,370.66 L608.5,370.66 L609.0,370.67 L609.5,370.68 L610.0,370.69 L610.5,370.71 L611.0,370.73 L611.5,370.75 L612.0,370.77 L612.5,370.80 L613.0,370.82 L613.5,370.84 L614.0,370.86 L614.5,370.88 L615.0,370.89 L615.5,370.91 L616.0,370.93 L616.5,370.94 L617.0,370.96 L617.5,370.97 L618.0,370.98 L618.5,370.98 L619.0,370.99 L619.5,370.99 L620.0,370.99 L620.5,370.98 L621.0,370.97 L621.5,370.95 L622.0,370.92 L622.5,370.89 L623.0,370.84 L623.5,370.78 L624.0,370.72 L624.5,370.63 L625.0,370.53 L625.5,370.42 L626.0,370.28 L626.5,370.12 L627.0,369.93 L627.5,369.71 L628.0,369.46 L628.5,369.17 L629.0,368.84 L629.5,368.47 L630.0,368.05 L630.5,367.61 L631.0,367.12 L631.5,366.56 L632.0,365.93 L632.5,365.23 L633.0,364.45 L633.5,363.59 L634.0,362.63 L634.5,361.58 L635.0,360.43 L635.5,359.17 L636.0,357.80 L636.5,356.32 L637.0,354.71 L637.5,352.99 L638.0,351.14 L638.5,349.16 L639.0,347.06 L639.5,344.83 L640.0,342.47 L640.5,339.99 L641.0,337.39 L641.5,334.68 L642.0,331.85 L642.5,328.93 L643.0,325.90 L643.5,322.80 L644.0,319.63 L644.5,316.39 L645.0,313.11 L645.5,309.80 L646.0,306.48 L646.5,303.16 L647.0,299.87 L647.5,296.62 L648.0,293.42 L648.5,290.32 L649.0,287.31 L649.5,284.43 L650.0,281.68 L650.5,279.10 L651.0,276.69 L651.5,274.48 L652.0,272.49 L652.5,270.74 L653.0,269.23 L653.5,267.97 L654.0,266.99 L654.5,266.28 L655.0,265.86 L655.5,265.73 L656.0,265.88 L656.5,266.33 L657.0,267.05 L657.5,268.06 L658.0,269.34 L658.5,270.89 L659.0,272.68 L659.5,274.71 L660.0,276.96 L660.5,279.42 L661.0,282.07 L661.5,284.88 L662.0,287.84 L662.5,290.93 L663.0,294.13 L663.5,297.42 L664.0,300.78 L664.5,304.18 L665.0,307.62 L665.5,311.06 L666.0,314.50 L666.5,317.91 L667.0,321.28 L667.5,324.60 L668.0,327.85 L668.5,331.02 L669.0,334.10 L669.5,337.08 L670.0,339.95 L670.5,342.71 L671.0,345.35 L671.5,347.87 L672.0,350.26 L672.5,352.53 L673.0,354.66 L673.5,356.68 L674.0,358.56 L674.5,360.33 L675.0,361.97 L675.5,363.50 L676.0,364.91 L676.5,366.22 L677.0,367.43 L677.5,368.53 L678.0,369.55 L678.5,370.48 L679.0,371.32 L679.5,372.10 L680.0,372.80 L680.5,373.38 L681.0,373.90 L681.5,374.37 L682.0,374.79 L682.5,375.16 L683.0,375.49 L683.5,375.78 L684.0,376.03 L684.5,376.26 L685.0,376.46 L685.5,376.63 L686.0,376.79 L686.5,376.92 L687.0,377.04 L687.5,377.14 L688.0,377.23 L688.5,377.30 L689.0,377.37 L689.5,377.43 L690.0,377.48 L690.5,377.52 L691.0,377.56 L691.5,377.59 L692.0,377.62 L692.5,377.65 L693.0,377.67 L693.5,377.69 L694.0,377.71 L694.5,377.73 L695.0,377.74 L695.5,377.75 L696.0,377.76 L696.5,377.78 L697.0,377.79 L697.5,377.79 L698.0,377.80 L698.5,377.81 L699.0,377.82 L699.5,377.83 L700.0,377.83 L700.5,377.84 L701.0,377.85 L701.5,377.85 L702.0,377.86 L702.5,377.87 L703.0,377.87 L703.5,377.88 L704.0,377.89 L704.5,377.89 L705.0,377.90 L705.5,377.90 L706.0,377.91 L706.5,377.91 L707.0,377.92 L707.5,377.92 L708.0,377.93 L708.5,377.94 L709.0,377.94 L709.5,377.95 L710.0,377.95 L710.5,377.96 L711.0,377.96 L711.5,377.97 L712.0,377.97 L712.5,377.98 L713.0,377.98 L713.5,377.99 L714.0,377.99 L714.5,378.00 L715.0,378.00 L715.5,378.01 L716.0,378.01 L716.5,378.02 L717.0,378.02 L717.5,378.03 L718.0,378.03" fill="none" stroke="#007000" stroke-width="1.1" stroke-linejoin="round" stroke-opacity="1.0"/>
<path d="M523.0,370.25 L523.5,370.25 L524.0,370.25 L524.5,370.25 L525.0,370.25 L525.5,370.25 L526.0,370.25 L526.5,370.25 L527.0,370.25 L527.5,370.25 L528.0,370.25 L528.5,370.25 L529.0,370.25 L529.5,370.25 L530.0,370.25 L530.5,370.25 L531.0,370.26 L531.5,370.26 L532.0,370.26 L532.5,370.26 L533.0,370.26 L533.5,370.26 L534.0,370.26 L534.5,370.26 L535.0,370.26 L535.5,370.26 L536.0,370.26 L536.5,370.26 L537.0,370.26 L537.5,370.26 L538.0,370.26 L538.5,370.26 L539.0,370.26 L539.5,370.26 L540.0,370.26 L540.5,370.26 L541.0,370.26 L541.5,370.26 L542.0,370.26 L542.5,370.26 L543.0,370.26 L543.5,370.26 L544.0,370.26 L544.5,370.26 L545.0,370.26 L545.5,370.26 L546.0,370.26 L546.5,370.26 L547.0,370.26 L547.5,370.26 L548.0,370.26 L548.5,370.26 L549.0,370.26 L549.5,370.26 L550.0,370.26 L550.5,370.26 L551.0,370.26 L551.5,370.26 L552.0,370.26 L552.5,370.26 L553.0,370.26 L553.5,370.25 L554.0,370.25 L554.5,370.25 L555.0,370.25 L555.5,370.25 L556.0,370.25 L556.5,370.25 L557.0,370.25 L557.5,370.25 L558.0,370.25 L558.5,370.25 L559.0,370.25 L559.5,370.25 L560.0,370.25 L560.5,370.25 L561.0,370.25 L561.5,370.25 L562.0,370.25 L562.5,370.25 L563.0,370.24 L563.5,370.24 L564.0,370.24 L564.5,370.24 L565.0,370.24 L565.5,370.24 L566.0,370.24 L566.5,370.24 L567.0,370.24 L567.5,370.24 L568.0,370.24 L568.5,370.23 L569.0,370.23 L569.5,370.23 L570.0,370.23 L570.5,370.23 L571.0,370.23 L571.5,370.23 L572.0,370.23 L572.5,370.22 L573.0,370.22 L573.5,370.22 L574.0,370.22 L574.5,370.22 L575.0,370.22 L575.5,370.21 L576.0,370.21 L576.5,370.21 L577.0,370.21 L577.5,370.21 L578.0,370.20 L578.5,370.20 L579.0,370.20 L579.5,370.20 L580.0,370.19 L580.5,370.19 L581.0,370.19 L581.5,370.19 L582.0,370.18 L582.5,370.18 L583.0,370.18 L583.5,370.18 L584.0,370.17 L584.5,370.17 L585.0,370.17 L585.5,370.16 L586.0,370.16 L586.5,370.15 L587.0,370.15 L587.5,370.15 L588.0,370.14 L588.5,370.14 L589.0,370.13 L589.5,370.13 L590.0,370.12 L590.5,370.13 L591.0,370.13 L591.5,370.14 L592.0,370.14 L592.5,370.14 L593.0,370.15 L593.5,370.15 L594.0,370.15 L594.5,370.16 L595.0,370.16 L595.5,370.16 L596.0,370.16 L596.5,370.17 L597.0,370.17 L597.5,370.17 L598.0,370.17 L598.5,370.17 L599.0,370.17 L599.5,370.17 L600.0,370.17 L600.5,370.17 L601.0,370.17 L601.5,370.16 L602.0,370.16 L602.5,370.16 L603.0,370.15 L603.5,370.15 L604.0,370.14 L604.5,370.13 L605.0,370.12 L605.5,370.11 L606.0,370.10 L606.5,370.09 L607.0,370.07 L607.5,370.05 L608.0,370.02 L608.5,369.99 L609.0,369.96 L609.5,369.92 L610.0,369.87 L610.5,369.83 L611.0,369.77 L611.5,369.71 L612.0,369.63 L612.5,369.53 L613.0,369.41 L613.5,369.27 L614.0,369.10 L614.5,368.90 L615.0,368.66 L615.5,368.39 L616.0,368.06 L616.5,367.69 L617.0,367.25 L617.5,366.75 L618.0,366.18 L618.5,365.52 L619.0,364.78 L619.5,363.94 L620.0,362.99 L620.5,361.93 L621.0,360.74 L621.5,359.43 L622.0,357.97 L622.5,356.37 L623.0,354.62 L623.5,352.72 L624.0,350.65 L624.5,348.43 L625.0,346.04 L625.5,343.50 L626.0,340.80 L626.5,337.95 L627.0,334.96 L627.5,331.85 L628.0,328.62 L628.5,325.29 L629.0,321.88 L629.5,318.42 L630.0,314.92 L630.5,311.46 L631.0,308.01 L631.5,304.62 L632.0,301.32 L632.5,298.13 L633.0,295.09 L633.5,292.23 L634.0,289.59 L634.5,287.20 L635.0,285.08 L635.5,283.27 L636.0,281.79 L636.5,280.66 L637.0,279.89 L637.5,279.51 L638.0,279.51 L638.5,279.90 L639.0,280.67 L639.5,281.82 L640.0,283.32 L640.5,285.16 L641.0,287.31 L641.5,289.75 L642.0,292.45 L642.5,295.37 L643.0,298.48 L643.5,301.76 L644.0,305.16 L644.5,308.66 L645.0,312.21 L645.5,315.80 L646.0,319.40 L646.5,322.96 L647.0,326.48 L647.5,329.93 L648.0,333.28 L648.5,336.53 L649.0,339.65 L649.5,342.63 L650.0,345.47 L650.5,348.15 L651.0,350.66 L651.5,353.02 L652.0,355.22 L652.5,357.26 L653.0,359.14 L653.5,360.86 L654.0,362.45 L654.5,363.89 L655.0,365.19 L655.5,366.38 L656.0,367.44 L656.5,368.40 L657.0,369.26 L657.5,370.02 L658.0,370.70 L658.5,371.31 L659.0,371.84 L659.5,372.32 L660.0,372.74 L660.5,373.11 L661.0,373.44 L661.5,373.74 L662.0,374.00 L662.5,374.23 L663.0,374.43 L663.5,374.62 L664.0,374.79 L664.5,374.94 L665.0,375.08 L665.5,375.21 L666.0,375.32 L666.5,375.43 L667.0,375.54 L667.5,375.63 L668.0,375.73 L668.5,375.82 L669.0,375.90 L669.5,375.98 L670.0,376.06 L670.5,376.14 L671.0,376.22 L671.5,376.29 L672.0,376.37 L672.5,376.44 L673.0,376.51 L673.5,376.58 L674.0,376.65 L674.5,376.72 L675.0,376.79 L675.5,376.86 L676.0,376.92 L676.5,376.99 L677.0,377.06 L677.5,377.12 L678.0,377.19 L678.5,377.25 L679.0,377.32 L679.5,377.38 L680.0,377.45 L680.5,377.46 L681.0,377.47 L681.5,377.48 L682.0,377.49 L682.5,377.51 L683.0,377.52 L683.5,377.53 L684.0,377.54 L684.5,377.55 L685.0,377.56 L685.5,377.57 L686.0,377.57 L686.5,377.58 L687.0,377.59 L687.5,377.60 L688.0,377.61 L688.5,377.62 L689.0,377.63 L689.5,377.64 L690.0,377.64 L690.5,377.65 L691.0,377.66 L691.5,377.67 L692.0,377.68 L692.5,377.68 L693.0,377.69 L693.5,377.70 L694.0,377.71 L694.5,377.71 L695.0,377.72 L695.5,377.73 L696.0,377.73 L696.5,377.74 L697.0,377.75 L697.5,377.76 L698.0,377.76 L698.5,377.77 L699.0,377.78 L699.5,377.78 L700.0,377.79 L700.5,377.79 L701.0,377.80 L701.5,377.81 L702.0,377.81 L702.5,377.82 L703.0,377.83 L703.5,377.83 L704.0,377.84 L704.5,377.84 L705.0,377.85 L705.5,377.86 L706.0,377.86 L706.5,377.87 L707.0,377.87 L707.5,377.88 L708.0,377.88 L708.5,377.89 L709.0,377.90 L709.5,377.90 L710.0,377.91 L710.5,377.91 L711.0,377.92 L711.5,377.92 L712.0,377.93 L712.5,377.93 L713.0,377.94 L713.5,377.95 L714.0,377.95 L714.5,377.96 L715.0,377.96 L715.5,377.97 L716.0,377.97 L716.5,377.98 L717.0,377.98 L717.5,377.99 L718.0,377.99" fill="none" stroke="#750000" stroke-width="1.1" stroke-linejoin="round" stroke-opacity="1.0"/>
<path d="M523.0,370.30 L523.5,370.30 L524.0,370.30 L524.5,370.30 L525.0,370.30 L525.5,370.30 L526.0,370.30 L526.5,370.31 L527.0,370.31 L527.5,370.31 L528.0,370.31 L528.5,370.31 L529.0,370.31 L529.5,370.31 L530.0,370.31 L530.5,370.31 L531.0,370.31 L531.5,370.31 L532.0,370.31 L532.5,370.31 L533.0,370.31 L533.5,370.32 L534.0,370.32 L534.5,370.32 L535.0,370.32 L535.5,370.32 L536.0,370.32 L536.5,370.32 L537.0,370.32 L537.5,370.32 L538.0,370.32 L538.5,370.32 L539.0,370.32 L539.5,370.32 L540.0,370.33 L540.5,370.33 L541.0,370.33 L541.5,370.33 L542.0,370.33 L542.5,370.33 L543.0,370.33 L543.5,370.33 L544.0,370.33 L544.5,370.33 L545.0,370.33 L545.5,370.33 L546.0,370.33 L546.5,370.34 L547.0,370.34 L547.5,370.34 L548.0,370.34 L548.5,370.34 L549.0,370.34 L549.5,370.34 L550.0,370.34 L550.5,370.34 L551.0,370.34 L551.5,370.34 L552.0,370.34 L552.5,370.34 L553.0,370.34 L553.5,370.35 L554.0,370.35 L554.5,370.35 L555.0,370.35 L555.5,370.35 L556.0,370.35 L556.5,370.35 L557.0,370.35 L557.5,370.35 L558.0,370.35 L558.5,370.35 L559.0,370.35 L559.5,370.35 L560.0,370.36 L560.5,370.36 L561.0,370.36 L561.5,370.36 L562.0,370.36 L562.5,370.36 L563.0,370.36 L563.5,370.36 L564.0,370.36 L564.5,370.36 L565.0,370.36 L565.5,370.36 L566.0,370.36 L566.5,370.36 L567.0,370.37 L567.5,370.37 L568.0,370.37 L568.5,370.37 L569.0,370.37 L569.5,370.37 L570.0,370.37 L570.5,370.37 L571.0,370.37 L571.5,370.37 L572.0,370.37 L572.5,370.37 L573.0,370.37 L573.5,370.38 L574.0,370.38 L574.5,370.38 L575.0,370.38 L575.5,370.38 L576.0,370.38 L576.5,370.38 L577.0,370.38 L577.5,370.38 L578.0,370.38 L578.5,370.38 L579.0,370.38 L579.5,370.38 L580.0,370.38 L580.5,370.38 L581.0,370.38 L581.5,370.38 L582.0,370.38 L582.5,370.38 L583.0,370.38 L583.5,370.37 L584.0,370.37 L584.5,370.37 L585.0,370.36 L585.5,370.36 L586.0,370.35 L586.5,370.34 L587.0,370.33 L587.5,370.32 L588.0,370.31 L588.5,370.29 L589.0,370.27 L589.5,370.25 L590.0,370.23 L590.5,370.21 L591.0,370.18 L591.5,370.15 L592.0,370.12 L592.5,370.07 L593.0,370.02 L593.5,369.97 L594.0,369.90 L594.5,369.82 L595.0,369.73 L595.5,369.64 L596.0,369.52 L596.5,369.40 L597.0,369.25 L597.5,369.10 L598.0,368.92 L598.5,368.72 L599.0,368.51 L599.5,368.27 L600.0,368.01 L600.5,367.73 L601.0,367.42 L601.5,367.09 L602.0,366.72 L602.5,366.34 L603.0,365.92 L603.5,365.47 L604.0,365.00 L604.5,364.50 L605.0,363.97 L605.5,363.41 L606.0,362.82 L606.5,362.21 L607.0,361.57 L607.5,360.91 L608.0,360.23 L608.5,359.52 L609.0,358.81 L609.5,358.07 L610.0,357.33 L610.5,356.59 L611.0,355.85 L611.5,355.12 L612.0,354.38 L612.5,353.66 L613.0,352.94 L613.5,352.25 L614.0,351.58 L614.5,350.93 L615.0,350.32 L615.5,349.74 L616.0,349.20 L616.5,348.71 L617.0,348.26 L617.5,347.87 L618.0,347.53 L618.5,347.25 L619.0,347.02 L619.5,346.86 L620.0,346.77 L620.5,346.73 L621.0,346.76 L621.5,346.86 L622.0,347.01 L622.5,347.24 L623.0,347.52 L623.5,347.86 L624.0,348.26 L624.5,348.71 L625.0,349.22 L625.5,349.77 L626.0,350.36 L626.5,351.00 L627.0,351.66 L627.5,352.36 L628.0,353.09 L628.5,353.84 L629.0,354.60 L629.5,355.38 L630.0,356.16 L630.5,356.99 L631.0,357.82 L631.5,358.65 L632.0,359.46 L632.5,360.27 L633.0,361.06 L633.5,361.83 L634.0,362.59 L634.5,363.32 L635.0,364.03 L635.5,364.71 L636.0,365.37 L636.5,366.00 L637.0,366.60 L637.5,367.18 L638.0,367.72 L638.5,368.24 L639.0,368.72 L639.5,369.18 L640.0,369.61 L640.5,370.02 L641.0,370.40 L641.5,370.75 L642.0,371.08 L642.5,371.39 L643.0,371.68 L643.5,371.95 L644.0,372.19 L644.5,372.42 L645.0,372.64 L645.5,372.84 L646.0,373.02 L646.5,373.20 L647.0,373.36 L647.5,373.51 L648.0,373.65 L648.5,373.78 L649.0,373.90 L649.5,374.02 L650.0,374.13 L650.5,374.22 L651.0,374.31 L651.5,374.40 L652.0,374.48 L652.5,374.56 L653.0,374.64 L653.5,374.71 L654.0,374.78 L654.5,374.85 L655.0,374.92 L655.5,374.98 L656.0,375.04 L656.5,375.11 L657.0,375.17 L657.5,375.23 L658.0,375.29 L658.5,375.35 L659.0,375.41 L659.5,375.47 L660.0,375.53 L660.5,375.58 L661.0,375.64 L661.5,375.70 L662.0,375.76 L662.5,375.81 L663.0,375.87 L663.5,375.93 L664.0,375.99 L664.5,376.04 L665.0,376.10 L665.5,376.16 L666.0,376.21 L666.5,376.27 L667.0,376.33 L667.5,376.38 L668.0,376.44 L668.5,376.50 L669.0,376.55 L669.5,376.61 L670.0,376.67 L670.5,376.72 L671.0,376.78 L671.5,376.84 L672.0,376.89 L672.5,376.95 L673.0,377.01 L673.5,377.06 L674.0,377.12 L674.5,377.18 L675.0,377.23 L675.5,377.29 L676.0,377.35 L676.5,377.40 L677.0,377.46 L677.5,377.52 L678.0,377.57 L678.5,377.63 L679.0,377.69 L679.5,377.74 L680.0,377.80 L680.5,377.80 L681.0,377.81 L681.5,377.81 L682.0,377.82 L682.5,377.82 L683.0,377.82 L683.5,377.83 L684.0,377.83 L684.5,377.83 L685.0,377.84 L685.5,377.84 L686.0,377.85 L686.5,377.85 L687.0,377.85 L687.5,377.86 L688.0,377.86 L688.5,377.87 L689.0,377.87 L689.5,377.87 L690.0,377.88 L690.5,377.88 L691.0,377.88 L691.5,377.89 L692.0,377.89 L692.5,377.90 L693.0,377.90 L693.5,377.90 L694.0,377.91 L694.5,377.91 L695.0,377.92 L695.5,377.92 L696.0,377.92 L696.5,377.93 L697.0,377.93 L697.5,377.93 L698.0,377.94 L698.5,377.94 L699.0,377.95 L699.5,377.95 L700.0,377.95 L700.5,377.96 L701.0,377.96 L701.5,377.97 L702.0,377.97 L702.5,377.97 L703.0,377.98 L703.5,377.98 L704.0,377.98 L704.5,377.99 L705.0,377.99 L705.5,378.00 L706.0,378.00 L706.5,378.00 L707.0,378.01 L707.5,378.01 L708.0,378.02 L708.5,378.02 L709.0,378.02 L709.5,378.03 L710.0,378.03 L710.5,378.03 L711.0,378.04 L711.5,378.04 L712.0,378.05 L712.5,378.05 L713.0,378.05 L713.5,378.06 L714.0,378.06 L714.5,378.07 L715.0,378.07 L715.5,378.07 L716.0,378.08 L716.5,378.08 L717.0,378.08 L717.5,378.09 L718.0,378.09" fill="none" stroke="#0000ff" stroke-width="1.1" stroke-linejoin="round" stroke-opacity="1.0"/>
<path d="M523.0,370.30 L523.5,370.30 L524.0,370.30 L524.5,370.30 L525.0,370.30 L525.5,370.30 L526.0,370.30 L526.5,370.31 L527.0,370.31 L527.5,370.31 L528.0,370.31 L528.5,370.31 L529.0,370.31 L529.5,370.31 L530.0,370.31 L530.5,370.31 L531.0,370.31 L531.5,370.31 L532.0,370.31 L532.5,370.31 L533.0,370.31 L533.5,370.32 L534.0,370.32 L534.5,370.32 L535.0,370.32 L535.5,370.32 L536.0,370.32 L536.5,370.32 L537.0,370.32 L537.5,370.32 L538.0,370.32 L538.5,370.32 L539.0,370.32 L539.5,370.32 L540.0,370.33 L540.5,370.33 L541.0,370.33 L541.5,370.33 L542.0,370.33 L542.5,370.33 L543.0,370.33 L543.5,370.33 L544.0,370.33 L544.5,370.33 L545.0,370.33 L545.5,370.33 L546.0,370.33 L546.5,370.34 L547.0,370.34 L547.5,370.34 L548.0,370.34 L548.5,370.34 L549.0,370.34 L549.5,370.34 L550.0,370.34 L550.5,370.34 L551.0,370.34 L551.5,370.34 L552.0,370.34 L552.5,370.34 L553.0,370.34 L553.5,370.35 L554.0,370.35 L554.5,370.35 L555.0,370.35 L555.5,370.35 L556.0,370.35 L556.5,370.35 L557.0,370.35 L557.5,370.35 L558.0,370.35 L558.5,370.35 L559.0,370.35 L559.5,370.35 L560.0,370.35 L560.5,370.35 L561.0,370.36 L561.5,370.36 L562.0,370.36 L562.5,370.36 L563.0,370.36 L563.5,370.36 L564.0,370.36 L564.5,370.36 L565.0,370.36 L565.5,370.35 L566.0,370.35 L566.5,370.35 L567.0,370.35 L567.5,370.35 L568.0,370.34 L568.5,370.34 L569.0,370.33 L569.5,370.33 L570.0,370.32 L570.5,370.31 L571.0,370.30 L571.5,370.29 L572.0,370.28 L572.5,370.26 L573.0,370.24 L573.5,370.22 L574.0,370.20 L574.5,370.17 L575.0,370.14 L575.5,370.11 L576.0,370.07 L576.5,370.03 L577.0,369.99 L577.5,369.93 L578.0,369.88 L578.5,369.82 L579.0,369.75 L579.5,369.68 L580.0,369.60 L580.5,369.51 L581.0,369.42 L581.5,369.32 L582.0,369.21 L582.5,369.10 L583.0,368.98 L583.5,368.86 L584.0,368.73 L584.5,368.60 L585.0,368.46 L585.5,368.31 L586.0,368.17 L586.5,368.02 L587.0,367.87 L587.5,367.71 L588.0,367.56 L588.5,367.41 L589.0,367.26 L589.5,367.11 L590.0,366.97 L590.5,366.84 L591.0,366.72 L591.5,366.61 L592.0,366.50 L592.5,366.41 L593.0,366.32 L593.5,366.25 L594.0,366.19 L594.5,366.14 L595.0,366.10 L595.5,366.08 L596.0,366.07 L596.5,366.08 L597.0,366.10 L597.5,366.14 L598.0,366.19 L598.5,366.25 L599.0,366.33 L599.5,366.42 L600.0,366.52 L600.5,366.63 L601.0,366.75 L601.5,366.88 L602.0,367.02 L602.5,367.17 L603.0,367.32 L603.5,367.48 L604.0,367.64 L604.5,367.80 L605.0,367.96 L605.5,368.13 L606.0,368.29 L606.5,368.45 L607.0,368.61 L607.5,368.76 L608.0,368.92 L608.5,369.06 L609.0,369.20 L609.5,369.34 L610.0,369.47 L610.5,369.61 L611.0,369.74 L611.5,369.87 L612.0,369.99 L612.5,370.11 L613.0,370.21 L613.5,370.31 L614.0,370.41 L614.5,370.50 L615.0,370.58 L615.5,370.66 L616.0,370.74 L616.5,370.80 L617.0,370.87 L617.5,370.93 L618.0,370.99 L618.5,371.04 L619.0,371.09 L619.5,371.14 L620.0,371.18 L620.5,371.22 L621.0,371.26 L621.5,371.30 L622.0,371.34 L622.5,371.37 L623.0,371.41 L623.5,371.44 L624.0,371.47 L624.5,371.50 L625.0,371.53 L625.5,371.56 L626.0,371.59 L626.5,371.61 L627.0,371.64 L627.5,371.67 L628.0,371.69 L628.5,371.72 L629.0,371.75 L629.5,371.77 L630.0,371.80 L630.5,371.86 L631.0,371.93 L631.5,371.99 L632.0,372.06 L632.5,372.12 L633.0,372.19 L633.5,372.25 L634.0,372.32 L634.5,372.38 L635.0,372.45 L635.5,372.51 L636.0,372.58 L636.5,372.64 L637.0,372.71 L637.5,372.77 L638.0,372.84 L638.5,372.90 L639.0,372.97 L639.5,373.03 L640.0,373.10 L640.5,373.16 L641.0,373.23 L641.5,373.29 L642.0,373.36 L642.5,373.42 L643.0,373.49 L643.5,373.55 L644.0,373.62 L644.5,373.68 L645.0,373.75 L645.5,373.81 L646.0,373.88 L646.5,373.94 L647.0,374.01 L647.5,374.07 L648.0,374.14 L648.5,374.20 L649.0,374.27 L649.5,374.33 L650.0,374.40 L650.5,374.46 L651.0,374.51 L651.5,374.57 L652.0,374.63 L652.5,374.68 L653.0,374.74 L653.5,374.80 L654.0,374.85 L654.5,374.91 L655.0,374.97 L655.5,375.02 L656.0,375.08 L656.5,375.14 L657.0,375.19 L657.5,375.25 L658.0,375.31 L658.5,375.36 L659.0,375.42 L659.5,375.48 L660.0,375.53 L660.5,375.59 L661.0,375.65 L661.5,375.70 L662.0,375.76 L662.5,375.82 L663.0,375.87 L663.5,375.93 L664.0,375.99 L664.5,376.04 L665.0,376.10 L665.5,376.16 L666.0,376.21 L666.5,376.27 L667.0,376.33 L667.5,376.38 L668.0,376.44 L668.5,376.50 L669.0,376.55 L669.5,376.61 L670.0,376.67 L670.5,376.72 L671.0,376.78 L671.5,376.84 L672.0,376.89 L672.5,376.95 L673.0,377.01 L673.5,377.06 L674.0,377.12 L674.5,377.18 L675.0,377.23 L675.5,377.29 L676.0,377.35 L676.5,377.40 L677.0,377.46 L677.5,377.52 L678.0,377.57 L678.5,377.63 L679.0,377.69 L679.5,377.74 L680.0,377.80 L680.5,377.80 L681.0,377.81 L681.5,377.81 L682.0,377.82 L682.5,377.82 L683.0,377.82 L683.5,377.83 L684.0,377.83 L684.5,377.83 L685.0,377.84 L685.5,377.84 L686.0,377.85 L686.5,377.85 L687.0,377.85 L687.5,377.86 L688.0,377.86 L688.5,377.87 L689.0,377.87 L689.5,377.87 L690.0,377.88 L690.5,377.88 L691.0,377.88 L691.5,377.89 L692.0,377.89 L692.5,377.90 L693.0,377.90 L693.5,377.90 L694.0,377.91 L694.5,377.91 L695.0,377.92 L695.5,377.92 L696.0,377.92 L696.5,377.93 L697.0,377.93 L697.5,377.93 L698.0,377.94 L698.5,377.94 L699.0,377.95 L699.5,377.95 L700.0,377.95 L700.5,377.96 L701.0,377.96 L701.5,377.97 L702.0,377.97 L702.5,377.97 L703.0,377.98 L703.5,377.98 L704.0,377.98 L704.5,377.99 L705.0,377.99 L705.5,378.00 L706.0,378.00 L706.5,378.00 L707.0,378.01 L707.5,378.01 L708.0,378.02 L708.5,378.02 L709.0,378.02 L709.5,378.03 L710.0,378.03 L710.5,378.03 L711.0,378.04 L711.5,378.04 L712.0,378.05 L712.5,378.05 L713.0,378.05 L713.5,378.06 L714.0,378.06 L714.5,378.07 L715.0,378.07 L715.5,378.07 L716.0,378.08 L716.5,378.08 L717.0,378.08 L717.5,378.09 L718.0,378.09" fill="none" stroke="#ff8000" stroke-width="1.1" stroke-linejoin="round" stroke-opacity="1.0"/>
<path d="M522.6,370.04 L523.1,370.04 L523.6,370.04 L524.1,370.04 L524.6,370.04 L525.1,370.04 L525.6,370.04 L526.1,370.04 L526.6,370.04 L527.1,370.04 L527.6,370.04 L528.1,370.04 L528.6,370.04 L529.1,370.04 L529.6,370.04 L530.1,370.04 L530.6,370.04 L531.1,370.04 L531.6,370.04 L532.1,370.04 L532.6,370.04 L533.1,370.04 L533.6,370.04 L534.1,370.04 L534.6,370.04 L535.1,370.04 L535.6,370.04 L536.1,370.04 L536.6,370.04 L537.1,370.04 L537.6,370.04 L538.1,370.04 L538.6,370.04 L539.1,370.04 L539.6,370.04 L540.1,370.04 L540.6,370.04 L541.1,370.04 L541.6,370.04 L542.1,370.04 L542.6,370.04 L543.1,370.04 L543.6,370.04 L544.1,370.04 L544.6,370.04 L545.1,370.04 L545.6,370.04 L546.1,370.04 L546.6,370.04 L547.1,370.04 L547.6,370.04 L548.1,370.04 L548.6,370.04 L549.1,370.04 L549.6,370.03 L550.1,370.03 L550.6,370.03 L551.1,370.03 L551.6,370.03 L552.1,370.03 L552.6,370.03 L553.1,370.03 L553.6,370.03 L554.1,370.03 L554.6,370.03 L555.1,370.03 L555.6,370.03 L556.1,370.03 L556.6,370.03 L557.1,370.03 L557.6,370.03 L558.1,370.02 L558.6,370.02 L559.1,370.02 L559.6,370.02 L560.1,370.02 L560.6,370.02 L561.1,370.02 L561.6,370.02 L562.1,370.02 L562.6,370.01 L563.1,370.01 L563.6,370.01 L564.1,370.01 L564.6,370.00 L565.1,370.00 L565.6,370.00 L566.1,369.99 L566.6,369.99 L567.1,369.99 L567.6,369.98 L568.1,369.97 L568.6,369.97 L569.1,369.96 L569.6,369.95 L570.1,369.94 L570.6,369.92 L571.1,369.91 L571.6,369.89 L572.1,369.88 L572.6,369.86 L573.1,369.83 L573.6,369.81 L574.1,369.78 L574.6,369.75 L575.1,369.71 L575.6,369.67 L576.1,369.62 L576.6,369.57 L577.1,369.52 L577.6,369.46 L578.1,369.39 L578.6,369.32 L579.1,369.24 L579.6,369.16 L580.1,369.07 L580.6,368.97 L581.1,368.87 L581.6,368.76 L582.1,368.64 L582.6,368.51 L583.1,368.38 L583.6,368.24 L584.1,368.10 L584.6,367.95 L585.1,367.80 L585.6,367.64 L586.1,367.48 L586.6,367.31 L587.1,367.14 L587.6,366.97 L588.1,366.79 L588.6,366.62 L589.1,366.44 L589.6,366.27 L590.1,366.10 L590.6,365.94 L591.1,365.78 L591.6,365.62 L592.1,365.46 L592.6,365.31 L593.1,365.16 L593.6,365.02 L594.1,364.87 L594.6,364.73 L595.1,364.59 L595.6,364.45 L596.1,364.32 L596.6,364.18 L597.1,364.03 L597.6,363.89 L598.1,363.73 L598.6,363.57 L599.1,363.40 L599.6,363.22 L600.1,363.03 L600.6,362.82 L601.1,362.59 L601.6,362.35 L602.1,362.08 L602.6,361.79 L603.1,361.47 L603.6,361.13 L604.1,360.76 L604.6,360.36 L605.1,359.93 L605.6,359.48 L606.1,358.99 L606.6,358.47 L607.1,357.92 L607.6,357.34 L608.1,356.73 L608.6,356.10 L609.1,355.44 L609.6,354.76 L610.1,354.07 L610.6,353.35 L611.1,352.62 L611.6,351.87 L612.1,351.11 L612.6,350.33 L613.1,349.55 L613.6,348.75 L614.1,347.93 L614.6,347.11 L615.1,346.28 L615.6,345.43 L616.1,344.57 L616.6,343.69 L617.1,342.80 L617.6,341.87 L618.1,340.92 L618.6,339.93 L619.1,338.90 L619.6,337.82 L620.1,336.68 L620.6,335.48 L621.1,334.20 L621.6,332.84 L622.1,331.39 L622.6,329.84 L623.1,328.18 L623.6,326.40 L624.1,324.50 L624.6,322.47 L625.1,320.32 L625.6,318.03 L626.1,315.60 L626.6,313.05 L627.1,310.36 L627.6,307.56 L628.1,304.64 L628.6,301.62 L629.1,298.51 L629.6,295.33 L630.1,292.13 L630.6,288.89 L631.1,285.64 L631.6,282.39 L632.1,279.18 L632.6,276.02 L633.1,272.94 L633.6,269.97 L634.1,267.13 L634.6,264.44 L635.1,261.92 L635.6,259.60 L636.1,257.48 L636.6,255.59 L637.1,253.92 L637.6,252.49 L638.1,251.29 L638.6,250.32 L639.1,249.56 L639.6,249.01 L640.1,248.64 L640.6,248.44 L641.1,248.39 L641.6,248.46 L642.1,248.64 L642.6,248.89 L643.1,249.20 L643.6,249.54 L644.1,249.90 L644.6,250.26 L645.1,250.61 L645.6,250.94 L646.1,251.23 L646.6,251.49 L647.1,251.70 L647.6,251.87 L648.1,252.01 L648.6,252.12 L649.1,252.21 L649.6,252.28 L650.1,252.35 L650.6,252.44 L651.1,252.57 L651.6,252.74 L652.1,252.99 L652.6,253.32 L653.1,253.75 L653.6,254.31 L654.1,255.00 L654.6,255.84 L655.1,256.84 L655.6,258.01 L656.1,259.36 L656.6,260.89 L657.1,262.61 L657.6,264.52 L658.1,266.62 L658.6,268.89 L659.1,271.35 L659.6,273.96 L660.1,276.74 L660.6,279.66 L661.1,282.71 L661.6,285.87 L662.1,289.14 L662.6,292.49 L663.1,295.91 L663.6,299.38 L664.1,302.88 L664.6,306.39 L665.1,309.91 L665.6,313.41 L666.1,316.87 L666.6,320.29 L667.1,323.65 L667.6,326.94 L668.1,330.14 L668.6,333.25 L669.1,336.25 L669.6,339.15 L670.1,341.93 L670.6,344.59 L671.1,347.12 L671.6,349.53 L672.1,351.81 L672.6,353.97 L673.1,355.99 L673.6,357.89 L674.1,359.67 L674.6,361.32 L675.1,362.86 L675.6,364.29 L676.1,365.61 L676.6,366.82 L677.1,367.94 L677.6,368.96 L678.1,369.90 L678.6,370.76 L679.1,371.54 L679.6,372.25 L680.1,372.84 L680.6,373.37 L681.1,373.84 L681.6,374.27 L682.1,374.64 L682.6,374.98 L683.1,375.28 L683.6,375.54 L684.1,375.77 L684.6,375.98 L685.1,376.16 L685.6,376.32 L686.1,376.46 L686.6,376.58 L687.1,376.68 L687.6,376.78 L688.1,376.86 L688.6,376.93 L689.1,376.99 L689.6,377.05 L690.1,377.10 L690.6,377.14 L691.1,377.17 L691.6,377.21 L692.1,377.24 L692.6,377.26 L693.1,377.29 L693.6,377.31 L694.1,377.33 L694.6,377.35 L695.1,377.36 L695.6,377.38 L696.1,377.39 L696.6,377.40 L697.1,377.42 L697.6,377.43 L698.1,377.44 L698.6,377.45 L699.1,377.46 L699.6,377.47 L700.1,377.48 L700.6,377.49 L701.1,377.50 L701.6,377.51 L702.1,377.51 L702.6,377.52 L703.1,377.53 L703.6,377.54 L704.1,377.55 L704.6,377.55 L705.1,377.56 L705.6,377.57 L706.1,377.58 L706.6,377.59 L707.1,377.59 L707.6,377.60 L708.1,377.61 L708.6,377.61 L709.1,377.62 L709.6,377.63 L710.1,377.64 L710.6,377.64 L711.1,377.65 L711.6,377.66 L712.1,377.66 L712.6,377.67 L713.1,377.68 L713.6,377.68 L714.1,377.69 L714.6,377.69 L715.1,377.70 L715.6,377.71 L716.1,377.71 L716.6,377.72 L717.1,377.73 L717.6,377.73" fill="none" stroke="#111" stroke-width="0.9" stroke-linejoin="round" stroke-opacity="1.0"/>
<path d="M523.0,370.24 L523.5,370.24 L524.0,370.24 L524.5,370.24 L525.0,370.24 L525.5,370.24 L526.0,370.24 L526.5,370.24 L527.0,370.24 L527.5,370.24 L528.0,370.24 L528.5,370.24 L529.0,370.24 L529.5,370.24 L530.0,370.24 L530.5,370.24 L531.0,370.24 L531.5,370.24 L532.0,370.24 L532.5,370.24 L533.0,370.24 L533.5,370.24 L534.0,370.24 L534.5,370.24 L535.0,370.24 L535.5,370.24 L536.0,370.24 L536.5,370.24 L537.0,370.24 L537.5,370.24 L538.0,370.24 L538.5,370.24 L539.0,370.24 L539.5,370.24 L540.0,370.24 L540.5,370.24 L541.0,370.24 L541.5,370.24 L542.0,370.24 L542.5,370.24 L543.0,370.24 L543.5,370.24 L544.0,370.24 L544.5,370.24 L545.0,370.24 L545.5,370.24 L546.0,370.24 L546.5,370.24 L547.0,370.24 L547.5,370.24 L548.0,370.24 L548.5,370.24 L549.0,370.24 L549.5,370.24 L550.0,370.23 L550.5,370.23 L551.0,370.23 L551.5,370.23 L552.0,370.23 L552.5,370.23 L553.0,370.23 L553.5,370.23 L554.0,370.23 L554.5,370.23 L555.0,370.23 L555.5,370.23 L556.0,370.23 L556.5,370.23 L557.0,370.23 L557.5,370.23 L558.0,370.23 L558.5,370.22 L559.0,370.22 L559.5,370.22 L560.0,370.22 L560.5,370.22 L561.0,370.22 L561.5,370.22 L562.0,370.22 L562.5,370.22 L563.0,370.21 L563.5,370.21 L564.0,370.21 L564.5,370.21 L565.0,370.20 L565.5,370.20 L566.0,370.20 L566.5,370.19 L567.0,370.19 L567.5,370.19 L568.0,370.18 L568.5,370.17 L569.0,370.17 L569.5,370.16 L570.0,370.15 L570.5,370.14 L571.0,370.12 L571.5,370.11 L572.0,370.09 L572.5,370.08 L573.0,370.06 L573.5,370.03 L574.0,370.01 L574.5,369.98 L575.0,369.95 L575.5,369.91 L576.0,369.87 L576.5,369.82 L577.0,369.77 L577.5,369.72 L578.0,369.66 L578.5,369.59 L579.0,369.52 L579.5,369.44 L580.0,369.36 L580.5,369.27 L581.0,369.17 L581.5,369.07 L582.0,368.96 L582.5,368.84 L583.0,368.71 L583.5,368.58 L584.0,368.44 L584.5,368.30 L585.0,368.15 L585.5,368.00 L586.0,367.84 L586.5,367.68 L587.0,367.51 L587.5,367.34 L588.0,367.17 L588.5,366.99 L589.0,366.82 L589.5,366.64 L590.0,366.47 L590.5,366.30 L591.0,366.14 L591.5,365.98 L592.0,365.82 L592.5,365.66 L593.0,365.51 L593.5,365.36 L594.0,365.22 L594.5,365.07 L595.0,364.93 L595.5,364.79 L596.0,364.65 L596.5,364.52 L597.0,364.38 L597.5,364.23 L598.0,364.09 L598.5,363.93 L599.0,363.77 L599.5,363.60 L600.0,363.42 L600.5,363.23 L601.0,363.02 L601.5,362.79 L602.0,362.55 L602.5,362.28 L603.0,361.99 L603.5,361.67 L604.0,361.33 L604.5,360.96 L605.0,360.56 L605.5,360.13 L606.0,359.68 L606.5,359.19 L607.0,358.67 L607.5,358.12 L608.0,357.54 L608.5,356.93 L609.0,356.30 L609.5,355.64 L610.0,354.96 L610.5,354.27 L611.0,353.55 L611.5,352.82 L612.0,352.07 L612.5,351.31 L613.0,350.53 L613.5,349.75 L614.0,348.95 L614.5,348.13 L615.0,347.31 L615.5,346.48 L616.0,345.63 L616.5,344.77 L617.0,343.89 L617.5,343.00 L618.0,342.07 L618.5,341.12 L619.0,340.13 L619.5,339.10 L620.0,338.02 L620.5,336.88 L621.0,335.68 L621.5,334.40 L622.0,333.04 L622.5,331.59 L623.0,330.04 L623.5,328.38 L624.0,326.60 L624.5,324.70 L625.0,322.67 L625.5,320.52 L626.0,318.23 L626.5,315.80 L627.0,313.25 L627.5,310.56 L628.0,307.76 L628.5,304.84 L629.0,301.82 L629.5,298.71 L630.0,295.53 L630.5,292.33 L631.0,289.09 L631.5,285.84 L632.0,282.59 L632.5,279.38 L633.0,276.22 L633.5,273.14 L634.0,270.17 L634.5,267.33 L635.0,264.64 L635.5,262.12 L636.0,259.80 L636.5,257.68 L637.0,255.79 L637.5,254.12 L638.0,252.69 L638.5,251.49 L639.0,250.52 L639.5,249.76 L640.0,249.21 L640.5,248.84 L641.0,248.64 L641.5,248.59 L642.0,248.66 L642.5,248.84 L643.0,249.09 L643.5,249.40 L644.0,249.74 L644.5,250.10 L645.0,250.46 L645.5,250.81 L646.0,251.14 L646.5,251.43 L647.0,251.69 L647.5,251.90 L648.0,252.07 L648.5,252.21 L649.0,252.32 L649.5,252.41 L650.0,252.48 L650.5,252.55 L651.0,252.64 L651.5,252.77 L652.0,252.94 L652.5,253.19 L653.0,253.52 L653.5,253.95 L654.0,254.51 L654.5,255.20 L655.0,256.04 L655.5,257.04 L656.0,258.21 L656.5,259.56 L657.0,261.09 L657.5,262.81 L658.0,264.72 L658.5,266.82 L659.0,269.09 L659.5,271.55 L660.0,274.16 L660.5,276.94 L661.0,279.86 L661.5,282.91 L662.0,286.07 L662.5,289.34 L663.0,292.69 L663.5,296.11 L664.0,299.58 L664.5,303.08 L665.0,306.59 L665.5,310.11 L666.0,313.61 L666.5,317.07 L667.0,320.49 L667.5,323.85 L668.0,327.14 L668.5,330.34 L669.0,333.45 L669.5,336.45 L670.0,339.35 L670.5,342.13 L671.0,344.79 L671.5,347.32 L672.0,349.73 L672.5,352.01 L673.0,354.17 L673.5,356.19 L674.0,358.09 L674.5,359.87 L675.0,361.52 L675.5,363.06 L676.0,364.49 L676.5,365.81 L677.0,367.02 L677.5,368.14 L678.0,369.16 L678.5,370.10 L679.0,370.96 L679.5,371.74 L680.0,372.45 L680.5,373.04 L681.0,373.57 L681.5,374.04 L682.0,374.47 L682.5,374.84 L683.0,375.18 L683.5,375.48 L684.0,375.74 L684.5,375.97 L685.0,376.18 L685.5,376.36 L686.0,376.52 L686.5,376.66 L687.0,376.78 L687.5,376.88 L688.0,376.98 L688.5,377.06 L689.0,377.13 L689.5,377.19 L690.0,377.25 L690.5,377.30 L691.0,377.34 L691.5,377.37 L692.0,377.41 L692.5,377.44 L693.0,377.46 L693.5,377.49 L694.0,377.51 L694.5,377.53 L695.0,377.55 L695.5,377.56 L696.0,377.58 L696.5,377.59 L697.0,377.60 L697.5,377.62 L698.0,377.63 L698.5,377.64 L699.0,377.65 L699.5,377.66 L700.0,377.67 L700.5,377.68 L701.0,377.69 L701.5,377.70 L702.0,377.71 L702.5,377.71 L703.0,377.72 L703.5,377.73 L704.0,377.74 L704.5,377.75 L705.0,377.75 L705.5,377.76 L706.0,377.77 L706.5,377.78 L707.0,377.79 L707.5,377.79 L708.0,377.80 L708.5,377.81 L709.0,377.81 L709.5,377.82 L710.0,377.83 L710.5,377.84 L711.0,377.84 L711.5,377.85 L712.0,377.86 L712.5,377.86 L713.0,377.87 L713.5,377.88 L714.0,377.88 L714.5,377.89 L715.0,377.89 L715.5,377.90 L716.0,377.91 L716.5,377.91 L717.0,377.92 L717.5,377.93 L718.0,377.93" fill="none" stroke="#ff0000" stroke-width="1.15" stroke-linejoin="round" stroke-opacity="1.0"/>
<path d="M522.6,370.04 L523.1,370.04 L523.6,370.04 L524.1,370.04 L524.6,370.04 L525.1,370.04 L525.6,370.04 L526.1,370.04 L526.6,370.04 L527.1,370.04 L527.6,370.04 L528.1,370.04 L528.6,370.04 L529.1,370.04 L529.6,370.04 L530.1,370.04 L530.6,370.04 L531.1,370.04 L531.6,370.04 L532.1,370.04 L532.6,370.04 L533.1,370.04 L533.6,370.04 L534.1,370.04 L534.6,370.04 L535.1,370.04 L535.6,370.04 L536.1,370.04 L536.6,370.04 L537.1,370.04 L537.6,370.04 L538.1,370.04 L538.6,370.04 L539.1,370.04 L539.6,370.04 L540.1,370.04 L540.6,370.04 L541.1,370.04 L541.6,370.04 L542.1,370.04 L542.6,370.04 L543.1,370.04 L543.6,370.04 L544.1,370.04 L544.6,370.04 L545.1,370.04 L545.6,370.04 L546.1,370.04 L546.6,370.04 L547.1,370.04 L547.6,370.04 L548.1,370.04 L548.6,370.04 L549.1,370.04 L549.6,370.03 L550.1,370.03 L550.6,370.03 L551.1,370.03 L551.6,370.03 L552.1,370.03 L552.6,370.03 L553.1,370.03 L553.6,370.03 L554.1,370.03 L554.6,370.03 L555.1,370.03 L555.6,370.03 L556.1,370.03 L556.6,370.03 L557.1,370.03 L557.6,370.03 L558.1,370.02 L558.6,370.02 L559.1,370.02 L559.6,370.02 L560.1,370.02 L560.6,370.02 L561.1,370.02 L561.6,370.02 L562.1,370.02 L562.6,370.01 L563.1,370.01 L563.6,370.01 L564.1,370.01 L564.6,370.00 L565.1,370.00 L565.6,370.00 L566.1,369.99 L566.6,369.99 L567.1,369.99 L567.6,369.98 L568.1,369.97 L568.6,369.97 L569.1,369.96 L569.6,369.95 L570.1,369.94 L570.6,369.92 L571.1,369.91 L571.6,369.89 L572.1,369.88 L572.6,369.86 L573.1,369.83 L573.6,369.81 L574.1,369.78 L574.6,369.75 L575.1,369.71 L575.6,369.67 L576.1,369.62 L576.6,369.57 L577.1,369.52 L577.6,369.46 L578.1,369.39 L578.6,369.32 L579.1,369.24 L579.6,369.16 L580.1,369.07 L580.6,368.97 L581.1,368.87 L581.6,368.76 L582.1,368.64 L582.6,368.51 L583.1,368.38 L583.6,368.24 L584.1,368.10 L584.6,367.95 L585.1,367.80 L585.6,367.64 L586.1,367.48 L586.6,367.31 L587.1,367.14 L587.6,366.97 L588.1,366.79 L588.6,366.62 L589.1,366.44 L589.6,366.27 L590.1,366.10 L590.6,365.94 L591.1,365.78 L591.6,365.62 L592.1,365.46 L592.6,365.31 L593.1,365.16 L593.6,365.02 L594.1,364.87 L594.6,364.73 L595.1,364.59 L595.6,364.45 L596.1,364.32 L596.6,364.18 L597.1,364.03 L597.6,363.89 L598.1,363.73 L598.6,363.57 L599.1,363.40 L599.6,363.22 L600.1,363.03 L600.6,362.82 L601.1,362.59 L601.6,362.35 L602.1,362.08 L602.6,361.79 L603.1,361.47 L603.6,361.13 L604.1,360.76 L604.6,360.36 L605.1,359.93 L605.6,359.48 L606.1,358.99 L606.6,358.47 L607.1,357.92 L607.6,357.34 L608.1,356.73 L608.6,356.10 L609.1,355.44 L609.6,354.76 L610.1,354.07 L610.6,353.35 L611.1,352.62 L611.6,351.87 L612.1,351.11 L612.6,350.33 L613.1,349.55 L613.6,348.75 L614.1,347.93 L614.6,347.11 L615.1,346.28 L615.6,345.43 L616.1,344.57 L616.6,343.69 L617.1,342.80 L617.6,341.87 L618.1,340.92 L618.6,339.93 L619.1,338.90 L619.6,337.82 L620.1,336.68 L620.6,335.48 L621.1,334.20 L621.6,332.84 L622.1,331.39 L622.6,329.84 L623.1,328.18 L623.6,326.40 L624.1,324.50 L624.6,322.47 L625.1,320.32 L625.6,318.03 L626.1,315.60 L626.6,313.05 L627.1,310.36 L627.6,307.56 L628.1,304.64 L628.6,301.62 L629.1,298.51 L629.6,295.33 L630.1,292.13 L630.6,288.89 L631.1,285.64 L631.6,282.39 L632.1,279.18 L632.6,276.02 L633.1,272.94 L633.6,269.97 L634.1,267.13 L634.6,264.44 L635.1,261.92 L635.6,259.60 L636.1,257.48 L636.6,255.59 L637.1,253.92 L637.6,252.49 L638.1,251.29 L638.6,250.32 L639.1,249.56 L639.6,249.01 L640.1,248.64 L640.6,248.44 L641.1,248.39 L641.6,248.46 L642.1,248.64 L642.6,248.89 L643.1,249.20 L643.6,249.54 L644.1,249.90 L644.6,250.26 L645.1,250.61 L645.6,250.94 L646.1,251.23 L646.6,251.49 L647.1,251.70 L647.6,251.87 L648.1,252.01 L648.6,252.12 L649.1,252.21 L649.6,252.28 L650.1,252.35 L650.6,252.44 L651.1,252.57 L651.6,252.74 L652.1,252.99 L652.6,253.32 L653.1,253.75 L653.6,254.31 L654.1,255.00 L654.6,255.84 L655.1,256.84 L655.6,258.01 L656.1,259.36 L656.6,260.89 L657.1,262.61 L657.6,264.52 L658.1,266.62 L658.6,268.89 L659.1,271.35 L659.6,273.96 L660.1,276.74 L660.6,279.66 L661.1,282.71 L661.6,285.87 L662.1,289.14 L662.6,292.49 L663.1,295.91 L663.6,299.38 L664.1,302.88 L664.6,306.39 L665.1,309.91 L665.6,313.41 L666.1,316.87 L666.6,320.29 L667.1,323.65 L667.6,326.94 L668.1,330.14 L668.6,333.25 L669.1,336.25 L669.6,339.15 L670.1,341.93 L670.6,344.59 L671.1,347.12 L671.6,349.53 L672.1,351.81 L672.6,353.97 L673.1,355.99 L673.6,357.89 L674.1,359.67 L674.6,361.32 L675.1,362.86 L675.6,364.29 L676.1,365.61 L676.6,366.82 L677.1,367.94 L677.6,368.96 L678.1,369.90 L678.6,370.76 L679.1,371.54 L679.6,372.25 L680.1,372.84 L680.6,373.37 L681.1,373.84 L681.6,374.27 L682.1,374.64 L682.6,374.98 L683.1,375.28 L683.6,375.54 L684.1,375.77 L684.6,375.98 L685.1,376.16 L685.6,376.32 L686.1,376.46 L686.6,376.58 L687.1,376.68 L687.6,376.78 L688.1,376.86 L688.6,376.93 L689.1,376.99 L689.6,377.05 L690.1,377.10 L690.6,377.14 L691.1,377.17 L691.6,377.21 L692.1,377.24 L692.6,377.26 L693.1,377.29 L693.6,377.31 L694.1,377.33 L694.6,377.35 L695.1,377.36 L695.6,377.38 L696.1,377.39 L696.6,377.40 L697.1,377.42 L697.6,377.43 L698.1,377.44 L698.6,377.45 L699.1,377.46 L699.6,377.47 L700.1,377.48 L700.6,377.49 L701.1,377.50 L701.6,377.51 L702.1,377.51 L702.6,377.52 L703.1,377.53 L703.6,377.54 L704.1,377.55 L704.6,377.55 L705.1,377.56 L705.6,377.57 L706.1,377.58 L706.6,377.59 L707.1,377.59 L707.6,377.60 L708.1,377.61 L708.6,377.61 L709.1,377.62 L709.6,377.63 L710.1,377.64 L710.6,377.64 L711.1,377.65 L711.6,377.66 L712.1,377.66 L712.6,377.67 L713.1,377.68 L713.6,377.68 L714.1,377.69 L714.6,377.69 L715.1,377.70 L715.6,377.71 L716.1,377.71 L716.6,377.72 L717.1,377.73 L717.6,377.73" fill="none" stroke="#000" stroke-width="0.75" stroke-dasharray="1.6 2.4" stroke-opacity="0.55"/>
<line x1="526.90" y1="234.30" x2="542.90" y2="234.30" stroke="#111" stroke-width="1.4"/>
<line x1="526.90" y1="243.60" x2="542.90" y2="243.60" stroke="#ff2020" stroke-width="1.3"/>
<text x="544.90" y="237.10" font-size="7.5" textLength="55.70" lengthAdjust="spacingAndGlyphs" fill="#111" stroke="#111" stroke-width="0.14">Experimental data</text>
<text x="544.90" y="246.40" font-size="7.5" textLength="21.20" lengthAdjust="spacingAndGlyphs" fill="#111" stroke="#111" stroke-width="0.14">Best fit</text>
<text x="589.00" y="274.20" font-size="7.5" textLength="26.70" lengthAdjust="spacingAndGlyphs" fill="#111" stroke="#111" stroke-width="0.14">C-O,C-N</text>
<line x1="636.20" y1="290.00" x2="623.09" y2="277.57" stroke="#111" stroke-width="0.75"/>
<path d="M620.70,275.30 L624.49,276.83 L622.43,279.00 Z" fill="#111"/>
<text x="681.40" y="298.50" font-size="7.5" textLength="29.00" lengthAdjust="spacingAndGlyphs" fill="#111" stroke="#111" stroke-width="0.14">C-C,C=C</text>
<line x1="657.50" y1="326.60" x2="678.86" y2="303.52" stroke="#111" stroke-width="0.75"/>
<path d="M681.10,301.10 L679.62,304.91 L677.42,302.87 Z" fill="#111"/>
<text x="595.60" y="328.00" font-size="7.5" textLength="14.80" lengthAdjust="spacingAndGlyphs" fill="#111" stroke="#111" stroke-width="0.14">C=O</text>
<line x1="617.30" y1="353.20" x2="606.20" y2="341.77" stroke="#111" stroke-width="0.75"/>
<path d="M603.90,339.40 L607.62,341.08 L605.47,343.17 Z" fill="#111"/>
<text x="569.50" y="349.10" font-size="7.5" textLength="22.40" lengthAdjust="spacingAndGlyphs" fill="#111" stroke="#111" stroke-width="0.14">O-C=O</text>
<line x1="597.70" y1="366.50" x2="588.01" y2="353.92" stroke="#111" stroke-width="0.75"/>
<path d="M586.00,351.30 L589.51,353.40 L587.13,355.23 Z" fill="#111"/>
<text x="713.20" y="220.70" font-size="12.4" text-anchor="middle" fill="#222" stroke="#222" stroke-width="0.05">(e)</text>
</svg>
</body></html>
